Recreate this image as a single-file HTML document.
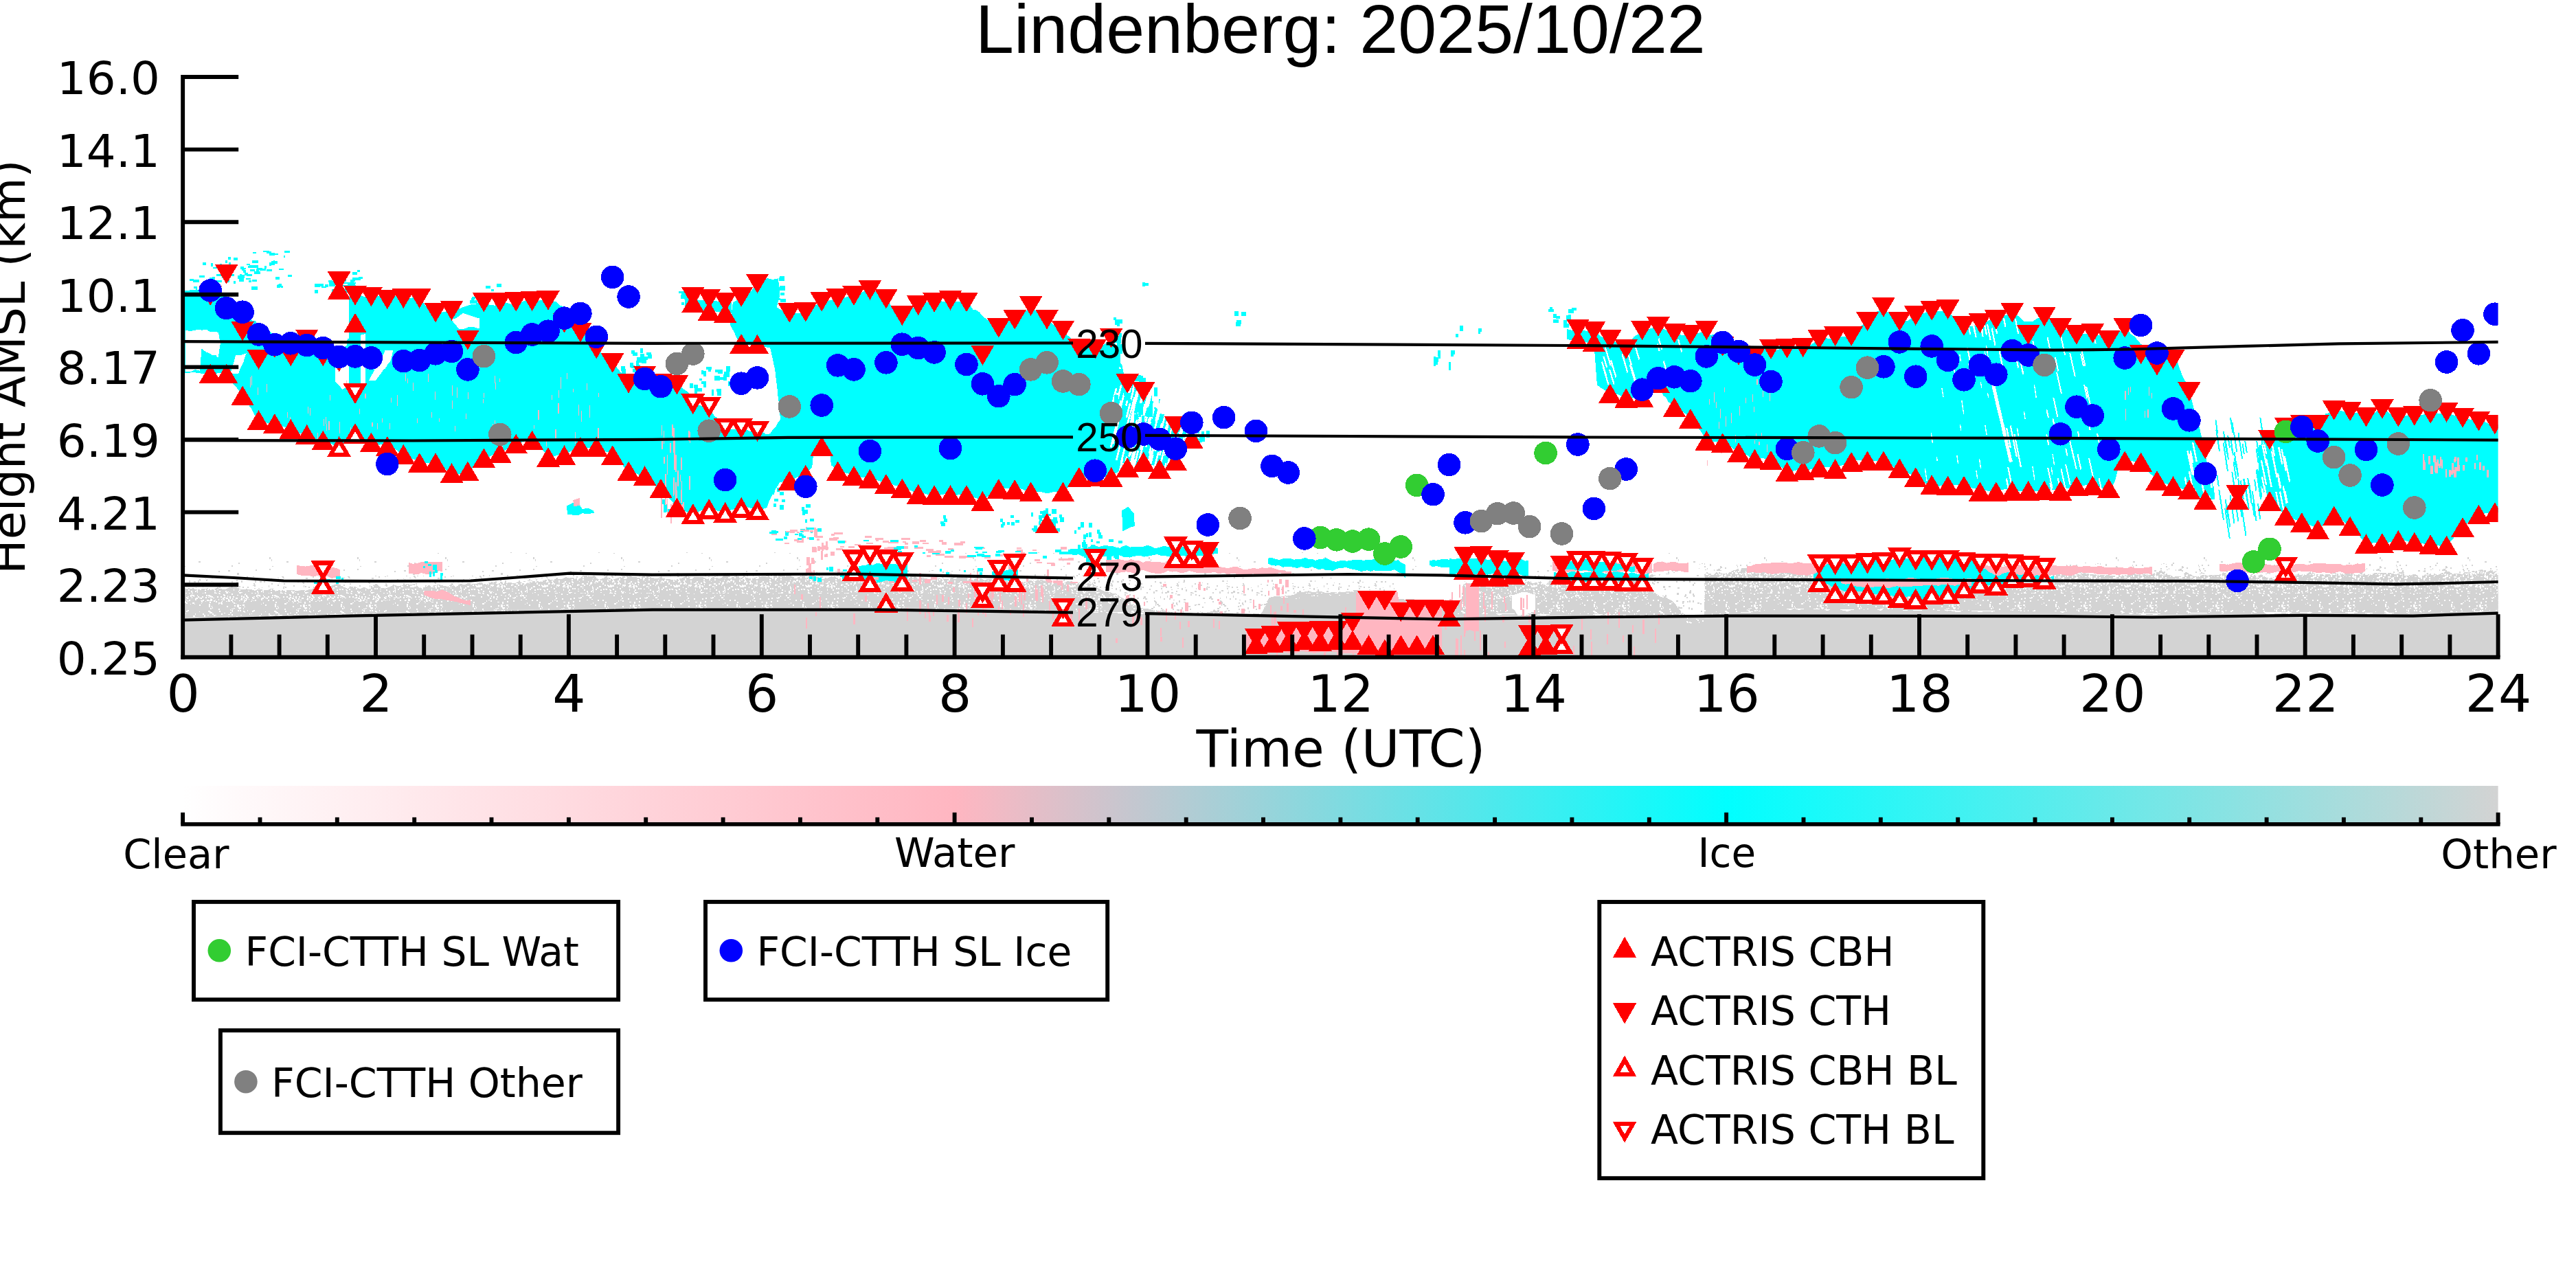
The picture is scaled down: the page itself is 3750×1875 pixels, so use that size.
<!DOCTYPE html>
<html lang="en"><head><meta charset="utf-8"><title>Lindenberg: 2025/10/22</title>
<style>html,body{margin:0;padding:0;background:#fff;overflow:hidden}svg{display:block}</style></head>
<body>
<svg width="3750" height="1875" viewBox="0 0 3750 1875">
<rect width="3750" height="1875" fill="#fff"/>
<defs><clipPath id="axclip"><rect x="266.15" y="112.0" width="3370.45" height="844.8"/></clipPath></defs>
<g id="fills" shape-rendering="crispEdges">
<defs>
<pattern id="n1" width="96" height="96" patternUnits="userSpaceOnUse"><rect width="96" height="96" fill="#d3d3d3"/><path d="M61 84h2v2h-2zM47 56h2v1h-2zM28 4h2v2h-2zM5 78h2v1h-2zM54 61h2v1h-2zM77 85h2v2h-2zM92 92h2v2h-2zM86 81h2v2h-2zM68 73h2v2h-2zM57 22h1v2h-1zM14 80h1v2h-1zM12 25h2v2h-2zM11 55h2v2h-2zM26 11h2v2h-2zM54 59h2v2h-2zM56 56h2v1h-2zM75 70h2v3h-2zM95 47h2v3h-2zM38 2h2v2h-2zM7 67h2v2h-2zM9 31h2v2h-2zM5 10h2v3h-2zM72 74h2v2h-2zM63 61h2v2h-2zM65 76h1v1h-1zM0 4h2v2h-2zM80 6h2v2h-2zM73 56h2v2h-2zM28 76h2v2h-2zM44 22h2v2h-2zM80 27h2v2h-2zM64 75h2v2h-2zM75 68h3v1h-3zM49 58h2v2h-2zM20 77h2v2h-2zM82 83h2v2h-2zM17 28h2v3h-2zM84 22h2v2h-2zM59 92h1v2h-1zM28 83h1v1h-1zM10 15h2v2h-2zM33 13h2v2h-2zM67 4h1v2h-1zM4 59h1v2h-1zM23 85h2v2h-2zM56 49h2v2h-2zM85 67h2v2h-2zM27 42h2v2h-2zM12 96h1v2h-1zM18 40h2v2h-2zM29 34h1v2h-1zM20 46h2v2h-2zM13 39h2v2h-2zM11 27h2v2h-2zM74 34h2v2h-2zM58 51h2v2h-2zM91 60h2v1h-2zM59 41h2v2h-2zM20 42h2v2h-2zM14 35h3v2h-3zM67 31h2v2h-2zM80 75h2v2h-2zM59 64h2v1h-2zM20 83h1v2h-1zM11 30h1v1h-1zM55 63h3v1h-3zM67 19h2v2h-2zM25 95h3v2h-3zM89 59h2v2h-2zM22 14h1v2h-1zM77 11h2v2h-2zM90 54h2v1h-2zM10 40h2v2h-2zM86 92h2v2h-2zM68 46h2v2h-2zM25 57h3v2h-3zM64 7h1v2h-1zM73 92h2v1h-2zM53 68h1v2h-1zM82 39h2v1h-2zM53 44h2v2h-2zM31 44h2v2h-2zM33 38h1v2h-1zM44 10h3v2h-3zM50 38h2v2h-2zM60 80h2v2h-2zM59 85h1v2h-1zM20 76h1v1h-1zM36 79h2v2h-2zM61 42h2v2h-2zM38 57h1v2h-1zM49 57h2v2h-2zM64 50h2v1h-2zM26 21h1v2h-1zM82 36h2v2h-2zM56 6h2v2h-2zM80 87h1v2h-1zM65 72h2v1h-2zM8 35h2v2h-2zM45 26h2v2h-2zM70 42h2v2h-2zM92 79h2v3h-2zM79 55h2v2h-2zM70 36h2v1h-2zM69 0h1v2h-1zM94 76h1v2h-1zM15 5h2v1h-2zM2 30h2v2h-2zM82 64h1v2h-1zM69 55h1v3h-1zM72 75h2v2h-2zM5 78h2v2h-2zM39 15h2v2h-2zM48 65h2v2h-2zM87 28h2v2h-2zM78 30h2v2h-2zM4 6h2v2h-2zM43 83h2v2h-2zM45 83h2v2h-2zM72 96h2v2h-2zM44 66h2v2h-2zM3 47h2v2h-2zM60 21h2v1h-2zM22 26h3v1h-3zM54 49h1v2h-1zM63 6h2v2h-2zM79 13h2v1h-2zM94 91h2v1h-2zM8 75h1v2h-1zM47 72h2v2h-2zM8 39h2v2h-2zM54 86h2v1h-2zM41 86h2v1h-2zM91 63h1v3h-1zM80 65h2v2h-2zM53 49h2v1h-2zM72 83h2v2h-2zM44 47h2v2h-2zM46 37h2v2h-2zM46 71h2v2h-2zM13 61h2v1h-2zM57 15h2v2h-2zM79 14h2v1h-2zM71 38h2v2h-2zM58 96h2v2h-2zM48 26h2v2h-2zM85 38h1v1h-1zM11 34h1v2h-1zM78 95h2v2h-2zM69 6h1v2h-1zM52 96h2v2h-2zM20 25h3v2h-3zM8 58h1v1h-1zM52 13h2v2h-2zM45 77h2v2h-2zM76 31h2v2h-2zM7 95h1v1h-1zM63 8h2v2h-2zM77 63h3v1h-3zM95 92h2v1h-2zM7 9h2v2h-2zM34 48h3v2h-3zM88 78h1v2h-1zM61 66h1v2h-1zM67 16h2v2h-2zM54 64h3v2h-3zM39 81h1v2h-1zM73 59h1v2h-1zM29 58h2v2h-2zM46 5h2v2h-2zM50 40h2v2h-2zM25 53h2v2h-2zM17 17h2v1h-2zM38 5h2v2h-2zM7 61h2v2h-2zM67 10h2v2h-2zM36 62h2v2h-2zM87 70h1v2h-1zM90 45h2v2h-2zM27 84h2v2h-2zM58 87h2v2h-2zM22 63h2v2h-2zM16 36h1v2h-1zM88 25h2v2h-2zM82 62h2v2h-2zM49 17h2v1h-2zM63 3h2v2h-2zM16 53h2v2h-2zM51 66h2v2h-2zM81 35h2v2h-2zM31 92h2v2h-2zM69 46h1v2h-1zM47 39h3v2h-3zM94 85h1v3h-1zM67 8h1v2h-1zM47 60h2v1h-2zM15 68h2v2h-2zM19 57h2v2h-2zM50 81h2v1h-2zM68 58h3v2h-3zM7 21h2v2h-2zM14 38h2v2h-2zM7 72h2v2h-2zM19 34h1v2h-1zM94 46h2v2h-2zM30 70h1v2h-1zM8 85h3v2h-3zM54 79h2v1h-2zM29 31h1v2h-1zM79 32h2v2h-2zM44 39h2v1h-2zM0 4h1v1h-1zM78 59h3v1h-3zM93 26h2v2h-2zM68 27h2v2h-2zM6 31h2v1h-2zM91 59h2v2h-2zM69 53h2v2h-2zM74 67h2v1h-2zM16 38h2v2h-2zM17 3h3v2h-3zM50 20h1v2h-1zM17 89h2v1h-2zM87 1h1v2h-1zM59 64h1v3h-1zM37 74h2v3h-2zM36 79h2v2h-2zM94 6h2v2h-2zM14 42h2v2h-2zM91 80h2v2h-2zM45 63h1v2h-1zM81 53h2v2h-2zM38 88h2v2h-2zM28 63h2v2h-2zM4 10h2v1h-2zM90 29h2v2h-2zM85 3h2v2h-2zM87 42h1v1h-1zM55 31h3v1h-3zM90 83h1v2h-1zM18 89h2v2h-2zM15 41h2v2h-2zM61 27h2v1h-2zM92 38h2v2h-2zM5 39h2v2h-2zM20 48h2v1h-2zM68 71h2v2h-2zM87 5h1v2h-1zM53 9h2v1h-2zM21 74h1v2h-1zM37 43h2v2h-2zM5 66h1v2h-1zM3 77h2v2h-2zM87 28h2v2h-2zM88 57h2v2h-2zM69 22h1v2h-1zM75 52h2v2h-2zM72 25h1v2h-1zM84 42h2v2h-2zM41 57h1v2h-1zM70 7h2v2h-2zM25 49h2v2h-2zM36 21h2v2h-2zM10 57h1v2h-1zM85 55h2v2h-2zM20 4h2v2h-2zM54 18h2v2h-2zM38 20h1v2h-1zM54 52h3v1h-3zM52 89h1v3h-1zM35 81h2v2h-2zM65 65h2v3h-2zM76 50h2v2h-2zM36 51h2v2h-2zM76 59h2v1h-2zM23 24h1v2h-1zM78 41h2v2h-2zM22 13h2v1h-2zM22 71h2v2h-2zM4 64h2v2h-2zM74 60h3v1h-3zM52 83h3v2h-3zM77 62h1v3h-1zM46 94h1v1h-1zM18 8h3v3h-3zM86 17h2v1h-2zM36 81h2v1h-2zM95 36h3v2h-3zM85 37h1v2h-1zM36 66h2v2h-2zM9 57h1v2h-1zM61 34h2v2h-2zM76 23h2v1h-2zM14 35h2v2h-2zM13 24h1v2h-1zM85 62h2v2h-2zM82 24h2v1h-2zM14 14h2v2h-2zM43 66h2v1h-2zM77 68h1v2h-1zM38 60h2v1h-2zM27 32h2v1h-2zM19 55h1v2h-1zM64 24h2v2h-2zM89 43h2v2h-2zM49 61h1v2h-1zM90 3h1v2h-1zM76 25h2v2h-2zM50 12h2v1h-2zM42 94h2v2h-2zM77 12h2v2h-2zM55 70h1v1h-1zM34 31h1v3h-1zM13 81h2v2h-2zM5 87h2v2h-2zM77 53h2v2h-2zM48 18h2v2h-2zM36 35h2v2h-2zM67 33h2v2h-2zM52 35h2v2h-2zM25 65h2v2h-2zM47 42h1v2h-1zM13 72h2v2h-2zM44 8h2v2h-2zM18 6h2v1h-2zM4 72h2v2h-2zM65 88h2v2h-2zM54 65h3v2h-3zM8 60h2v1h-2zM63 51h2v2h-2zM92 38h3v2h-3zM88 69h2v1h-2zM65 48h2v2h-2zM34 48h2v2h-2zM47 45h2v3h-2zM86 64h2v2h-2zM12 17h2v2h-2zM78 39h2v2h-2zM14 18h1v2h-1zM96 49h2v2h-2zM32 53h2v2h-2zM15 2h3v2h-3zM77 23h1v2h-1zM15 37h1v2h-1zM20 12h2v2h-2zM6 68h2v1h-2zM34 18h1v2h-1zM83 49h1v1h-1zM35 77h2v2h-2zM67 62h2v1h-2zM63 60h2v2h-2zM51 85h3v2h-3zM25 55h1v2h-1zM91 22h1v2h-1zM78 60h3v3h-3zM14 62h1v1h-1zM15 60h2v1h-2zM66 29h1v3h-1zM69 9h2v2h-2zM36 6h2v2h-2zM87 54h2v1h-2zM92 42h2v1h-2zM94 22h2v2h-2zM55 40h2v2h-2zM57 85h2v2h-2zM29 20h2v3h-2zM48 65h2v2h-2zM10 68h2v2h-2zM2 64h1v1h-1zM29 60h2v2h-2zM33 69h2v3h-2zM37 81h2v1h-2zM74 8h1v1h-1zM85 15h2v1h-2zM65 55h2v2h-2zM84 16h2v1h-2zM2 6h2v1h-2zM58 53h3v2h-3zM14 89h2v2h-2zM9 40h2v3h-2zM11 20h2v2h-2zM24 83h2v2h-2zM85 52h3v2h-3zM34 44h1v2h-1zM82 38h2v2h-2zM87 35h2v2h-2zM25 73h2v2h-2zM8 37h2v2h-2zM44 15h2v3h-2zM31 81h2v1h-2zM15 68h1v3h-1zM22 54h1v2h-1zM62 8h2v1h-2zM81 23h2v2h-2zM21 84h2v3h-2zM81 51h1v2h-1zM67 11h2v2h-2zM41 94h2v2h-2zM95 74h2v1h-2zM34 86h1v2h-1zM56 82h2v1h-2zM44 36h2v2h-2zM33 4h2v2h-2zM13 55h2v2h-2zM94 31h3v2h-3zM7 70h3v2h-3zM44 18h2v2h-2zM8 55h2v2h-2zM69 31h2v2h-2zM40 28h2v2h-2zM42 83h2v2h-2zM34 15h2v2h-2zM56 26h3v2h-3zM40 16h2v2h-2zM34 12h2v1h-2zM30 58h2v1h-2zM86 58h3v3h-3zM7 45h1v1h-1zM90 29h1v2h-1zM11 18h3v2h-3zM14 29h2v2h-2zM79 62h2v2h-2zM65 27h1v2h-1zM87 65h1v2h-1zM32 39h2v2h-2zM22 6h2v1h-2zM27 72h2v3h-2zM88 52h1v1h-1zM58 83h2v2h-2zM85 96h2v2h-2zM62 22h2v3h-2zM19 43h2v2h-2zM31 64h2v1h-2zM50 45h2v2h-2zM51 67h1v2h-1zM60 94h1v2h-1zM59 59h1v3h-1zM45 19h2v2h-2zM88 52h2v2h-2zM4 63h3v2h-3zM54 78h2v2h-2zM6 4h2v2h-2zM87 94h1v3h-1zM78 16h2v2h-2zM30 80h2v3h-2zM23 29h2v2h-2zM86 20h1v3h-1zM45 65h2v2h-2zM27 75h2v1h-2zM5 24h2v2h-2zM52 80h2v2h-2zM66 14h2v2h-2zM54 63h2v2h-2zM76 55h2v2h-2zM72 5h2v2h-2zM91 46h1v2h-1zM57 32h3v2h-3zM55 35h2v2h-2zM91 42h2v2h-2zM38 83h1v1h-1zM10 94h2v2h-2zM93 6h2v2h-2zM78 56h2v1h-2zM82 6h1v1h-1zM32 50h2v2h-2zM47 73h1v2h-1zM13 9h2v2h-2zM49 34h2v2h-2zM89 17h2v2h-2zM79 68h1v2h-1zM40 50h2v2h-2zM41 68h1v2h-1zM63 65h1v2h-1zM5 72h2v2h-2zM50 7h2v2h-2zM47 49h2v2h-2zM59 71h3v1h-3zM50 19h1v2h-1zM2 68h2v1h-2zM65 57h2v2h-2zM22 51h1v2h-1zM12 28h2v2h-2zM70 2h2v2h-2zM8 45h2v2h-2zM95 89h2v2h-2zM23 68h2v2h-2zM73 89h2v1h-2zM12 46h2v1h-2zM12 17h2v2h-2zM77 43h2v3h-2zM21 25h2v2h-2zM96 18h2v2h-2zM28 89h2v2h-2zM95 56h2v1h-2zM35 14h1v2h-1zM32 21h2v1h-2zM44 19h2v1h-2zM9 55h2v2h-2zM66 4h2v3h-2zM52 25h2v2h-2zM73 82h1v1h-1zM83 95h2v2h-2zM4 27h2v1h-2zM66 13h2v1h-2zM49 0h2v2h-2zM68 1h1v2h-1zM18 66h2v2h-2zM57 2h2v1h-2zM11 18h2v2h-2zM74 83h2v1h-2zM35 10h1v2h-1zM12 2h2v2h-2zM81 4h2v1h-2zM91 67h3v2h-3zM67 63h2v2h-2zM61 46h2v2h-2zM25 9h1v1h-1zM94 19h2v1h-2zM27 78h2v2h-2zM57 46h2v2h-2zM83 67h2v2h-2zM9 59h1v1h-1zM77 60h2v2h-2zM53 61h3v2h-3zM40 36h1v2h-1zM59 55h1v2h-1zM88 63h2v2h-2zM34 8h2v1h-2zM40 71h2v2h-2zM37 8h2v2h-2zM41 6h2v2h-2zM64 78h2v2h-2zM84 50h2v2h-2zM78 9h2v1h-2zM17 46h2v2h-2zM91 45h1v2h-1zM90 54h2v2h-2zM7 49h2v2h-2zM69 36h2v2h-2zM14 9h2v1h-2zM53 53h2v1h-2zM55 6h2v2h-2zM89 13h2v2h-2zM46 66h2v1h-2zM64 71h2v1h-2zM17 56h2v2h-2zM91 64h2v2h-2zM5 14h2v2h-2zM90 15h2v2h-2zM43 17h2v3h-2zM36 60h2v2h-2zM94 87h3v2h-3zM72 30h2v3h-2zM95 96h2v1h-2zM57 85h2v2h-2zM72 56h2v2h-2zM46 4h2v2h-2zM5 51h1v2h-1zM49 65h2v2h-2zM14 12h1v1h-1zM51 4h2v2h-2zM50 62h2v2h-2zM40 66h2v1h-2zM18 60h2v2h-2zM61 58h2v2h-2zM38 47h2v2h-2zM23 90h2v1h-2zM56 41h2v2h-2zM94 66h2v1h-2zM30 65h2v3h-2zM91 56h2v2h-2zM82 90h2v2h-2zM16 83h2v2h-2zM91 33h2v2h-2zM9 32h2v2h-2zM64 70h2v2h-2zM72 67h1v2h-1zM60 10h2v1h-2zM46 22h2v3h-2zM79 33h2v2h-2zM92 30h1v1h-1zM95 41h2v2h-2zM71 4h2v2h-2zM47 69h1v1h-1zM62 85h2v2h-2zM21 22h1v2h-1zM89 2h2v2h-2zM10 90h2v2h-2zM95 2h2v2h-2zM15 10h3v1h-3zM78 41h2v2h-2zM66 71h2v2h-2zM34 63h2v2h-2zM23 24h2v2h-2zM43 3h1v2h-1zM93 37h2v1h-2zM60 28h1v1h-1zM48 60h2v2h-2zM57 19h1v1h-1zM56 31h2v2h-2zM90 50h2v2h-2zM7 76h3v2h-3zM34 53h2v2h-2zM24 94h2v2h-2zM29 84h1v2h-1zM14 26h1v2h-1zM65 69h2v2h-2zM77 52h2v2h-2zM23 10h2v2h-2zM72 31h3v2h-3zM45 96h2v2h-2zM11 11h1v1h-1zM72 73h3v2h-3zM95 93h2v2h-2zM12 53h2v1h-2zM73 41h1v2h-1zM83 9h2v2h-2zM4 6h1v1h-1zM74 31h2v2h-2zM65 68h1v1h-1zM88 2h2v2h-2zM41 11h2v1h-2zM47 65h2v2h-2zM93 35h2v2h-2zM30 8h1v2h-1zM44 84h2v2h-2zM22 25h1v2h-1zM32 66h2v2h-2zM73 66h2v2h-2zM89 16h1v2h-1zM35 24h2v1h-2zM91 17h2v2h-2zM63 94h2v1h-2zM30 13h2v2h-2zM29 78h2v1h-2zM33 53h1v2h-1zM70 25h2v2h-2zM39 50h3v2h-3zM79 66h2v2h-2zM81 56h2v2h-2zM20 71h2v2h-2zM22 31h2v1h-2zM12 42h2v2h-2zM64 32h2v2h-2zM54 24h2v2h-2zM56 81h1v2h-1zM43 93h2v1h-2zM25 85h2v2h-2zM82 28h2v2h-2zM81 10h1v2h-1zM73 16h2v2h-2zM22 19h2v1h-2zM30 50h2v2h-2zM20 61h3v2h-3zM90 13h1v2h-1zM27 32h2v3h-2zM1 80h3v1h-3zM60 90h2v2h-2zM1 33h2v2h-2zM75 78h1v1h-1zM24 91h2v2h-2zM21 58h2v1h-2zM70 14h2v2h-2zM22 34h2v2h-2zM47 5h1v3h-1zM45 54h2v2h-2zM50 24h2v2h-2zM80 72h2v2h-2zM68 88h2v2h-2zM82 83h2v2h-2zM42 13h2v2h-2zM30 95h2v2h-2zM19 62h2v2h-2zM87 95h2v2h-2zM53 59h2v2h-2zM26 84h2v1h-2zM2 52h1v2h-1zM92 42h2v2h-2zM80 85h1v1h-1zM65 23h1v2h-1zM17 51h2v2h-2zM78 41h2v2h-2zM62 64h2v2h-2zM96 8h1v2h-1zM33 18h2v2h-2zM85 2h2v3h-2zM55 14h1v2h-1zM43 53h3v2h-3zM72 27h2v2h-2zM37 1h2v2h-2zM82 65h2v2h-2zM11 77h2v3h-2zM44 73h3v2h-3zM65 20h2v3h-2zM19 57h2v1h-2zM49 59h1v1h-1zM9 55h2v2h-2zM80 54h2v2h-2zM38 67h2v2h-2zM2 78h2v1h-2zM27 34h2v2h-2zM65 82h1v2h-1zM45 80h2v1h-2zM70 3h2v2h-2zM48 66h2v2h-2zM23 75h2v2h-2zM81 53h1v2h-1zM44 41h2v2h-2zM93 46h2v2h-2zM70 58h1v1h-1zM73 53h3v1h-3zM24 29h2v1h-2zM92 50h2v2h-2zM51 71h1v1h-1zM33 54h1v2h-1zM50 10h1v2h-1zM61 94h2v2h-2zM65 79h2v2h-2zM7 49h2v2h-2zM44 68h3v2h-3zM91 24h1v2h-1zM87 65h2v2h-2zM77 62h1v2h-1zM42 40h2v1h-2zM10 70h2v2h-2zM3 89h2v2h-2zM44 56h3v2h-3zM44 46h2v3h-2zM15 49h3v2h-3zM48 9h2v2h-2zM22 58h2v1h-2zM20 56h2v1h-2zM52 58h2v2h-2zM15 33h2v1h-2zM17 27h3v1h-3zM36 24h2v2h-2zM14 57h2v2h-2zM79 5h2v2h-2zM57 56h2v1h-2zM29 84h1v2h-1zM68 70h2v2h-2zM14 69h2v2h-2zM79 81h3v2h-3zM16 84h2v1h-2zM91 81h2v2h-2zM16 69h1v2h-1zM88 13h2v2h-2zM86 58h2v1h-2zM2 58h1v2h-1zM51 60h3v3h-3zM31 0h2v1h-2zM42 6h2v2h-2zM40 92h2v2h-2zM81 37h2v2h-2zM77 59h2v2h-2zM24 22h2v1h-2zM21 57h2v1h-2zM21 12h1v2h-1zM88 61h1v3h-1zM11 5h2v2h-2zM7 71h2v2h-2zM49 14h2v1h-2zM73 50h1v2h-1zM82 32h2v2h-2zM92 7h2v3h-2z" fill="#fff"/></pattern>
<pattern id="n2" width="96" height="96" patternUnits="userSpaceOnUse"><rect width="96" height="96" fill="#d3d3d3"/><path d="M60 62h2v2h-2zM44 45h2v2h-2zM38 28h2v1h-2zM9 31h2v2h-2zM92 93h2v3h-2zM51 48h2v2h-2zM83 92h2v1h-2zM22 48h2v2h-2zM75 29h1v2h-1zM75 81h2v2h-2zM60 21h2v2h-2zM94 36h2v2h-2zM17 12h2v2h-2zM21 44h2v2h-2zM41 96h1v1h-1zM96 52h2v2h-2zM7 29h2v2h-2zM40 95h2v2h-2zM40 89h2v1h-2zM39 9h2v1h-2zM54 48h3v1h-3zM34 29h2v2h-2zM44 30h3v1h-3zM92 81h2v1h-2zM49 24h2v2h-2zM16 18h2v2h-2zM33 81h2v2h-2zM23 64h2v3h-2zM41 73h2v2h-2zM52 95h1v2h-1zM23 48h2v2h-2zM66 21h1v2h-1zM63 60h2v2h-2zM31 25h2v2h-2zM31 86h2v3h-2zM47 23h1v2h-1zM79 63h2v3h-2zM86 35h2v2h-2zM74 6h2v1h-2zM8 68h2v2h-2zM75 67h1v1h-1zM74 41h2v2h-2zM68 26h1v2h-1zM25 31h2v1h-2zM75 10h2v2h-2zM70 80h3v1h-3zM62 7h2v2h-2zM57 0h2v2h-2zM60 20h3v2h-3zM70 68h3v2h-3zM27 91h2v2h-2zM66 74h1v1h-1zM78 29h1v1h-1zM69 39h3v3h-3zM24 55h3v2h-3zM52 12h3v1h-3zM30 14h2v2h-2zM27 87h2v2h-2zM55 46h1v2h-1zM69 95h1v2h-1zM42 18h2v2h-2zM52 21h2v1h-2zM13 87h1v3h-1zM41 6h2v2h-2zM28 34h3v2h-3zM69 37h2v1h-2zM53 17h2v2h-2zM62 31h2v1h-2zM66 47h2v1h-2zM2 66h2v2h-2zM42 10h2v2h-2zM21 46h2v2h-2zM59 12h2v3h-2zM50 85h2v2h-2zM22 63h2v2h-2zM2 26h1v1h-1zM69 90h2v2h-2zM27 71h2v2h-2zM7 34h2v2h-2zM92 15h1v1h-1zM77 95h2v3h-2zM61 52h2v2h-2zM51 53h1v2h-1zM55 89h2v2h-2zM83 78h1v1h-1zM15 25h3v2h-3zM23 95h2v2h-2zM54 88h2v1h-2zM3 92h2v1h-2zM69 56h2v2h-2zM81 24h2v2h-2zM31 82h2v2h-2zM50 25h1v2h-1zM78 89h2v2h-2zM50 41h3v2h-3zM50 77h2v2h-2zM33 13h2v1h-2zM27 89h1v2h-1zM16 83h1v1h-1zM92 29h1v2h-1zM57 16h3v2h-3zM55 81h1v2h-1zM36 10h1v2h-1zM18 21h2v2h-2zM83 85h1v2h-1zM22 47h2v2h-2zM26 67h2v1h-2zM62 61h1v2h-1zM93 8h2v1h-2zM30 73h2v2h-2zM58 24h2v2h-2zM95 13h2v2h-2zM15 47h2v2h-2zM7 44h2v1h-2zM9 33h2v1h-2zM80 80h2v2h-2zM93 3h2v1h-2zM8 79h2v2h-2zM78 40h2v2h-2zM28 54h2v2h-2zM66 16h2v2h-2zM14 31h2v1h-2zM9 87h3v2h-3zM49 30h2v2h-2zM4 43h1v1h-1zM55 33h1v1h-1zM57 18h3v2h-3zM91 60h2v2h-2zM24 56h2v2h-2zM76 6h1v2h-1zM4 45h1v2h-1zM3 67h2v2h-2zM18 64h1v1h-1zM29 88h2v2h-2zM64 33h2v1h-2zM68 93h1v3h-1zM57 80h2v2h-2zM16 15h2v3h-2zM2 41h1v2h-1zM13 73h2v1h-2zM80 95h2v1h-2zM5 87h1v2h-1zM66 94h2v3h-2zM49 22h3v1h-3zM57 16h2v2h-2zM30 22h2v2h-2zM13 9h2v2h-2zM66 73h3v2h-3zM38 92h2v2h-2zM70 75h2v2h-2zM42 95h2v2h-2zM49 42h1v1h-1zM26 94h2v2h-2zM17 86h1v1h-1zM52 60h1v3h-1zM1 44h2v1h-2zM49 89h1v2h-1zM69 70h2v2h-2zM2 84h2v2h-2zM52 95h2v2h-2zM79 88h2v2h-2zM57 65h3v1h-3zM74 63h2v2h-2zM58 16h2v2h-2zM78 62h2v3h-2zM6 9h2v2h-2zM15 1h1v2h-1zM23 31h2v2h-2zM50 7h2v2h-2zM75 90h1v2h-1zM93 65h2v2h-2zM4 40h2v2h-2zM17 64h2v1h-2zM62 95h2v2h-2zM66 25h2v2h-2zM48 71h2v1h-2zM21 20h1v2h-1zM88 2h2v2h-2zM47 27h2v2h-2zM13 57h1v2h-1zM44 65h2v2h-2zM64 62h2v2h-2zM61 90h1v2h-1zM72 24h1v2h-1zM66 11h2v2h-2zM86 9h2v1h-2zM59 80h2v2h-2zM81 93h3v3h-3zM79 25h2v2h-2zM78 86h2v1h-2zM11 38h2v1h-2zM13 71h2v2h-2zM2 67h3v1h-3zM61 17h2v1h-2zM4 57h2v1h-2zM3 54h2v2h-2zM44 39h2v1h-2zM19 35h2v2h-2zM58 40h2v2h-2zM51 44h3v3h-3zM81 52h2v2h-2zM84 36h2v2h-2zM36 61h2v2h-2zM43 36h2v2h-2zM57 86h1v2h-1zM67 6h2v2h-2zM41 55h2v2h-2zM37 37h1v2h-1zM61 24h2v2h-2zM67 19h2v1h-2zM72 44h1v2h-1zM17 26h2v3h-2zM64 74h1v2h-1zM17 56h2v2h-2zM53 80h2v2h-2zM80 3h1v2h-1zM59 19h1v3h-1zM25 95h1v3h-1zM58 46h2v2h-2zM40 3h1v2h-1zM12 69h2v2h-2zM75 60h1v1h-1zM52 43h1v2h-1zM90 5h3v2h-3zM65 44h2v1h-2zM80 65h2v2h-2zM2 16h2v2h-2zM67 6h2v2h-2zM29 2h2v2h-2zM9 80h2v2h-2zM54 51h1v1h-1zM83 82h2v2h-2zM19 27h2v2h-2zM31 41h1v2h-1zM89 32h3v2h-3zM18 87h2v1h-2zM20 18h1v2h-1zM55 42h2v1h-2zM34 86h2v2h-2zM64 82h2v2h-2zM70 79h2v3h-2zM5 56h2v2h-2zM3 94h2v2h-2zM39 60h2v1h-2zM93 94h2v2h-2zM17 76h1v2h-1zM28 76h2v2h-2zM76 65h2v1h-2zM21 29h2v2h-2zM62 90h2v2h-2zM32 14h1v2h-1zM20 83h2v2h-2zM37 34h1v2h-1zM65 16h2v2h-2zM77 5h2v2h-2z" fill="#fff"/></pattern>
<pattern id="n3" width="96" height="96" patternUnits="userSpaceOnUse"><path d="M84 10h2v3h-2zM76 47h2v2h-2zM3 61h3v2h-3zM27 71h2v2h-2zM93 87h1v1h-1zM13 16h2v1h-2zM83 70h2v1h-2zM85 59h1v2h-1zM58 88h2v2h-2zM11 81h2v2h-2zM61 73h3v2h-3zM71 71h2v2h-2zM50 41h2v2h-2zM11 16h2v2h-2zM12 76h2v2h-2zM69 49h2v1h-2zM55 17h2v2h-2zM60 24h2v2h-2zM14 36h2v3h-2zM40 49h2v1h-2zM31 86h2v2h-2zM57 4h1v2h-1zM0 77h2v3h-2zM28 88h2v3h-2zM55 48h2v1h-2zM73 41h2v2h-2zM48 10h2v2h-2zM33 56h1v2h-1zM73 62h2v3h-2zM57 5h1v2h-1zM64 94h3v3h-3zM23 38h1v1h-1zM11 92h3v2h-3zM10 45h1v1h-1zM48 6h1v2h-1zM29 81h2v2h-2zM36 65h2v2h-2zM19 35h2v2h-2zM64 32h2v1h-2zM90 78h3v2h-3zM91 8h3v2h-3zM45 31h3v2h-3zM7 84h1v3h-1zM82 61h2v1h-2zM49 42h2v2h-2zM57 79h2v3h-2zM15 58h2v2h-2zM25 13h2v1h-2zM63 38h2v2h-2zM89 53h2v3h-2zM65 86h2v2h-2zM51 49h1v3h-1zM37 54h2v2h-2zM58 21h2v2h-2zM90 31h2v1h-2zM62 7h2v2h-2zM44 21h3v2h-3zM46 54h2v2h-2zM56 25h2v1h-2zM8 58h1v2h-1zM17 2h2v2h-2zM47 19h2v2h-2zM37 94h2v2h-2zM35 7h3v2h-3zM56 79h2v2h-2zM82 1h2v2h-2zM94 90h2v3h-2zM79 0h2v1h-2zM49 78h2v2h-2zM33 4h3v2h-3zM5 44h3v2h-3zM64 62h3v2h-3zM86 30h2v2h-2zM63 77h2v3h-2zM50 15h1v3h-1zM34 68h2v1h-2zM39 59h2v2h-2zM20 83h2v2h-2zM67 3h1v3h-1zM29 32h2v2h-2zM6 46h2v2h-2zM49 78h2v2h-2zM34 67h2v2h-2zM72 86h2v2h-2zM8 56h2v2h-2zM49 11h2v2h-2zM75 22h2v2h-2zM25 28h2v2h-2zM13 75h1v3h-1zM52 15h3v2h-3zM75 34h2v2h-2zM54 17h2v2h-2zM81 81h1v2h-1zM38 29h2v2h-2zM23 6h3v2h-3zM11 30h3v1h-3zM81 23h2v2h-2zM95 61h1v2h-1zM53 34h3v3h-3zM28 37h2v3h-2zM32 6h2v2h-2zM58 84h1v3h-1zM80 84h2v1h-2zM80 13h2v2h-2zM88 88h2v3h-2zM38 24h3v2h-3zM15 68h2v3h-2zM5 94h3v2h-3zM80 15h2v1h-2zM5 60h3v3h-3zM24 48h1v1h-1zM74 53h1v1h-1zM3 76h1v2h-1zM55 43h2v2h-2zM81 34h2v1h-2zM37 11h2v2h-2zM8 95h2v2h-2zM29 85h1v3h-1zM47 93h2v3h-2zM34 62h2v2h-2zM91 12h3v1h-3zM40 69h1v2h-1zM43 84h2v2h-2zM20 29h2v2h-2zM83 77h2v3h-2zM73 94h3v2h-3zM73 90h2v1h-2zM31 31h3v3h-3zM19 26h1v1h-1zM81 56h2v2h-2zM60 92h1v1h-1zM20 73h2v1h-2zM50 91h3v2h-3zM38 45h2v3h-2zM26 70h2v2h-2zM2 45h2v2h-2zM14 43h2v2h-2zM44 26h2v1h-2zM40 66h1v2h-1zM2 18h3v2h-3zM77 52h2v1h-2zM28 64h2v2h-2zM41 62h2v2h-2zM33 4h2v2h-2zM34 28h2v2h-2zM9 57h2v2h-2zM96 7h1v2h-1zM16 15h3v2h-3zM75 13h2v2h-2zM22 80h1v1h-1zM71 63h2v1h-2zM80 92h2v2h-2zM8 62h2v2h-2zM28 87h2v1h-2zM81 16h2v1h-2zM81 52h1v2h-1zM66 68h2v3h-2zM39 24h1v2h-1zM40 43h1v2h-1zM44 24h3v3h-3zM32 54h1v2h-1zM11 74h1v1h-1zM31 69h2v2h-2zM30 29h2v1h-2zM72 45h2v1h-2zM73 37h2v2h-2zM12 1h2v2h-2zM20 78h1v1h-1zM72 27h3v2h-3zM88 20h2v3h-2zM2 75h2v2h-2zM82 88h2v1h-2zM0 32h2v2h-2zM84 1h2v2h-2zM54 26h3v2h-3zM73 59h2v2h-2zM38 66h2v1h-2zM13 30h3v3h-3zM28 73h2v1h-2zM60 85h2v2h-2zM76 9h2v1h-2zM33 60h2v2h-2zM46 27h2v2h-2zM96 5h3v1h-3zM34 5h2v2h-2zM56 76h2v2h-2zM90 25h1v3h-1zM70 7h2v2h-2zM67 92h3v3h-3zM5 1h2v2h-2zM74 33h2v3h-2zM74 18h2v2h-2zM22 19h2v2h-2zM39 34h1v2h-1zM13 88h1v2h-1zM41 89h2v2h-2zM82 81h1v2h-1zM4 22h2v2h-2zM57 37h1v1h-1zM50 12h2v3h-2zM59 94h2v2h-2zM33 35h3v2h-3zM77 17h2v2h-2zM80 68h2v2h-2zM82 83h2v3h-2zM80 71h2v1h-2zM83 23h2v3h-2z" fill="#d3d3d3"/></pattern>
<pattern id="n4" width="128" height="128" patternUnits="userSpaceOnUse"><path d="M34 126h2v1h-2zM8 29h3v2h-3zM24 124h1v1h-1zM8 43h2v3h-2zM76 62h3v2h-3zM59 76h2v3h-2zM105 28h3v2h-3zM72 7h2v2h-2zM89 66h3v3h-3zM94 110h2v2h-2zM84 119h2v2h-2zM103 84h2v1h-2zM12 56h2v1h-2zM63 8h2v2h-2zM4 72h2v2h-2zM33 49h3v2h-3zM32 122h1v1h-1zM126 117h2v3h-2zM112 23h1v2h-1zM47 120h2v3h-2zM16 73h3v1h-3zM11 46h1v3h-1zM46 6h2v3h-2zM124 98h2v2h-2zM124 18h2v3h-2zM65 4h1v2h-1zM116 61h2v2h-2zM115 77h3v2h-3zM94 12h2v2h-2zM16 81h1v2h-1zM61 81h1v2h-1zM78 112h2v3h-2zM92 1h3v2h-3zM9 88h2v2h-2zM122 77h1v2h-1zM91 51h2v2h-2zM84 116h2v2h-2zM89 5h2v3h-2zM125 37h2v1h-2zM103 36h2v1h-2zM8 60h2v2h-2zM1 84h2v2h-2zM32 118h1v2h-1zM69 112h3v3h-3zM81 55h2v2h-2zM62 63h2v2h-2zM112 98h2v2h-2zM54 11h1v2h-1zM105 93h3v2h-3z" fill="#d3d3d3"/></pattern>
</defs>
<g clip-path="url(#axclip)">
<path d="M266.1 897.4L272.2 897.7L278.3 898.5L284.4 897.4L290.5 896.2L296.6 894.6L302.7 897.4L308.7 895.1L314.8 898.4L320.9 897.2L327.0 897.6L333.1 898.7L339.2 896.3L345.2 897.7L351.3 896.1L357.4 896.3L363.5 895.5L369.6 894.5L375.7 896.2L381.7 896.1L387.8 895.2L393.9 897.4L400.0 895.9L406.1 896.9L412.2 895.8L418.2 896.4L424.3 897.2L430.4 894.9L436.5 894.1L442.6 895.2L448.7 895.5L454.7 896.4L460.8 895.6L466.9 897.6L473.0 895.9L479.1 894.2L485.2 895.7L491.2 894.5L497.3 894.8L503.4 892.5L509.5 890.9L515.6 892.1L521.7 890.2L527.7 892.7L533.8 890.7L539.9 893.0L546.0 894.3L552.0 892.1L558.1 893.2L564.1 892.6L570.1 891.4L576.1 891.4L582.2 891.3L588.2 890.3L594.2 890.9L600.3 893.1L606.3 892.7L612.3 891.3L618.4 894.2L624.4 894.6L630.4 892.2L636.4 891.2L642.5 888.3L648.5 888.3L654.5 888.2L660.6 887.5L666.6 887.8L672.6 888.9L678.7 888.2L684.7 888.5L690.7 888.0L696.7 892.1L702.8 890.3L708.8 887.8L714.8 888.2L720.9 889.2L726.9 889.9L732.9 888.0L739.0 888.0L745.0 890.9L751.0 891.1L757.0 888.9L763.1 889.0L769.1 889.4L775.1 887.4L781.2 890.8L787.2 891.1L793.2 891.2L799.3 888.9L805.3 886.8L811.3 886.1L817.3 887.2L823.4 888.4L829.4 891.1L835.4 889.9L841.5 887.6L847.5 886.3L853.5 888.9L859.6 888.5L865.6 889.4L871.6 887.2L877.6 889.0L883.7 888.4L889.7 887.7L895.7 887.2L901.8 887.6L907.8 888.4L913.8 886.5L919.9 884.9L925.9 888.2L931.9 886.7L937.9 887.8L944.0 886.5L950.0 883.6L956.1 887.3L962.1 887.9L968.2 887.3L974.2 886.2L980.3 885.3L986.3 885.4L992.4 884.5L998.4 885.4L1004.5 884.3L1010.5 886.5L1016.6 886.6L1022.7 885.7L1028.7 884.4L1034.8 884.8L1040.8 885.2L1046.9 883.9L1052.9 885.7L1059.0 885.2L1065.0 886.5L1071.1 884.8L1077.1 883.7L1083.2 885.9L1089.3 886.9L1095.3 887.1L1101.4 887.1L1107.4 887.3L1113.5 886.4L1119.5 887.4L1125.6 887.8L1131.6 887.0L1137.7 888.5L1143.7 886.7L1149.8 885.7L1155.9 883.9L1161.9 884.4L1168.0 886.8L1174.0 885.4L1180.1 884.6L1186.1 888.4L1192.2 887.1L1198.2 885.5L1204.3 888.2L1210.3 885.5L1216.4 885.4L1222.5 884.5L1228.5 884.6L1234.6 886.0L1240.6 884.2L1246.7 885.6L1252.7 885.9L1258.8 887.3L1264.8 884.1L1270.9 884.7L1276.9 882.9L1283.0 885.8L1289.0 885.5L1295.0 886.4L1301.1 886.5L1307.1 883.6L1313.1 885.9L1319.1 886.4L1325.2 887.0L1331.2 886.2L1337.2 885.6L1343.2 884.9L1349.2 887.5L1355.3 884.8L1361.3 885.7L1367.3 884.7L1373.3 884.1L1379.3 884.9L1385.4 886.5L1391.4 886.4L1397.4 885.6L1403.4 885.2L1409.5 888.0L1415.5 886.9L1421.5 887.6L1427.5 889.3L1433.5 890.0L1439.6 888.5L1445.6 890.5L1451.6 889.4L1457.6 889.5L1463.7 888.2L1469.7 886.3L1475.7 887.4L1481.7 885.9L1487.7 887.5L1493.8 889.2L1499.8 887.5L1505.8 888.0L1511.8 887.4L1517.8 889.0L1523.9 890.0L1529.9 890.4L1535.9 888.3L1541.9 887.3L1548.0 888.5L1554.0 888.3L1560.0 886.8L1566.1 887.1L1572.2 885.8L1578.3 887.1L1584.4 889.4L1590.6 891.1L1596.7 892.5L1602.8 890.3L1608.9 891.3L1615.0 893.0L1621.1 891.7L1627.2 892.5L1633.3 893.5L1639.4 891.2L1645.6 892.4L1651.7 893.4L1657.8 893.7L1663.9 893.5L1670.0 890.4L1676.1 890.5L1682.2 891.3L1688.3 891.7L1694.4 892.8L1700.6 890.9L1706.7 894.2L1712.8 893.4L1718.9 892.4L1725.0 893.4L1731.1 891.8L1737.2 892.7L1743.3 895.7L1749.4 893.6L1755.6 894.4L1761.7 895.0L1767.8 893.5L1773.9 892.7L1780.0 893.9L1786.1 893.1L1792.2 892.5L1798.3 894.8L1804.4 894.3L1810.6 894.8L1816.7 893.6L1822.8 895.1L1828.9 898.4L1835.0 894.7L1838.2 891.5L1841.5 883.2L1844.8 878.4L1848.0 871.0L1854.5 869.1L1861.0 868.9L1867.5 869.8L1874.0 869.9L1880.5 867.9L1887.0 864.0L1893.5 862.7L1900.0 861.4L1906.2 860.8L1912.3 862.3L1918.5 861.1L1924.7 861.1L1930.8 864.2L1937.0 863.7L1943.2 862.8L1949.3 864.5L1955.5 862.8L1961.7 860.6L1967.8 861.8L1974.0 861.9L1980.0 860.5L1985.9 861.8L1991.9 865.0L1997.8 867.0L2003.8 868.3L2009.7 869.1L2015.7 868.4L2021.6 870.4L2027.6 871.9L2033.5 869.7L2039.5 871.9L2045.4 872.7L2051.4 873.8L2057.3 874.6L2063.3 875.5L2069.2 876.3L2075.2 875.1L2081.1 877.5L2087.1 876.8L2093.0 881.4L2099.0 879.3L2104.5 884.5L2110.0 890.9L2116.1 891.0L2122.1 893.6L2128.2 893.2L2134.2 893.2L2140.3 892.3L2146.4 891.0L2152.4 892.6L2158.5 893.9L2164.5 893.7L2170.6 892.6L2176.7 892.9L2182.7 895.6L2188.8 893.8L2194.8 893.8L2200.9 894.4L2207.0 892.9L2213.0 895.0L2219.1 895.7L2225.2 894.9L2231.2 892.6L2237.3 894.3L2243.3 895.7L2249.4 895.8L2255.5 894.5L2261.5 893.6L2267.6 893.6L2273.6 892.8L2279.7 891.7L2285.8 894.1L2291.8 891.2L2297.9 893.4L2303.9 892.3L2310.0 892.4L2316.2 893.3L2322.3 895.6L2328.5 895.9L2334.7 893.8L2340.9 896.6L2347.0 893.4L2353.2 895.3L2359.4 893.8L2365.6 896.5L2371.7 892.9L2377.9 893.9L2384.1 894.2L2390.3 896.8L2396.4 894.9L2402.6 896.5L2408.8 896.6L2415.0 896.6L2421.1 896.5L2427.3 894.5L2433.5 894.5L2439.7 897.1L2445.8 894.5L2452.0 895.9L2459.2 892.7L2466.5 893.2L2473.8 896.8L2481.0 898.0L2487.3 896.6L2493.5 896.3L2499.8 893.8L2506.1 894.5L2512.3 893.1L2518.6 890.5L2524.8 890.7L2531.1 891.3L2537.4 892.2L2543.6 892.3L2549.9 891.4L2556.2 889.1L2562.4 889.7L2568.7 886.9L2574.9 887.1L2581.2 888.5L2587.5 886.5L2593.7 884.3L2600.0 886.0L2606.0 888.4L2612.0 885.7L2618.0 888.0L2624.0 887.1L2630.0 885.2L2636.0 885.4L2642.0 887.0L2648.0 886.5L2654.0 886.6L2660.0 889.4L2666.0 886.4L2672.0 886.8L2678.0 887.2L2684.0 889.3L2690.0 889.7L2696.0 888.0L2702.0 887.0L2708.0 886.9L2714.0 887.7L2720.0 885.0L2726.0 885.5L2732.0 887.1L2738.0 889.0L2744.0 885.6L2750.0 885.9L2756.0 887.1L2762.0 886.4L2768.0 888.0L2774.0 889.4L2780.0 887.6L2786.0 888.8L2792.0 888.7L2798.0 888.5L2804.0 887.4L2810.0 888.3L2816.0 887.3L2822.0 889.2L2828.0 887.2L2834.0 889.6L2840.0 889.2L2846.0 890.6L2852.0 891.5L2858.0 887.6L2864.0 886.4L2870.0 889.6L2876.0 890.1L2882.0 890.8L2888.0 890.3L2894.0 889.5L2900.0 890.7L2906.0 888.7L2912.0 887.2L2918.0 888.2L2924.0 888.0L2930.0 887.2L2936.0 888.0L2942.0 887.8L2948.0 890.1L2954.0 887.3L2960.0 888.9L2966.0 888.4L2972.0 889.3L2978.0 888.3L2984.0 890.2L2990.0 889.0L2996.2 888.7L3002.4 892.1L3008.7 889.3L3014.9 890.2L3021.1 890.7L3027.3 890.8L3033.5 891.2L3039.7 889.4L3046.0 889.5L3052.2 891.9L3058.4 890.2L3064.6 890.2L3070.8 889.2L3077.0 892.0L3083.3 890.1L3089.5 893.3L3095.7 890.1L3101.9 894.5L3108.1 891.5L3114.3 893.8L3120.6 895.2L3126.8 894.1L3133.0 894.4L3139.0 895.0L3145.1 893.5L3151.1 892.7L3157.1 892.6L3163.1 890.9L3169.2 893.9L3175.2 891.4L3181.2 891.1L3187.2 892.3L3193.3 893.5L3199.3 892.7L3205.3 892.9L3211.4 892.7L3217.4 891.9L3223.4 891.0L3229.4 890.4L3235.5 893.1L3241.5 891.0L3247.5 890.7L3253.6 890.5L3259.6 889.7L3265.6 889.3L3271.6 890.2L3277.7 893.0L3283.7 890.6L3289.7 891.4L3295.8 891.9L3301.8 894.9L3307.8 894.2L3313.8 893.0L3319.9 892.7L3325.9 891.5L3331.9 894.1L3337.9 890.4L3344.0 890.6L3350.0 891.9L3356.0 891.8L3362.1 893.5L3368.1 890.2L3374.1 890.5L3380.2 888.8L3386.2 890.6L3392.3 891.9L3398.3 890.8L3404.3 889.5L3410.4 890.2L3416.4 892.2L3422.4 893.2L3428.5 892.2L3434.5 891.1L3440.6 891.7L3446.6 893.8L3452.6 893.2L3458.7 891.0L3464.7 891.3L3470.7 892.5L3476.8 894.5L3482.8 893.4L3488.9 890.4L3494.9 889.5L3500.9 891.3L3507.0 892.9L3513.0 889.9L3519.2 890.1L3525.4 889.6L3531.5 888.9L3537.7 889.5L3543.9 889.3L3550.1 890.8L3556.3 891.0L3562.4 888.2L3568.6 888.9L3574.8 891.2L3581.0 889.3L3587.2 888.9L3593.3 888.8L3599.5 889.7L3605.7 891.7L3611.9 890.8L3618.1 888.2L3624.2 887.4L3630.4 888.0L3636.6 889.0L3636.6 956.8L266.1 956.8Z" fill="#d3d3d3"/>
<path d="M266.1 855.3L272.3 857.4L278.5 857.1L284.6 857.7L290.8 857.9L296.9 856.7L303.1 856.4L309.2 858.5L315.4 856.0L321.5 857.1L327.7 858.5L333.8 855.0L340.0 853.4L346.2 856.0L352.3 858.5L358.5 857.4L364.6 857.9L370.8 859.5L376.9 857.6L383.1 858.7L389.2 859.0L395.4 856.8L401.5 860.6L407.7 858.8L413.8 859.9L420.0 859.1L426.2 858.7L432.3 860.2L438.5 858.7L444.6 859.6L450.8 858.0L456.9 856.4L463.1 855.6L469.2 854.6L475.4 850.2L481.5 853.1L487.7 850.8L493.8 849.1L500.0 854.6L506.1 856.8L512.1 853.5L518.2 854.4L524.2 857.5L530.3 854.4L536.4 858.0L542.4 852.1L548.5 849.6L554.5 856.0L560.6 856.6L566.7 854.8L572.7 851.0L578.8 853.4L584.8 852.8L590.9 849.4L597.0 851.1L603.0 849.9L609.1 854.4L615.2 856.4L621.2 851.5L627.3 852.8L633.3 851.9L639.4 850.7L645.5 852.5L651.5 853.9L657.6 849.7L663.6 854.7L669.7 849.3L675.8 851.3L681.8 848.6L687.9 850.0L693.9 849.9L700.0 846.8L706.2 849.9L712.4 848.0L718.6 846.7L724.8 849.1L731.0 848.3L737.1 847.4L743.3 848.3L749.5 849.2L755.7 846.5L761.9 849.3L768.1 848.7L774.3 844.6L780.5 846.0L786.7 846.8L792.9 843.7L799.0 843.3L805.2 844.4L811.4 840.9L817.6 843.5L823.8 840.2L830.0 842.0L836.0 839.9L842.0 843.7L848.0 838.6L854.0 838.3L860.0 838.7L866.0 838.3L872.0 843.9L878.0 841.7L884.0 837.4L890.0 843.2L896.0 842.6L902.0 840.7L908.0 836.8L914.0 836.4L920.0 839.7L926.0 840.4L932.0 840.9L938.0 838.9L944.0 839.5L950.0 841.2L956.2 842.3L962.5 839.2L968.8 843.1L975.0 843.4L981.2 844.4L987.5 842.9L993.8 841.2L1000.0 837.7L1006.0 841.4L1012.0 840.1L1018.0 840.0L1024.0 840.5L1030.0 843.3L1036.0 839.7L1042.0 840.6L1048.0 842.5L1054.0 837.8L1060.0 837.6L1066.0 840.6L1072.0 838.2L1078.0 839.9L1084.0 840.0L1090.0 841.7L1096.0 842.3L1102.0 839.3L1108.0 839.5L1114.0 838.8L1120.0 835.5L1126.0 836.6L1132.0 834.9L1138.0 837.5L1144.0 836.2L1150.0 837.6L1156.0 840.7L1162.0 839.9L1168.0 837.4L1174.0 838.0L1180.0 840.5L1186.0 840.1L1192.0 840.1L1198.0 838.6L1204.0 842.0L1210.0 839.4L1216.0 838.9L1222.0 841.7L1228.0 842.5L1234.0 840.4L1240.0 839.1L1246.0 838.1L1252.0 836.0L1258.0 836.9L1264.0 838.3L1270.0 839.1L1276.0 843.8L1282.0 840.1L1288.0 842.8L1294.0 840.2L1300.0 838.2L1306.0 839.1L1312.1 838.5L1318.1 836.2L1324.2 838.4L1330.2 836.5L1336.3 842.8L1342.3 841.1L1348.4 842.1L1354.4 843.9L1360.5 845.2L1366.5 842.1L1372.6 842.8L1378.6 843.2L1384.7 841.4L1390.7 839.4L1396.7 839.9L1402.8 840.6L1408.8 842.4L1414.9 844.5L1420.9 841.6L1427.0 841.7L1433.0 844.7L1439.1 842.5L1445.1 844.4L1451.2 846.8L1457.2 843.1L1463.3 846.3L1469.3 845.6L1475.3 844.2L1481.4 845.1L1487.4 848.1L1493.5 847.2L1499.5 844.8L1505.6 846.5L1511.6 843.6L1517.7 844.5L1523.7 846.2L1529.8 848.4L1535.8 847.0L1541.9 849.4L1547.9 849.4L1554.0 846.0L1560.0 846.1L1566.0 849.5L1572.0 847.8L1578.0 851.8L1584.0 849.1L1590.0 847.9L1596.0 855.2L1602.0 858.2L1608.0 860.8L1614.0 861.7L1620.0 863.1L1625.5 864.8L1631.0 868.9L1636.5 871.3L1642.0 871.1L1647.5 879.5L1653.0 880.9L1658.5 887.0L1664.0 887.3L1670.0 887.2L1676.0 887.4L1682.0 892.0L1688.0 889.1L1694.0 886.9L1700.0 893.6L1706.1 895.9L1712.3 892.0L1718.4 895.4L1724.5 896.7L1730.7 893.7L1736.8 894.6L1743.0 891.2L1749.1 891.4L1755.2 891.8L1761.4 890.8L1767.5 887.2L1773.6 891.6L1779.8 893.6L1785.9 893.2L1792.0 895.9L1798.2 894.3L1804.3 897.1L1810.5 897.2L1816.6 895.6L1822.7 893.6L1828.9 893.0L1835.0 893.7L1838.2 889.3L1841.5 882.4L1844.8 874.4L1848.0 870.5L1854.0 870.8L1860.0 869.3L1866.0 868.5L1872.0 869.0L1878.0 869.6L1884.0 872.3L1890.0 869.4L1896.0 868.4L1902.0 869.2L1908.0 866.8L1914.0 870.4L1920.0 867.5L1926.0 868.1L1932.0 865.8L1938.0 866.9L1944.0 865.6L1950.0 861.2L1956.0 862.3L1962.0 865.5L1968.0 861.7L1974.0 864.1L1980.2 861.8L1986.5 865.6L1992.8 866.0L1999.0 860.6L2005.2 863.4L2011.5 861.0L2017.8 862.0L2024.0 863.6L2030.2 860.7L2036.5 861.0L2042.8 861.9L2049.0 860.2L2055.2 860.2L2061.5 863.0L2067.8 863.4L2074.0 862.3L2080.2 858.1L2086.5 858.5L2092.8 858.0L2099.0 858.1L2104.8 853.2L2110.7 857.2L2116.5 853.8L2122.3 852.6L2128.2 852.0L2134.0 848.8L2140.1 849.4L2146.1 850.4L2152.2 849.5L2158.3 851.3L2164.3 854.4L2170.4 855.3L2176.5 848.3L2182.6 846.5L2188.6 843.8L2194.7 848.5L2200.8 849.1L2206.8 848.3L2212.9 849.4L2219.0 848.6L2225.0 846.0L2231.1 849.1L2237.2 847.9L2243.2 846.3L2249.3 852.2L2255.4 845.4L2261.4 845.1L2267.5 850.1L2273.6 848.0L2279.7 851.0L2285.7 851.5L2291.8 844.1L2297.9 849.0L2303.9 847.0L2310.0 848.6L2316.0 843.3L2322.0 841.1L2328.0 841.6L2334.0 840.0L2340.0 841.0L2346.0 842.6L2352.0 841.8L2358.0 840.5L2364.0 843.2L2370.0 838.5L2376.0 838.3L2382.0 840.0L2388.0 838.1L2394.0 840.2L2400.0 838.4L2406.5 835.6L2413.0 839.1L2419.5 837.9L2426.0 835.3L2432.5 833.6L2439.0 837.3L2445.5 835.9L2452.0 837.3L2452.1 842.3L2452.2 846.9L2452.3 853.2L2452.4 860.2L2452.5 865.0L2452.5 874.4L2452.6 884.0L2452.7 884.5L2452.8 892.6L2452.9 900.4L2453.0 907.3L2460.0 908.8L2467.0 903.5L2474.0 907.4L2481.0 904.2L2481.1 900.0L2481.2 893.1L2481.2 886.9L2481.3 880.2L2481.4 870.9L2481.5 867.9L2481.6 859.5L2481.7 856.8L2481.8 852.2L2481.8 841.6L2481.9 838.6L2482.0 832.1L2488.2 834.1L2494.4 836.9L2500.6 831.7L2506.8 834.9L2513.1 834.5L2519.3 832.9L2525.5 828.9L2531.7 829.7L2537.9 826.6L2544.1 827.5L2550.3 826.8L2556.5 830.6L2562.7 828.8L2568.9 828.6L2575.2 826.8L2581.4 829.2L2587.6 829.0L2593.8 826.8L2600.0 830.0L2606.0 826.4L2612.0 827.9L2618.0 822.8L2624.0 826.0L2630.0 825.2L2636.0 826.8L2642.0 827.1L2648.0 831.7L2654.0 825.7L2660.0 827.8L2666.0 825.3L2672.0 825.6L2678.0 829.8L2684.0 826.8L2690.0 827.6L2696.0 832.7L2702.0 829.3L2708.0 831.6L2714.0 831.7L2720.0 830.7L2726.0 828.4L2732.0 830.7L2738.0 832.6L2744.0 833.7L2750.0 828.6L2756.0 833.5L2762.0 829.1L2768.0 829.8L2774.0 828.6L2780.0 829.8L2786.0 825.6L2792.0 832.2L2798.0 833.8L2804.0 835.4L2810.0 832.9L2816.0 832.9L2822.0 832.6L2828.0 834.2L2834.0 831.4L2840.0 831.5L2846.0 833.2L2852.0 832.1L2858.0 829.3L2864.0 832.5L2870.0 830.3L2876.0 829.4L2882.0 827.2L2888.0 828.0L2894.0 827.2L2900.0 827.1L2906.0 831.1L2912.0 831.9L2918.0 830.4L2924.0 830.3L2930.0 831.2L2936.0 829.2L2942.0 829.2L2948.0 829.8L2954.0 826.8L2960.0 830.3L2966.0 831.8L2972.0 832.6L2978.0 831.0L2984.0 827.0L2990.0 832.1L2996.0 829.2L3002.0 831.3L3008.0 827.8L3014.0 834.1L3020.0 830.3L3026.0 831.5L3032.0 833.8L3038.0 834.7L3044.0 836.4L3050.0 836.1L3056.0 837.6L3062.0 836.5L3068.0 836.5L3074.0 838.5L3080.0 838.3L3086.0 835.6L3092.0 838.4L3098.0 836.0L3104.0 835.2L3110.0 835.5L3116.0 835.2L3122.0 833.4L3128.0 837.5L3134.0 835.4L3140.0 832.7L3146.0 832.3L3152.0 832.2L3158.0 836.3L3164.0 839.8L3170.0 838.9L3176.0 839.5L3182.0 832.3L3188.0 835.2L3194.0 839.2L3200.0 839.5L3206.1 837.1L3212.2 837.3L3218.3 836.6L3224.4 837.0L3230.5 836.7L3236.6 833.4L3242.7 834.4L3248.8 836.9L3254.9 838.3L3261.0 837.6L3267.1 839.0L3273.2 839.6L3279.3 834.7L3285.4 839.8L3291.5 836.0L3297.6 840.1L3303.7 841.9L3309.8 840.4L3315.9 835.9L3322.0 836.5L3328.0 833.2L3334.1 836.3L3340.2 837.0L3346.3 834.4L3352.4 836.8L3358.5 835.4L3364.6 831.4L3370.7 836.1L3376.8 835.7L3382.9 836.7L3389.0 835.5L3395.1 837.5L3401.2 835.8L3407.3 832.5L3413.4 834.7L3419.5 832.4L3425.6 836.1L3431.7 837.2L3437.8 831.4L3443.9 835.3L3450.0 836.7L3456.0 833.8L3462.0 834.4L3468.1 833.8L3474.1 834.2L3480.1 833.9L3486.1 835.9L3492.1 834.8L3498.2 831.4L3504.2 838.1L3510.2 836.6L3516.2 836.2L3522.2 838.7L3528.3 837.9L3534.3 833.7L3540.3 834.6L3546.3 835.8L3552.3 835.6L3558.3 831.7L3564.4 831.6L3570.4 835.5L3576.4 834.5L3582.4 835.1L3588.4 832.8L3594.5 833.5L3600.5 831.1L3606.5 830.3L3612.5 828.9L3618.5 832.4L3624.6 832.2L3630.6 829.1L3636.6 834.0L3636.6 889.0L3513.0 892.0L3350.0 891.0L3133.0 893.0L2990.0 890.0L2600.0 886.0L2481.0 896.0L2452.0 896.0L2310.0 894.0L2110.0 893.0L2099.0 880.0L1974.0 862.0L1900.0 863.0L1848.0 872.0L1835.0 895.0L1670.0 892.0L1560.0 890.0L1283.0 886.0L950.0 886.0L546.0 893.0L266.1 899.0Z" fill="url(#n1)"/>
<path d="M266.1 879.0L272.3 880.6L278.5 879.3L284.6 879.6L290.8 879.5L296.9 877.8L303.1 875.7L309.2 875.4L315.4 877.5L321.5 880.8L327.7 877.4L333.8 877.5L340.0 878.8L346.2 879.3L352.3 878.0L358.5 876.9L364.6 876.2L370.8 874.6L376.9 875.9L383.1 874.9L389.2 873.1L395.4 873.4L401.5 871.6L407.7 872.3L413.8 873.1L420.0 872.1L426.2 877.4L432.3 879.9L438.5 874.3L444.6 873.3L450.8 874.2L456.9 875.2L463.1 875.1L469.2 877.3L475.4 876.3L481.5 875.9L487.7 876.8L493.8 871.0L500.0 870.4L506.1 871.2L512.1 869.3L518.2 871.3L524.2 875.6L530.3 875.2L536.4 875.6L542.4 871.6L548.5 876.8L554.5 871.7L560.6 876.1L566.7 871.0L572.7 871.3L578.8 871.3L584.8 870.8L590.9 873.3L597.0 876.1L603.0 871.0L609.1 874.9L615.2 877.4L621.2 877.6L627.3 875.2L633.3 872.1L639.4 871.1L645.5 872.4L651.5 872.7L657.6 875.7L663.6 871.9L669.7 874.9L675.8 872.3L681.8 869.1L687.9 868.4L693.9 867.4L700.0 871.4L706.2 867.8L712.4 869.1L718.6 871.4L724.8 871.2L731.0 867.5L737.1 868.1L743.3 868.8L749.5 866.6L755.7 867.1L761.9 870.3L768.1 865.2L774.3 864.4L780.5 862.6L786.7 863.7L792.9 862.3L799.0 863.5L805.2 862.3L811.4 859.9L817.6 867.1L823.8 864.0L830.0 866.9L836.0 863.5L842.0 862.4L848.0 862.3L854.0 867.4L860.0 868.4L866.0 865.6L872.0 862.7L878.0 862.4L884.0 863.6L890.0 862.8L896.0 866.7L902.0 863.6L908.0 865.8L914.0 862.0L920.0 864.5L926.0 863.9L932.0 864.0L938.0 859.4L944.0 862.9L950.0 865.3L956.2 868.1L962.5 864.9L968.8 861.3L975.0 861.3L981.2 862.8L987.5 865.2L993.8 858.9L1000.0 860.0L1006.0 861.3L1012.0 866.7L1018.0 865.8L1024.0 864.2L1030.0 863.1L1036.0 862.0L1042.0 864.9L1048.0 864.4L1054.0 863.2L1060.0 863.1L1066.0 859.9L1072.0 860.9L1078.0 866.3L1084.0 868.1L1090.0 868.2L1096.0 866.0L1102.0 867.3L1108.0 864.4L1114.0 866.3L1120.0 865.2L1126.0 865.4L1132.0 859.5L1138.0 862.5L1144.0 861.0L1150.0 861.0L1156.0 861.3L1162.0 861.9L1168.0 859.0L1174.0 863.9L1180.0 862.6L1186.0 858.8L1192.0 860.7L1198.0 862.4L1204.0 861.2L1210.0 859.5L1216.0 859.8L1222.0 859.8L1228.0 863.3L1234.0 863.5L1240.0 862.8L1246.0 867.7L1252.0 864.3L1258.0 861.0L1264.0 865.7L1270.0 864.7L1276.0 864.8L1282.0 863.1L1288.0 860.9L1294.0 859.0L1300.0 862.1L1306.0 865.6L1312.1 867.0L1318.1 869.5L1324.2 865.3L1330.2 864.3L1336.3 865.9L1342.3 861.7L1348.4 866.3L1354.4 864.0L1360.5 864.3L1366.5 866.9L1372.6 864.7L1378.6 863.9L1384.7 862.9L1390.7 866.3L1396.7 861.5L1402.8 863.1L1408.8 861.7L1414.9 862.6L1420.9 861.3L1427.0 866.4L1433.0 868.6L1439.1 867.6L1445.1 865.9L1451.2 868.5L1457.2 866.8L1463.3 867.2L1469.3 866.9L1475.3 865.7L1481.4 868.7L1487.4 871.0L1493.5 866.0L1499.5 866.9L1505.6 864.9L1511.6 864.6L1517.7 866.3L1523.7 865.5L1529.8 864.2L1535.8 862.7L1541.9 867.8L1547.9 862.7L1554.0 866.0L1560.0 866.3L1566.0 866.7L1572.0 870.3L1578.0 870.8L1584.0 874.0L1590.0 876.3L1596.0 876.0L1602.0 873.4L1608.0 877.9L1614.0 879.6L1620.0 877.8L1626.3 879.7L1632.6 880.9L1638.9 882.5L1645.1 880.9L1651.4 885.0L1657.7 885.1L1664.0 885.5L1670.0 885.9L1676.0 887.5L1682.0 888.0L1688.0 889.7L1694.0 888.0L1700.0 889.6L1706.1 893.2L1712.3 895.2L1718.4 897.8L1724.5 892.2L1730.7 896.0L1736.8 894.2L1743.0 894.5L1749.1 890.8L1755.2 893.6L1761.4 891.0L1767.5 890.5L1773.6 892.7L1779.8 892.3L1785.9 895.9L1792.0 894.2L1798.2 898.4L1804.3 894.7L1810.5 899.1L1816.6 894.1L1822.7 893.6L1828.9 896.9L1835.0 897.2L1838.2 891.2L1841.5 884.6L1844.8 879.1L1848.0 870.2L1854.0 868.4L1860.0 867.9L1866.0 868.3L1872.0 867.1L1878.0 871.8L1884.0 871.5L1890.0 872.7L1896.0 867.4L1902.0 864.7L1908.0 866.3L1914.0 868.7L1920.0 868.2L1926.0 867.7L1932.0 866.0L1938.0 866.2L1944.0 868.1L1950.0 866.4L1956.0 868.9L1962.0 863.9L1968.0 865.5L1974.0 858.6L1980.2 862.0L1986.5 863.3L1992.8 865.7L1999.0 865.6L2005.2 861.9L2011.5 861.4L2017.8 862.0L2024.0 866.4L2030.2 863.3L2036.5 868.5L2042.8 863.0L2049.0 866.5L2055.2 870.5L2061.5 869.8L2067.8 871.3L2074.0 871.1L2080.2 868.0L2086.5 866.1L2092.8 868.3L2099.0 866.0L2106.0 868.9L2113.0 871.9L2120.0 868.8L2127.0 868.9L2134.0 867.5L2140.1 871.9L2146.1 872.1L2152.2 869.2L2158.3 869.2L2164.3 870.4L2170.4 874.1L2176.5 870.1L2182.6 872.4L2188.6 869.6L2194.7 870.1L2200.8 872.5L2206.8 870.7L2212.9 870.1L2219.0 870.6L2225.0 875.6L2231.1 869.3L2237.2 870.5L2243.2 868.1L2249.3 866.9L2255.4 864.0L2261.4 866.8L2267.5 869.9L2273.6 871.8L2279.7 871.3L2285.7 871.5L2291.8 869.5L2297.9 869.8L2303.9 868.5L2310.0 869.1L2316.0 868.5L2322.0 865.5L2328.0 864.5L2334.0 865.2L2340.0 864.9L2346.0 864.2L2352.0 865.8L2358.0 868.5L2364.0 868.7L2370.0 870.3L2376.0 865.8L2382.0 863.9L2388.0 863.4L2394.0 864.3L2400.0 862.2L2406.5 866.9L2413.0 867.0L2419.5 869.9L2426.0 870.6L2432.5 867.3L2439.0 869.0L2445.5 865.9L2452.0 864.7L2452.2 874.2L2452.4 884.2L2452.6 887.3L2452.8 891.9L2453.0 896.6L2460.0 902.3L2467.0 901.5L2474.0 902.7L2481.0 903.3L2481.2 896.8L2481.3 886.6L2481.5 882.8L2481.7 879.0L2481.8 869.5L2482.0 864.3L2488.2 864.9L2494.4 864.9L2500.6 863.9L2506.8 864.5L2513.1 862.0L2519.3 861.7L2525.5 861.1L2531.7 860.3L2537.9 857.2L2544.1 861.8L2550.3 861.0L2556.5 861.0L2562.7 860.0L2568.9 858.9L2575.2 861.7L2581.4 859.5L2587.6 860.3L2593.8 858.5L2600.0 855.5L2606.0 853.8L2612.0 857.4L2618.0 855.4L2624.0 858.5L2630.0 857.8L2636.0 858.9L2642.0 857.8L2648.0 859.1L2654.0 857.9L2660.0 857.0L2666.0 855.1L2672.0 855.8L2678.0 852.5L2684.0 855.9L2690.0 855.2L2696.0 857.3L2702.0 860.9L2708.0 856.9L2714.0 859.8L2720.0 856.3L2726.0 857.4L2732.0 858.6L2738.0 859.1L2744.0 859.8L2750.0 859.3L2756.0 860.2L2762.0 864.0L2768.0 861.3L2774.0 857.2L2780.0 860.0L2786.0 860.0L2792.0 863.1L2798.0 858.4L2804.0 858.1L2810.0 860.4L2816.0 861.5L2822.0 859.3L2828.0 860.8L2834.0 861.5L2840.0 857.7L2846.0 860.9L2852.0 863.0L2858.0 857.6L2864.0 857.9L2870.0 853.9L2876.0 859.1L2882.0 857.3L2888.0 859.2L2894.0 857.7L2900.0 858.1L2906.0 863.0L2912.0 862.0L2918.0 861.2L2924.0 859.9L2930.0 856.6L2936.0 856.7L2942.0 861.2L2948.0 860.6L2954.0 857.4L2960.0 862.6L2966.0 862.3L2972.0 858.8L2978.0 860.4L2984.0 860.7L2990.0 860.9L2996.0 861.9L3002.0 865.2L3008.0 860.1L3014.0 860.9L3020.0 861.1L3026.0 861.6L3032.0 860.5L3038.0 862.7L3044.0 863.7L3050.0 863.2L3056.0 858.9L3062.0 859.4L3068.0 862.1L3074.0 862.6L3080.0 866.1L3086.0 866.3L3092.0 866.6L3098.0 862.3L3104.0 863.8L3110.0 865.7L3116.0 861.3L3122.0 866.5L3128.0 864.2L3134.0 863.7L3140.0 862.3L3146.0 861.8L3152.0 860.6L3158.0 858.7L3164.0 861.2L3170.0 861.7L3176.0 865.2L3182.0 865.8L3188.0 869.7L3194.0 863.8L3200.0 865.0L3206.1 862.9L3212.2 860.7L3218.3 863.2L3224.4 863.3L3230.5 865.0L3236.6 870.1L3242.7 869.3L3248.8 865.3L3254.9 866.6L3261.0 866.6L3267.1 867.9L3273.2 866.3L3279.3 861.4L3285.4 863.5L3291.5 863.8L3297.6 865.2L3303.7 868.3L3309.8 866.3L3315.9 863.5L3322.0 863.5L3328.0 863.3L3334.1 862.2L3340.2 859.3L3346.3 860.9L3352.4 864.6L3358.5 864.0L3364.6 861.3L3370.7 860.5L3376.8 859.6L3382.9 859.8L3389.0 861.3L3395.1 862.9L3401.2 862.6L3407.3 864.5L3413.4 860.5L3419.5 863.6L3425.6 864.7L3431.7 861.8L3437.8 860.8L3443.9 861.4L3450.0 860.5L3456.0 858.7L3462.0 861.5L3468.1 862.9L3474.1 861.1L3480.1 862.0L3486.1 863.0L3492.1 862.0L3498.2 858.8L3504.2 857.8L3510.2 859.4L3516.2 862.0L3522.2 862.7L3528.3 865.1L3534.3 862.9L3540.3 862.7L3546.3 863.5L3552.3 865.6L3558.3 865.1L3564.4 866.1L3570.4 865.2L3576.4 867.4L3582.4 863.3L3588.4 863.2L3594.5 861.8L3600.5 860.3L3606.5 858.8L3612.5 861.5L3618.5 864.6L3624.6 862.5L3630.6 865.4L3636.6 861.5L3636.6 889.0L3513.0 892.0L3350.0 891.0L3133.0 893.0L2990.0 890.0L2600.0 886.0L2481.0 896.0L2452.0 896.0L2310.0 894.0L2110.0 893.0L2099.0 880.0L1974.0 862.0L1900.0 863.0L1848.0 872.0L1835.0 895.0L1670.0 892.0L1560.0 890.0L1283.0 886.0L950.0 886.0L546.0 893.0L266.1 899.0Z" fill="url(#n2)"/>
<path d="M266.1 840.0L950.0 836.0L1300.0 830.0L1560.0 834.0L1664.0 846.0L1835.0 850.0L2099.0 844.0L2310.0 834.0L2452.0 826.0L2482.0 818.0L2990.0 820.0L3636.6 822.0L3636.6 834.0L3450.0 836.0L3200.0 836.0L2990.0 832.0L2600.0 828.0L2482.0 832.0L2481.0 905.0L2453.0 905.0L2452.0 838.0L2400.0 838.0L2310.0 846.0L2134.0 850.0L2099.0 860.0L1974.0 862.0L1848.0 872.0L1835.0 895.0L1700.0 894.0L1664.0 886.0L1620.0 860.0L1560.0 847.0L1300.0 840.0L1000.0 840.0L950.0 840.0L830.0 842.0L700.0 851.0L500.0 856.0L266.1 858.0Z" fill="url(#n3)"/>
<path d="M266.1 810.0L950.0 800.0L1560.0 800.0L2310.0 805.0L3636.6 808.0L3636.6 822.0L2990.0 820.0L2482.0 818.0L2452.0 826.0L2310.0 834.0L2099.0 844.0L1835.0 850.0L1664.0 846.0L1560.0 834.0L1300.0 830.0L950.0 836.0L266.1 840.0Z" fill="url(#n4)"/>
<path d="M1664.0 846.0L1835.0 850.0L1835.0 895.0L1664.0 892.0Z" fill="url(#n3)"/>
<path d="M2030.0 830.0L2130.0 830.0L2128.0 874.0L2036.0 872.0Z" fill="#fff"/>
<path d="M2396.7 843.9L2402.9 841.1L2409.1 841.0L2415.3 837.8L2421.4 835.3L2427.6 836.2L2433.8 834.3L2440.0 834.4L2446.8 833.3L2453.5 832.2L2460.3 829.7L2467.1 829.2L2473.8 827.5L2480.6 827.0L2480.6 832.7L2480.6 840.0L2480.6 844.1L2480.6 847.9L2480.6 854.0L2480.6 861.1L2480.6 867.5L2480.6 873.1L2480.6 879.9L2480.6 887.2L2480.6 891.1L2480.6 898.5L2473.6 897.2L2466.6 898.5L2459.6 896.1L2452.6 894.5L2447.9 891.0L2443.3 885.9L2438.7 879.3L2434.0 874.3L2428.4 871.5L2422.8 867.7L2417.2 866.5L2411.6 865.0L2406.0 860.9L2402.9 853.9L2399.8 846.7L2396.7 842.9Z" fill="#fff"/>
<path d="M2201.0 867.6L2208.0 864.3L2215.0 862.2L2221.7 861.5L2228.3 864.1L2235.0 865.4L2235.0 871.4L2235.0 876.0L2235.0 881.8L2235.0 887.4L2235.0 891.6L2228.8 891.3L2222.5 894.1L2216.2 894.9L2210.0 896.6L2205.5 889.3L2201.0 885.1L2201.0 878.0L2201.0 872.0L2201.0 866.0Z" fill="#fff"/>
<path d="M2440 874h3v2h-3zM2453 865h2v3h-2zM2471 877h3v2h-3zM2476 889h2v2h-2zM2450 845h3v2h-3zM2442 855h3v2h-3zM2464 874h2v3h-2zM2456 875h2v2h-2zM2444 884h3v2h-3zM2470 837h3v2h-3zM2421 853h3v3h-3zM2412 847h3v2h-3zM2423 857h2v2h-2zM2429 853h3v2h-3zM2450 881h2v2h-2zM2460 859h2v3h-2zM2459 845h2v3h-2zM2440 846h2v2h-2zM2465 866h2v3h-2zM2418 843h2v2h-2zM2459 874h2v3h-2zM2405 847h2v3h-2zM2449 875h3v2h-3zM2475 878h2v2h-2zM2464 850h2v3h-2zM2441 863h3v3h-3zM2407 849h2v2h-2zM2452 867h2v2h-2zM2462 885h2v3h-2zM2459 861h3v3h-3zM2458 884h2v3h-2zM2455 869h2v2h-2zM2447 884h2v2h-2zM2453 895h3v2h-3zM2466 848h2v2h-2zM2408 845h2v2h-2zM2443 883h2v3h-2zM2405 841h2v2h-2zM2424 866h2v3h-2zM2464 864h2v3h-2zM2449 877h2v2h-2z" fill="#d3d3d3"/>
<path d="M1974.0 957.1L1974.0 950.5L1974.0 945.5L1974.0 939.4L1974.0 933.3L1974.0 926.1L1974.0 919.8L1974.0 913.5L1974.0 906.1L1974.0 899.6L1974.0 893.1L1974.0 886.8L1974.0 880.2L1974.0 873.1L1974.0 867.9L1974.0 863.0L1980.0 863.9L1986.0 863.5L1992.0 861.2L1998.0 860.8L2004.0 861.4L2010.0 860.5L2016.0 860.2L2022.0 861.4L2028.0 859.9L2034.0 860.6L2035.5 869.2L2037.0 875.7L2043.2 876.3L2049.4 877.3L2055.6 878.7L2061.8 878.8L2068.0 877.3L2074.2 878.5L2080.4 877.9L2086.6 878.2L2092.8 879.7L2099.0 880.8L2099.0 887.3L2099.0 894.6L2099.0 898.6L2099.0 905.1L2099.0 910.8L2099.0 919.2L2099.0 924.5L2099.0 932.4L2099.0 937.1L2099.0 944.7L2099.0 950.7L2099.0 956.0L2092.8 957.4L2086.5 956.5L2080.2 955.4L2074.0 956.2L2067.8 957.1L2061.5 956.2L2055.2 956.8L2049.0 957.0L2042.8 957.8L2036.5 956.9L2030.2 957.2L2024.0 956.8L2017.8 956.3L2011.5 956.8L2005.2 955.8L1999.0 957.4L1992.8 957.6L1986.5 955.6L1980.2 958.0L1974.0 957.0Z" fill="#ffb6c1"/>
<path d="M2134.0 848.9L2140.3 850.0L2146.7 849.5L2153.0 851.4L2153.0 858.2L2153.0 862.4L2153.0 869.6L2153.0 877.8L2153.0 882.5L2153.0 887.2L2153.0 893.0L2153.0 901.2L2153.0 905.7L2153.0 912.6L2153.0 918.8L2146.7 919.5L2140.3 917.1L2134.0 918.1L2134.0 911.4L2134.0 906.3L2134.0 902.1L2134.0 894.3L2134.0 888.5L2134.0 881.6L2134.0 877.4L2134.0 869.4L2134.0 864.9L2134.0 858.2L2134.0 851.0Z" fill="#ffb6c1"/>
<path d="M1814.0 917.3L1820.6 917.2L1827.1 917.7L1833.7 915.9L1840.3 913.4L1846.9 914.1L1853.4 913.0L1860.0 912.0L1866.0 912.8L1872.0 912.9L1878.0 913.7L1884.0 912.2L1890.0 913.0L1896.0 912.0L1902.0 910.7L1908.0 910.1L1914.0 908.8L1920.0 908.6L1926.0 907.7L1932.0 910.0L1938.0 911.1L1944.0 911.7L1950.0 910.4L1956.0 908.9L1962.0 906.8L1968.0 909.3L1974.0 908.2L1974.0 915.3L1974.0 921.3L1974.0 926.1L1974.0 931.4L1974.0 937.2L1974.0 944.4L1974.0 950.8L1967.8 951.1L1961.7 950.6L1955.5 951.3L1949.4 948.7L1943.2 949.4L1937.1 947.5L1930.9 950.1L1924.8 948.5L1918.6 950.0L1912.5 951.0L1906.3 949.2L1900.2 948.6L1894.0 947.8L1887.8 950.5L1881.7 950.7L1875.5 950.8L1869.4 949.1L1863.2 947.8L1857.1 948.2L1850.9 948.1L1844.8 950.5L1838.6 949.9L1832.5 948.1L1826.3 948.5L1820.2 949.7L1814.0 949.9L1814.0 945.0L1814.0 938.5L1814.0 932.6L1814.0 927.2L1814.0 918.0Z" fill="#ffb6c1"/>
<path d="M2191 878h2v12h-2zM2222 866h2v21h-2zM2189 868h2v10h-2zM2233 888h2v21h-2zM2130 856h2v27h-2zM2118 946h2v24h-2zM2119 929h2v16h-2zM2171 861h2v26h-2zM2139 888h3v13h-3zM2126 872h2v16h-2zM2187 897h3v9h-3zM2190 934h2v9h-2zM2159 862h2v24h-2zM2113 862h2v12h-2zM2131 894h2v9h-2zM2149 897h3v20h-3zM2110 872h3v20h-3zM2217 946h3v10h-3zM2227 902h2v12h-2zM2217 871h2v14h-2zM2225 896h3v10h-3zM2161 882h2v23h-2zM2149 862h3v19h-3zM2124 851h2v19h-2zM2103 897h3v20h-3zM2132 900h2v22h-2zM2120 930h3v24h-3zM2216 887h3v12h-3zM2131 910h3v10h-3zM2129 854h2v11h-2zM2126 925h2v29h-2zM2154 918h2v29h-2zM2131 898h2v29h-2zM2166 949h2v13h-2zM2213 870h3v18h-3zM2131 946h2v17h-2zM2146 917h2v16h-2z" fill="#ffb6c1"/>
<path d="M1858 942h2v18h-2zM1871 914h2v20h-2zM1854 898h2v24h-2zM1856 890h2v18h-2zM1958 884h2v11h-2zM1916 914h2v23h-2zM1927 945h3v13h-3zM1966 911h2v24h-2zM1849 881h2v13h-2zM1969 945h2v17h-2zM1953 941h2v17h-2zM1851 898h2v18h-2zM1946 947h3v11h-3zM1846 947h2v11h-2z" fill="#ffb6c1"/>
<path d="M1610.0 815.3L1616.0 814.3L1622.0 815.4L1628.0 814.0L1634.0 814.9L1640.0 816.6L1646.0 814.0L1652.0 816.0L1658.0 815.8L1664.0 818.8L1670.0 816.4L1676.0 817.8L1682.0 818.3L1688.0 818.3L1694.0 818.8L1700.0 819.5L1706.2 816.7L1712.5 816.3L1718.8 815.3L1725.0 817.1L1731.2 817.1L1737.5 820.6L1743.8 820.8L1750.0 820.3L1756.2 820.7L1762.5 822.4L1768.8 823.9L1775.0 825.3L1781.2 825.7L1787.5 827.3L1793.8 825.6L1800.0 824.5L1806.2 827.4L1812.3 829.5L1818.5 828.2L1824.6 826.8L1830.8 828.1L1836.9 826.2L1843.1 827.4L1849.2 825.8L1855.4 827.6L1861.5 829.8L1867.7 830.5L1873.8 831.9L1880.0 832.0L1880.0 837.1L1873.8 836.8L1867.7 834.8L1861.5 834.1L1855.4 836.7L1849.2 836.2L1843.1 836.7L1836.9 836.2L1830.8 838.6L1824.6 835.1L1818.5 836.5L1812.3 836.8L1806.2 838.6L1800.0 835.6L1793.8 834.7L1787.5 836.5L1781.2 833.7L1775.0 835.5L1768.8 833.1L1762.5 833.6L1756.2 834.4L1750.0 833.5L1743.8 834.4L1737.5 832.5L1731.2 831.1L1725.0 833.3L1718.8 834.3L1712.5 831.8L1706.2 832.6L1700.0 831.0L1694.0 834.0L1688.0 835.1L1682.0 834.6L1676.0 834.0L1670.0 832.0L1664.0 829.9L1658.0 831.3L1652.0 835.1L1646.0 833.3L1640.0 832.4L1634.0 832.8L1628.0 834.3L1622.0 834.4L1616.0 832.8L1610.0 832.9L1610.0 827.4L1610.0 820.7L1610.0 815.0Z" fill="#ffb6c1"/>
<path d="M1832 879h3v8h-3zM1883 888h4v4h-4zM1772 872h3v3h-3zM1896 887h2v8h-2zM1810 853h2v11h-2zM1846 860h2v7h-2zM1686 890h2v6h-2zM1845 844h2v4h-2zM1703 866h4v5h-4zM1705 879h3v7h-3zM1693 850h5v4h-5zM1725 877h5v13h-5zM1776 890h4v6h-4zM1774 876h4v4h-4zM1710 890h2v12h-2zM1744 850h3v8h-3zM1866 854h3v11h-3zM1745 847h3v12h-3zM1868 868h2v11h-2zM1807 886h5v7h-5zM1864 882h3v7h-3zM1752 856h3v4h-3zM1718 887h3v10h-3zM1873 878h3v13h-3zM1854 891h4v11h-4zM1856 850h4v7h-4zM1862 843h4v7h-4zM1858 855h5v12h-5zM1871 844h5v11h-5zM1824 873h2v13h-2z" fill="#ffb6c1"/>
<path d="M3231.0 821.1L3237.1 821.0L3243.1 822.2L3249.2 820.3L3255.2 819.4L3261.3 819.1L3267.3 820.8L3273.4 819.2L3279.5 820.6L3285.5 820.8L3291.6 822.5L3297.6 821.1L3303.7 822.1L3309.7 823.2L3315.8 822.1L3321.9 821.0L3327.9 822.1L3334.0 821.4L3340.0 821.6L3346.1 821.1L3352.1 820.7L3358.2 822.6L3364.3 821.3L3370.3 819.5L3376.4 820.2L3382.4 819.5L3388.5 821.0L3394.5 821.4L3400.6 820.9L3406.7 821.2L3412.7 823.3L3418.8 821.5L3424.8 822.7L3430.9 820.4L3436.9 820.7L3443.0 819.7L3443.0 826.4L3443.0 832.1L3436.9 833.7L3430.9 833.8L3424.8 835.0L3418.8 835.5L3412.7 834.4L3406.7 831.9L3400.6 833.4L3394.5 834.7L3388.5 834.3L3382.4 833.0L3376.4 834.2L3370.3 833.4L3364.3 832.1L3358.2 832.4L3352.1 831.9L3346.1 831.0L3340.0 833.0L3334.0 831.6L3327.9 831.9L3321.9 833.6L3315.8 832.2L3309.7 833.5L3303.7 834.0L3297.6 833.2L3291.6 833.4L3285.5 834.9L3279.5 832.3L3273.4 834.1L3267.3 832.4L3261.3 833.8L3255.2 833.0L3249.2 831.5L3243.1 831.2L3237.1 832.1L3231.0 831.2L3231.0 824.5L3231.0 821.0Z" fill="#ffb6c1"/>
<path d="M2984.0 823.5L2990.2 822.8L2996.4 823.9L3002.6 824.3L3008.8 823.4L3015.0 823.9L3021.2 822.9L3027.5 825.3L3033.7 824.2L3039.9 824.1L3046.1 825.0L3052.3 824.6L3058.5 824.0L3064.7 826.3L3070.9 825.5L3077.1 826.4L3083.3 825.6L3089.5 826.2L3095.8 827.2L3102.0 824.9L3108.2 826.9L3114.4 826.8L3120.6 826.5L3126.8 825.9L3133.0 824.5L3133.0 837.1L3126.8 834.8L3120.6 835.4L3114.4 835.9L3108.2 835.3L3102.0 837.1L3095.8 836.4L3089.5 836.3L3083.3 836.8L3077.1 836.3L3070.9 836.7L3064.7 836.0L3058.5 836.4L3052.3 835.5L3046.1 833.9L3039.9 834.4L3033.7 833.6L3027.5 833.4L3021.2 836.0L3015.0 838.1L3008.8 838.0L3002.6 836.6L2996.4 835.7L2990.2 837.8L2984.0 836.2L2984.0 831.9L2984.0 824.0Z" fill="#ffb6c1"/>
<path d="M2407.0 821.0L2413.4 818.1L2419.8 817.4L2426.1 819.7L2432.5 818.0L2438.9 818.3L2445.2 820.1L2451.6 820.0L2458.0 819.2L2458.0 824.5L2458.0 833.5L2451.6 832.6L2445.2 831.2L2438.9 831.7L2432.5 830.3L2426.1 830.8L2419.8 832.0L2413.4 831.9L2407.0 833.3L2407.0 826.0L2407.0 820.0Z" fill="#ffb6c1"/>
<path d="M2543.0 823.9L2549.3 823.8L2555.7 821.0L2562.0 821.0L2568.3 819.5L2574.7 820.2L2581.0 818.9L2587.3 818.7L2593.7 819.2L2600.0 819.1L2606.2 820.4L2612.5 819.2L2618.8 818.1L2625.0 819.8L2631.2 819.9L2637.5 820.3L2643.8 818.6L2650.0 817.0L2656.2 816.2L2662.4 815.6L2668.6 816.6L2674.8 818.4L2681.0 816.4L2687.2 816.6L2693.4 815.9L2699.6 816.3L2705.8 816.4L2712.0 814.8L2712.0 823.9L2712.0 831.5L2712.0 839.8L2705.7 837.6L2699.5 837.7L2693.2 837.9L2686.9 838.0L2680.6 839.2L2674.4 837.6L2668.1 838.4L2661.8 837.7L2655.5 837.1L2649.3 835.6L2643.0 836.2L2636.8 836.2L2630.5 837.9L2624.2 837.0L2618.0 836.9L2611.8 836.0L2605.5 833.9L2599.2 833.6L2593.0 834.3L2586.8 834.7L2580.5 835.7L2574.2 835.2L2568.0 832.9L2561.8 834.1L2555.5 833.5L2549.2 832.7L2543.0 834.7L2543.0 828.9L2543.0 822.0Z" fill="#ffb6c1"/>
<path d="M2860.0 822.8L2866.2 824.2L2872.4 825.2L2878.6 824.3L2884.8 824.5L2891.0 823.2L2897.1 823.8L2903.3 823.6L2909.5 823.9L2915.7 825.3L2921.9 823.3L2928.1 823.1L2934.3 821.7L2940.5 822.6L2946.7 822.1L2952.9 823.3L2959.0 823.0L2965.2 824.6L2971.4 826.5L2977.6 824.1L2983.8 825.2L2990.0 824.8L2990.0 829.8L2990.0 836.1L2983.8 837.5L2977.6 839.3L2971.4 838.9L2965.2 838.6L2959.0 839.7L2952.9 838.6L2946.7 838.4L2940.5 837.7L2934.3 835.4L2928.1 836.6L2921.9 836.9L2915.7 838.9L2909.5 839.6L2903.3 840.3L2897.1 839.1L2891.0 837.7L2884.8 839.0L2878.6 838.2L2872.4 838.9L2866.2 839.0L2860.0 836.4L2860.0 828.8L2860.0 822.0Z" fill="#ffb6c1"/>
<path d="M2260.0 817.5L2266.0 817.2L2272.1 817.1L2278.1 819.0L2284.2 818.8L2290.2 820.8L2296.2 818.7L2302.3 817.3L2308.3 818.0L2314.4 820.3L2320.4 821.0L2326.5 820.1L2332.5 820.7L2338.5 820.3L2344.6 818.2L2350.6 817.5L2356.7 819.3L2362.7 818.1L2368.8 819.0L2374.8 819.0L2380.8 817.2L2386.9 818.0L2392.9 819.4L2399.0 820.5L2405.0 819.3L2405.0 826.0L2405.0 833.9L2399.0 835.1L2392.9 834.1L2386.9 835.4L2380.8 832.9L2374.8 832.0L2368.8 831.7L2362.7 831.7L2356.7 833.2L2350.6 831.5L2344.6 831.6L2338.5 833.8L2332.5 832.5L2326.5 831.0L2320.4 833.3L2314.4 832.1L2308.3 830.8L2302.3 830.4L2296.2 832.6L2290.2 831.8L2284.2 832.7L2278.1 832.4L2272.1 833.1L2266.0 832.1L2260.0 830.6L2260.0 825.8L2260.0 818.0Z" fill="#ffb6c1"/>
<path d="M432.0 822.9L438.3 823.9L444.6 824.6L450.9 823.5L457.2 822.9L463.5 826.6L469.8 824.1L476.1 824.1L482.4 825.8L488.7 826.8L495.0 829.2L495.0 833.7L495.0 840.0L488.7 841.4L482.4 841.6L476.1 838.6L469.8 838.9L463.5 837.7L457.2 839.3L450.9 838.4L444.6 838.0L438.3 837.7L432.0 835.9L432.0 829.2L432.0 824.0Z" fill="#ffb6c1"/>
<path d="M617.0 860.7L623.6 859.8L630.2 860.0L636.8 861.0L643.4 858.4L650.0 860.9L655.8 864.2L661.7 868.1L667.5 869.9L673.3 872.5L679.2 874.4L685.0 873.2L685.0 881.3L678.0 879.5L671.0 877.9L664.0 876.1L657.0 874.8L650.0 873.8L643.4 872.3L636.8 872.5L630.2 871.1L623.6 868.6L617.0 865.9L617.0 859.0Z" fill="#ffb6c1"/>
<path d="M595.0 819.0L601.1 820.7L607.2 820.1L613.4 818.1L619.5 817.4L625.6 818.0L631.8 818.1L637.9 817.9L644.0 818.4L644.0 826.5L644.0 831.6L637.9 831.4L631.8 834.9L625.6 836.1L619.5 835.6L613.4 834.1L607.2 836.5L601.1 835.4L595.0 834.6L595.0 828.9L595.0 820.0Z" fill="#ffb6c1"/>
<path d="M1219 828h4v8h-4zM1181 835h3v6h-3zM1178 832h5v7h-5zM1219 829h4v6h-4zM1190 795h4v7h-4zM1185 768h3v12h-3zM1182 815h4v6h-4zM1202 788h3v13h-3zM1200 807h3v4h-3zM1181 812h4v9h-4zM1167 782h3v8h-3zM1184 830h2v14h-2zM1175 827h3v10h-3zM1185 770h5v12h-5zM1177 821h4v14h-4zM1174 811h5v12h-5zM1197 794h5v5h-5zM1177 820h4v14h-4zM1173 767h2v5h-2zM1185 797h4v7h-4zM1209 803h6v6h-6zM1195 802h3v13h-3zM1173 828h3v7h-3zM1202 806h3v5h-3zM1196 790h3v12h-3zM1182 796h6v8h-6z" fill="#ffb6c1"/>
<path d="M1422 830h2v17h-2zM1432 848h2v19h-2zM1434 880h2v18h-2zM1338 834h3v17h-3zM1483 855h2v9h-2zM1371 866h3v10h-3zM1476 828h2v9h-2zM1446 841h2v8h-2zM1440 864h2v11h-2zM1483 858h2v18h-2zM1459 834h2v19h-2zM1458 874h2v13h-2zM1548 879h2v8h-2zM1468 820h3v22h-3zM1494 838h3v9h-3zM1517 857h2v20h-2zM1430 879h3v15h-3zM1524 833h3v11h-3zM1338 843h2v7h-2zM1471 827h2v11h-2zM1394 886h3v20h-3zM1553 851h3v10h-3zM1539 878h3v10h-3zM1352 886h2v16h-2zM1524 829h3v13h-3zM1507 852h2v21h-2zM1395 873h3v10h-3zM1487 847h2v9h-2zM1545 845h2v14h-2zM1338 874h3v20h-3zM1412 834h2v18h-2z" fill="#ffb6c1"/>
<path d="M2376 910h2v11h-2zM2409 915h2v21h-2zM2316 934h2v22h-2zM2302 901h2v16h-2zM2339 923h2v15h-2zM2290 940h2v22h-2zM2362 925h2v10h-2zM2391 902h3v21h-3zM2378 941h2v19h-2zM2414 894h2v15h-2zM2356 891h2v23h-2zM2340 891h2v18h-2zM2315 916h2v15h-2z" fill="#ffb6c1"/>
<path d="M1721 928h2v15h-2zM1648 897h3v12h-3zM1729 904h3v9h-3zM1774 904h2v12h-2zM1689 914h2v12h-2zM1766 901h2v13h-2zM1624 929h3v7h-3zM1660 898h2v7h-2zM1717 905h2v11h-2zM1689 927h3v7h-3zM1654 895h2v7h-2z" fill="#ffb6c1"/>
<path d="M266.2 422.5L272.8 423.3L279.5 421.6L286.2 422.0L292.9 420.7L299.5 420.8L306.2 420.9L312.1 423.9L317.9 427.2L323.8 427.3L329.6 431.5L334.3 436.3L339.0 439.9L343.7 442.8L348.4 447.9L353.1 453.0L357.7 457.1L362.4 462.2L367.1 466.6L371.8 467.5L376.5 473.4L382.3 476.1L388.2 481.6L394.0 483.4L399.9 488.3L407.7 488.6L415.5 491.8L423.3 494.6L431.1 496.8L438.9 496.0L446.7 496.3L454.5 495.8L462.4 496.5L470.2 498.9L476.0 500.3L481.9 503.2L487.7 507.5L493.6 508.0L499.4 506.0L505.3 502.8L505.5 495.2L505.7 486.3L505.9 479.0L506.1 474.9L506.4 469.6L506.6 461.1L506.8 456.0L507.0 453.0L507.2 444.3L507.4 436.7L507.6 432.4L517.0 429.3L524.8 430.1L532.6 432.5L540.4 432.7L548.2 431.1L556.0 431.8L563.8 431.4L571.6 431.1L579.5 430.5L587.3 431.5L595.1 434.5L602.9 433.0L610.7 434.5L615.4 439.4L620.0 445.5L624.7 449.8L629.4 449.5L634.1 455.8L641.9 454.9L649.7 453.3L657.5 452.0L663.4 451.0L669.2 449.3L675.1 446.7L680.9 445.0L686.8 442.8L692.7 442.5L698.5 440.1L704.4 440.4L712.2 443.5L720.0 444.7L727.8 441.9L735.6 440.3L743.4 442.7L751.2 442.4L759.0 439.8L766.8 436.9L774.6 437.7L782.4 438.3L790.2 436.1L798.0 434.3L803.9 439.0L809.8 438.8L815.6 444.8L821.5 446.6L826.1 453.3L830.8 457.9L835.5 463.0L840.2 467.2L844.9 474.2L848.8 480.5L852.7 485.8L856.6 492.1L860.5 498.5L864.4 502.9L868.3 508.6L873.0 510.7L877.7 517.2L882.4 522.2L887.0 523.2L891.7 528.2L895.6 532.0L899.5 537.0L903.4 541.8L907.3 547.0L911.2 550.7L915.1 555.5L921.0 553.8L926.9 550.4L932.7 546.3L938.6 546.8L944.4 547.9L950.3 550.8L956.1 554.5L962.0 556.1L969.8 559.8L977.6 563.3L985.4 561.2L990.9 562.0L996.3 567.3L1001.8 571.0L1004.1 574.8L1006.5 580.1L1008.8 586.2L1016.6 589.4L1024.4 591.7L1032.2 595.8L1036.1 599.3L1040.0 605.8L1044.0 607.9L1047.9 615.2L1051.8 620.0L1055.7 626.7L1063.5 624.7L1071.3 625.0L1079.1 623.2L1086.9 625.5L1094.7 628.9L1102.5 626.5L1108.7 627.9L1115.0 632.1L1121.2 631.4L1125.1 625.3L1129.0 622.0L1132.9 614.6L1138.4 607.7L1143.9 604.3L1149.3 600.0L1149.3 699.3L1142.3 700.7L1135.3 702.2L1130.6 710.0L1125.9 716.3L1122.8 723.6L1119.7 729.0L1116.6 738.9L1109.5 741.2L1102.5 742.3L1094.7 740.2L1086.9 737.9L1079.1 738.1L1073.2 740.7L1067.4 741.6L1061.5 743.4L1055.7 745.8L1047.9 744.2L1040.0 742.9L1032.2 742.2L1026.4 742.3L1020.5 743.5L1014.7 746.3L1008.8 750.0L1003.0 746.9L997.1 743.8L991.3 742.3L985.4 738.3L981.5 733.6L977.6 729.3L973.7 725.3L969.8 722.3L965.9 719.3L962.0 713.6L956.1 709.3L950.3 705.1L944.4 699.4L938.6 694.8L932.7 693.0L926.9 689.3L921.0 687.7L915.1 686.3L910.5 682.4L905.8 676.4L901.1 673.1L896.4 668.1L891.7 663.6L885.9 658.5L880.0 657.1L874.2 653.1L868.3 651.6L860.5 651.3L852.7 652.7L844.9 650.6L839.0 654.5L833.2 655.6L827.3 659.1L821.5 660.9L813.7 662.1L805.8 664.6L798.0 665.3L793.4 659.0L788.7 653.4L784.0 649.8L779.3 645.5L774.6 638.2L766.8 641.1L759.0 643.9L751.2 646.3L745.3 648.5L739.5 653.3L733.6 656.3L727.8 658.0L721.9 661.4L716.1 662.8L710.2 666.1L704.4 666.7L699.7 669.8L695.0 674.2L690.3 678.8L685.6 683.8L680.9 687.1L673.1 689.9L665.3 689.6L657.5 690.1L651.7 686.2L645.8 680.7L640.0 676.6L634.1 673.7L626.3 673.6L618.5 674.6L610.7 672.2L604.8 669.6L599.0 667.4L593.1 662.8L587.3 660.6L581.4 658.2L575.5 654.1L569.7 651.3L563.8 649.2L558.0 646.3L552.1 647.7L546.3 644.5L540.4 644.8L532.6 643.7L524.8 642.9L517.0 641.4L511.1 641.6L505.3 644.4L499.4 646.4L493.6 649.1L487.7 649.0L481.9 645.8L476.0 643.2L470.2 640.0L464.3 641.0L458.5 638.0L452.6 635.9L446.7 634.8L440.9 632.0L435.0 630.4L429.2 628.5L423.3 625.7L417.5 622.2L411.6 621.1L405.8 617.6L399.9 616.5L392.1 616.7L384.3 614.2L376.5 613.7L373.1 606.8L369.8 602.7L366.4 595.3L363.1 591.6L359.8 585.3L356.4 581.1L353.1 576.1L349.2 570.5L345.3 565.3L341.4 560.5L337.4 556.4L333.5 550.7L329.6 544.3L321.8 542.7L314.0 543.8L306.2 545.0L299.5 543.5L292.9 543.7L286.2 542.6L279.5 542.0L272.8 543.2L266.2 542.3Z" fill="#00ffff"/>
<path d="M1062.7 471.0L1063.6 463.7L1064.6 457.9L1065.5 451.5L1066.4 443.9L1067.4 440.1L1073.2 436.9L1079.1 434.6L1083.8 430.1L1088.4 425.3L1093.1 424.0L1097.8 419.0L1102.5 411.9L1109.5 409.6L1116.6 404.8L1124.7 406.9L1132.9 405.4L1133.5 411.0L1134.1 416.7L1134.7 422.9L1135.3 430.2L1132.9 439.0L1130.6 447.2L1136.8 451.1L1143.1 454.1L1149.3 457.7L1157.1 456.0L1165.0 455.6L1172.8 453.4L1178.6 451.1L1184.5 446.3L1190.3 442.6L1196.2 440.3L1204.0 438.4L1211.8 436.4L1219.6 435.5L1227.4 434.0L1235.2 431.5L1243.0 428.4L1248.9 428.6L1254.7 425.5L1260.6 422.4L1266.4 418.4L1272.3 422.7L1278.2 426.9L1284.0 431.8L1289.9 436.9L1294.5 440.6L1299.2 448.6L1303.9 448.9L1308.6 452.9L1313.3 459.5L1319.1 453.9L1325.0 448.6L1330.8 448.2L1336.7 442.8L1344.5 441.3L1352.3 439.3L1360.1 439.5L1367.9 438.1L1375.7 439.2L1383.5 437.7L1391.3 439.3L1399.2 439.2L1407.0 439.5L1411.6 442.8L1416.3 450.5L1421.0 451.4L1425.7 454.3L1430.4 460.1L1436.2 464.9L1442.1 467.7L1447.9 473.0L1453.8 475.8L1459.7 470.6L1465.5 466.9L1471.4 465.5L1477.2 464.5L1481.9 462.7L1486.6 455.5L1491.3 453.7L1496.0 451.2L1500.6 447.3L1505.3 450.3L1510.0 454.4L1514.7 459.5L1519.4 461.1L1524.1 466.5L1529.9 469.1L1535.8 474.7L1541.6 480.2L1547.5 482.1L1552.2 486.7L1556.8 490.4L1561.5 495.6L1566.2 501.5L1570.9 505.7L1578.7 504.4L1586.5 504.9L1594.3 506.4L1600.2 506.3L1606.0 501.9L1611.9 499.2L1617.7 493.1L1620.1 500.7L1622.4 506.3L1624.8 508.2L1627.1 516.0L1629.5 518.4L1631.4 528.6L1633.4 531.7L1635.3 541.1L1637.3 546.0L1639.2 553.3L1641.2 556.2L1647.0 559.3L1652.9 561.8L1658.7 567.3L1664.6 568.5L1668.5 573.9L1672.4 577.9L1676.3 584.3L1680.2 591.6L1684.1 594.4L1688.0 600.1L1692.7 605.1L1697.4 608.3L1702.1 613.7L1706.7 615.0L1711.4 618.1L1719.2 619.6L1727.0 624.5L1734.8 627.8L1738.7 633.0L1742.6 636.1L1746.5 640.0L1746.5 640.0L1740.7 643.2L1734.8 644.9L1730.2 649.0L1725.5 655.1L1720.8 660.1L1716.1 665.7L1711.4 672.2L1705.6 673.4L1699.7 678.4L1693.9 680.3L1688.0 681.2L1682.1 678.4L1676.3 676.6L1670.4 674.3L1664.6 674.1L1658.7 675.8L1652.9 678.0L1647.0 678.9L1641.2 680.4L1635.3 683.3L1629.5 686.5L1623.6 689.3L1617.7 692.8L1609.9 694.4L1602.1 693.6L1594.3 695.1L1586.5 693.5L1578.7 693.7L1570.9 693.1L1566.2 696.4L1561.5 700.7L1556.8 707.1L1552.2 712.9L1547.5 716.4L1539.7 716.4L1531.9 716.5L1524.1 718.4L1516.3 716.4L1508.4 716.2L1500.6 713.6L1492.8 714.0L1485.0 711.2L1477.2 710.3L1469.4 711.5L1461.6 711.3L1453.8 712.7L1447.9 716.8L1442.1 718.3L1436.2 724.3L1430.4 727.6L1424.5 726.1L1418.7 724.5L1412.8 721.4L1407.0 722.2L1399.2 719.9L1391.3 720.8L1383.5 719.2L1375.7 719.0L1367.9 720.8L1360.1 721.8L1352.3 720.6L1344.5 717.9L1336.7 717.6L1330.8 716.0L1325.0 713.9L1319.1 711.3L1313.3 710.9L1307.4 707.6L1301.6 706.4L1295.7 703.8L1289.9 703.3L1284.0 701.4L1278.2 699.7L1272.3 697.9L1266.4 697.0L1258.6 695.5L1250.8 694.7L1243.0 693.7L1237.2 690.2L1231.3 688.6L1225.5 685.4L1219.6 683.1L1210.2 677.7L1209.5 672.8L1208.7 664.6L1207.9 659.5L1202.0 654.6L1196.2 650.4L1190.3 654.1L1184.5 659.0L1183.7 664.9L1182.9 673.6L1182.1 680.4L1177.4 685.6L1172.8 691.4L1166.9 692.5L1161.1 694.3L1155.2 697.5L1149.3 698.9L1144.7 693.9L1140.0 689.9L1139.7 684.4L1139.3 678.7L1139.0 672.2L1138.7 667.5L1138.4 659.3L1138.1 652.5L1137.8 647.3L1137.5 641.9L1137.2 637.4L1136.8 629.3L1136.5 625.3L1136.2 617.7L1135.9 612.0L1135.6 606.9L1135.3 599.3L1134.6 595.3L1133.9 586.5L1133.2 581.6L1132.5 577.3L1131.8 568.3L1131.1 563.6L1130.4 557.1L1129.7 551.5L1129.0 546.5L1128.3 539.3L1126.9 532.3L1125.5 526.0L1124.0 519.1L1122.6 512.2L1121.2 506.3L1115.0 505.4L1108.7 504.4L1102.5 501.9L1094.7 502.4L1086.9 502.0L1079.1 500.2L1074.4 496.1L1071.5 490.3L1068.5 482.5L1065.6 478.7L1062.7 472.1Z" fill="#00ffff"/>
<path d="M2280.5 478.6L2288.7 481.1L2296.9 480.1L2304.7 480.9L2312.5 482.3L2320.3 481.0L2326.2 486.0L2332.1 490.8L2337.9 493.1L2343.8 495.1L2349.6 497.4L2355.5 498.0L2361.3 504.5L2367.2 509.8L2371.1 503.8L2375.0 494.9L2378.9 490.0L2384.7 486.6L2390.6 479.7L2396.5 481.1L2402.3 478.3L2408.2 476.9L2414.0 476.5L2419.9 478.0L2425.7 480.7L2431.6 483.0L2437.4 485.6L2445.2 487.3L2453.1 488.3L2460.9 486.6L2466.7 485.7L2472.6 484.8L2478.4 483.1L2484.3 482.0L2490.1 487.8L2496.0 486.9L2501.8 489.6L2507.7 492.5L2513.6 496.4L2519.4 504.2L2525.3 507.0L2531.1 509.9L2538.9 510.8L2546.7 513.3L2554.5 513.4L2562.3 510.2L2570.2 507.7L2578.0 510.3L2585.8 510.1L2593.6 507.0L2601.4 505.4L2609.2 506.0L2617.0 507.0L2624.8 506.1L2630.7 504.9L2636.5 501.9L2642.4 497.7L2648.2 492.9L2656.0 491.7L2663.8 493.3L2671.6 492.6L2679.4 490.2L2687.3 489.8L2695.1 490.7L2699.7 483.9L2704.4 479.8L2709.1 474.8L2713.8 470.9L2718.5 465.3L2723.2 462.1L2727.8 459.2L2732.5 453.0L2737.2 452.0L2741.9 448.1L2746.6 453.0L2751.3 457.0L2756.0 457.7L2760.6 464.7L2765.3 468.6L2771.2 467.7L2777.0 467.1L2782.9 462.8L2788.7 457.6L2794.6 458.1L2800.5 456.1L2806.3 453.4L2812.2 451.4L2820.0 452.6L2827.8 452.9L2835.6 449.4L2840.3 458.1L2844.9 461.9L2849.6 468.6L2854.3 471.1L2859.0 476.8L2866.8 475.3L2874.6 474.2L2882.4 473.0L2890.2 469.4L2898.0 465.1L2905.8 463.8L2911.7 464.2L2917.6 459.7L2923.4 457.9L2929.3 452.4L2935.1 457.9L2941.0 462.1L2946.8 468.0L2952.7 468.0L2958.5 468.5L2964.4 464.2L2970.2 462.2L2976.1 462.2L2982.0 462.9L2987.8 468.4L2993.7 471.9L2999.5 478.4L3005.4 479.8L3011.2 480.6L3017.1 484.4L3022.9 487.9L3030.7 486.0L3038.6 486.2L3046.4 483.7L3052.2 486.9L3058.1 488.5L3063.9 492.5L3069.8 495.3L3075.6 490.8L3081.5 484.9L3087.3 482.1L3093.2 479.3L3097.9 481.2L3102.6 486.9L3107.3 489.5L3111.9 495.4L3116.6 500.9L3122.5 503.0L3128.3 501.3L3134.2 504.5L3140.0 505.4L3145.9 509.2L3151.8 513.1L3157.6 511.0L3163.5 512.5L3166.4 517.8L3169.3 525.3L3172.2 534.2L3175.2 542.1L3177.5 548.1L3179.9 552.8L3182.2 555.5L3184.5 563.0L3186.9 568.0L3188.8 575.5L3190.8 583.0L3192.7 591.3L3194.7 597.5L3196.6 604.8L3198.6 613.0L3200.3 619.0L3201.9 621.3L3203.6 630.6L3205.3 636.1L3207.0 642.2L3208.6 646.7L3210.3 653.0L3212.0 659.3L3213.6 668.2L3215.3 671.6L3217.0 677.9L3218.7 687.1L3220.3 693.7L3222.0 697.6L3222.6 708.1L3223.2 713.3L3223.8 721.2L3224.4 727.0L3224.4 727.0L3217.3 727.5L3210.3 727.0L3204.4 725.3L3198.6 721.5L3192.7 717.0L3186.9 712.9L3179.1 711.9L3171.3 710.8L3163.5 709.3L3157.6 705.6L3151.8 703.8L3145.9 700.1L3140.0 698.3L3134.2 692.7L3128.3 688.2L3124.4 684.5L3120.5 680.5L3116.6 673.9L3108.8 672.2L3101.0 670.9L3093.2 669.3L3088.5 674.1L3083.8 680.3L3082.3 686.4L3080.7 693.0L3079.1 700.2L3074.5 708.0L3069.8 713.1L3062.0 711.3L3054.2 708.7L3046.4 707.4L3038.6 705.6L3030.7 707.6L3022.9 708.2L3017.1 708.7L3011.2 710.9L3005.4 710.9L2999.5 713.5L2991.7 713.1L2983.9 713.0L2976.1 713.9L2968.3 714.3L2960.5 715.5L2952.7 715.2L2944.9 715.6L2937.1 714.7L2929.3 712.5L2921.5 712.4L2913.6 712.6L2905.8 715.4L2898.0 714.8L2890.2 714.3L2882.4 715.7L2876.6 711.2L2870.7 710.5L2864.9 708.0L2859.0 705.7L2851.2 706.1L2843.4 706.1L2835.6 707.6L2827.8 706.8L2820.0 708.4L2812.2 707.3L2806.3 704.5L2800.5 702.7L2794.6 698.1L2788.7 694.1L2782.9 691.0L2777.0 688.8L2771.2 686.5L2765.3 683.6L2759.5 682.2L2753.6 678.1L2747.8 675.2L2741.9 672.8L2734.1 671.1L2726.3 671.4L2718.5 669.5L2710.7 669.5L2702.9 670.3L2695.1 671.5L2689.2 672.4L2683.4 677.0L2677.5 678.3L2671.6 683.0L2663.8 680.1L2656.0 680.5L2648.2 681.1L2640.4 682.5L2632.6 683.9L2624.8 684.6L2617.0 684.0L2609.2 686.1L2601.4 685.5L2595.5 681.9L2589.7 677.3L2583.8 674.3L2578.0 670.3L2570.2 667.9L2562.3 666.6L2554.5 667.2L2548.7 666.4L2542.8 662.1L2537.0 660.0L2531.1 659.0L2525.3 655.1L2519.4 650.3L2513.6 648.6L2507.7 644.7L2499.9 643.1L2492.1 642.4L2484.3 638.9L2480.4 635.3L2476.5 628.8L2472.6 623.6L2468.7 618.2L2464.8 612.4L2460.9 606.7L2455.0 603.6L2449.2 599.2L2443.3 594.5L2437.4 592.1L2433.3 587.5L2429.2 585.8L2425.1 578.4L2421.0 575.6L2418.7 569.3L2416.4 563.4L2414.0 556.7L2409.3 560.5L2404.7 564.5L2400.0 570.6L2395.3 573.7L2390.6 577.9L2382.8 578.6L2375.0 579.8L2367.2 578.5L2361.3 577.4L2355.5 574.2L2349.6 572.5L2343.8 570.8L2337.5 568.8L2331.3 565.2L2325.0 560.7L2324.6 555.6L2324.1 548.9L2323.6 543.1L2323.2 537.2L2322.7 531.1L2322.2 523.2L2321.7 517.9L2321.3 510.9L2320.8 505.9L2320.3 499.7L2312.5 498.9L2304.7 497.4L2296.9 496.2L2288.7 495.6L2280.5 493.6Z" fill="#00ffff"/>
<path d="M3287.6 648.1L3293.1 647.0L3298.5 643.9L3304.0 642.0L3309.8 638.1L3315.7 633.9L3321.5 625.6L3327.4 619.7L3335.2 621.4L3343.0 620.2L3350.8 619.7L3358.6 617.4L3366.4 616.9L3374.2 619.3L3380.1 609.5L3386.0 601.8L3391.8 601.2L3397.7 599.7L3405.5 597.7L3413.3 599.0L3421.1 601.6L3426.9 600.2L3432.8 601.5L3438.6 605.4L3444.5 603.7L3450.4 604.4L3456.2 601.5L3462.1 597.0L3467.9 596.1L3473.8 598.1L3479.6 602.5L3485.5 606.1L3491.3 605.9L3499.1 606.0L3507.0 604.0L3514.8 606.0L3522.6 605.0L3530.4 602.9L3538.2 603.4L3546.0 601.2L3553.8 602.2L3561.6 600.4L3567.5 602.8L3573.3 605.2L3579.2 604.4L3585.0 606.6L3592.8 610.1L3600.6 611.8L3608.4 612.6L3616.2 613.9L3624.1 617.4L3631.9 617.4L3638.9 619.0L3638.9 745.0L3631.9 746.6L3624.1 746.3L3616.2 747.6L3608.4 747.0L3602.6 752.9L3596.7 758.2L3590.9 762.1L3585.0 766.6L3580.3 772.9L3575.7 777.9L3571.0 784.5L3566.3 789.8L3561.6 796.4L3553.8 795.5L3546.0 793.1L3538.2 791.8L3530.4 792.0L3522.6 790.4L3514.8 791.0L3507.0 788.8L3499.1 786.5L3491.3 785.9L3483.5 788.4L3475.7 790.0L3467.9 791.3L3460.1 789.6L3452.3 790.7L3444.5 791.5L3439.8 786.9L3435.1 780.7L3430.4 777.8L3425.8 772.6L3421.1 765.6L3415.2 762.9L3409.4 756.7L3403.5 755.3L3397.7 749.8L3393.0 755.5L3388.3 759.2L3383.6 761.3L3378.9 768.1L3374.2 769.8L3368.4 766.8L3362.5 764.3L3356.7 763.9L3350.8 759.5L3345.0 757.8L3339.1 756.0L3333.3 753.1L3327.4 749.3L3322.7 745.5L3318.0 742.0L3313.3 738.3L3308.7 732.0L3304.0 729.1L3300.7 722.7L3297.4 716.5L3294.1 711.7L3290.9 707.5L3287.6 701.7Z" fill="#00ffff"/>
<path d="M997.1 428.0L1008.8 436.0L1065.0 440.0L1065.0 456.0L1008.8 450.0L997.1 446.0Z" fill="#00ffff"/>
<path d="M1555.0 800.3L1560.0 799.0L1565.0 799.2L1570.0 799.1L1575.0 798.3L1580.0 798.6L1585.0 797.5L1590.0 794.7L1595.0 794.4L1600.0 796.1L1605.0 794.7L1610.0 793.9L1615.0 794.8L1620.0 795.2L1625.0 796.8L1630.0 797.8L1635.0 795.1L1640.0 793.8L1645.0 796.6L1650.0 795.8L1655.0 796.1L1660.0 796.0L1665.0 795.5L1670.0 793.8L1675.0 795.0L1680.0 797.7L1685.0 797.6L1690.0 796.1L1695.0 794.7L1700.0 796.3L1705.2 796.2L1710.4 796.2L1715.6 794.5L1720.9 795.3L1726.1 798.3L1731.3 796.9L1736.5 797.4L1741.7 799.5L1746.9 796.5L1752.1 798.9L1757.4 798.0L1762.6 797.6L1767.8 796.7L1773.0 798.0L1773.0 806.0L1767.8 806.0L1762.6 808.3L1757.4 807.9L1752.1 808.5L1746.9 808.7L1741.7 808.5L1736.5 809.2L1731.3 810.7L1726.1 809.8L1720.9 808.8L1715.6 808.5L1710.4 807.3L1705.2 809.8L1700.0 809.7L1695.0 809.1L1690.0 809.1L1685.0 807.0L1680.0 807.8L1675.0 809.0L1670.0 809.9L1665.0 810.6L1660.0 808.8L1655.0 809.3L1650.0 809.8L1645.0 811.6L1640.0 811.0L1635.0 810.7L1630.0 808.3L1625.0 809.2L1620.0 809.4L1615.0 811.6L1610.0 810.3L1605.0 809.6L1600.0 808.9L1595.0 811.3L1590.0 811.7L1585.0 810.4L1580.0 810.8L1575.0 809.6L1570.0 807.0L1565.0 808.5L1560.0 807.2L1555.0 807.3Z" fill="#00ffff"/>
<path d="M1846.0 812.7L1851.4 812.0L1856.8 813.6L1862.2 815.1L1867.6 813.3L1873.0 812.8L1878.4 812.7L1883.8 814.8L1889.2 813.8L1894.6 813.8L1900.0 811.6L1905.0 814.0L1910.0 813.7L1915.0 816.0L1920.0 813.9L1925.0 813.7L1930.0 812.2L1935.0 814.3L1940.0 817.1L1945.0 817.9L1950.0 816.5L1955.0 815.9L1960.0 816.7L1965.0 816.3L1970.0 815.0L1975.0 815.3L1980.0 815.0L1985.0 815.9L1990.0 814.8L1995.0 815.0L2000.0 814.2L2005.0 815.0L2010.0 814.3L2015.0 816.3L2020.0 814.7L2025.0 816.3L2030.0 816.0L2035.3 815.3L2040.7 819.6L2046.0 822.0L2046.0 842.0L2042.0 835.5L2038.0 833.9L2034.0 831.7L2030.0 829.3L2025.0 831.0L2020.0 830.8L2015.0 830.8L2010.0 831.1L2005.0 831.0L2000.0 830.3L1995.0 832.0L1990.0 830.2L1985.0 831.4L1980.0 831.7L1975.0 829.8L1970.0 829.2L1965.0 827.7L1960.0 826.1L1955.0 826.6L1950.0 826.9L1945.0 828.4L1940.0 830.9L1935.0 829.7L1930.0 830.1L1925.0 827.7L1920.0 829.5L1915.0 827.2L1910.0 825.0L1905.0 826.7L1900.0 826.9L1894.6 824.9L1889.2 827.0L1883.8 826.0L1878.4 824.9L1873.0 824.5L1867.6 826.0L1862.2 823.0L1856.8 823.6L1851.4 823.1L1846.0 820.4Z" fill="#00ffff"/>
<path d="M2081.0 816.4L2086.0 815.2L2091.0 815.8L2096.0 814.7L2101.0 813.9L2106.0 813.9L2111.0 815.7L2116.0 815.3L2121.0 812.9L2126.0 813.0L2126.0 826.0L2121.0 825.1L2116.0 826.2L2111.0 826.4L2106.0 825.6L2101.0 826.1L2096.0 825.3L2091.0 824.0L2086.0 825.5L2081.0 822.4Z" fill="#00ffff"/>
<path d="M2110.0 812.9L2115.0 814.0L2120.0 814.9L2125.0 813.7L2130.0 812.7L2135.0 814.6L2140.0 812.7L2145.0 813.2L2150.0 812.6L2155.0 813.2L2160.0 812.2L2165.0 815.1L2170.0 814.3L2175.0 813.1L2180.0 813.7L2185.0 814.7L2190.0 816.5L2195.0 817.8L2200.0 815.0L2205.0 817.1L2210.0 814.3L2215.0 814.1L2220.0 816.6L2225.0 816.0L2225.0 838.0L2220.0 838.9L2215.0 837.1L2210.0 835.8L2205.0 836.9L2200.0 839.1L2195.0 840.3L2190.0 837.4L2185.0 837.0L2180.0 835.7L2175.0 834.8L2170.0 835.7L2165.0 836.7L2160.0 835.7L2155.0 833.4L2150.0 835.5L2145.0 837.0L2140.0 837.5L2135.0 833.8L2130.0 835.5L2125.0 836.3L2120.0 835.4L2115.0 836.0L2110.0 837.5Z" fill="#00ffff"/>
<path d="M2262.0 832.5L2267.1 834.3L2272.2 833.5L2277.3 833.9L2282.4 834.5L2287.6 831.7L2292.7 832.3L2297.8 833.7L2302.9 833.7L2308.0 833.4L2313.1 833.4L2318.2 833.3L2323.3 833.3L2328.4 831.8L2333.6 834.0L2338.7 835.8L2343.8 833.7L2348.9 832.4L2354.0 832.1L2359.1 833.2L2364.2 833.6L2369.3 835.8L2374.4 833.7L2379.6 834.5L2384.7 836.1L2389.8 835.5L2394.9 836.3L2400.0 834.0L2400.0 846.0L2394.9 845.5L2389.8 846.0L2384.7 844.6L2379.6 844.4L2374.4 844.2L2369.3 844.2L2364.2 846.4L2359.1 846.9L2354.0 844.4L2348.9 845.4L2343.8 846.2L2338.7 843.9L2333.6 845.5L2328.4 845.2L2323.3 846.0L2318.2 844.0L2313.1 846.8L2308.0 846.8L2302.9 846.8L2297.8 845.4L2292.7 845.4L2287.6 846.3L2282.4 848.1L2277.3 848.0L2272.2 847.6L2267.1 846.4L2262.0 846.6Z" fill="#00ffff"/>
<path d="M2275.0 819.9L2280.0 819.3L2285.0 816.9L2290.0 817.3L2295.0 816.4L2300.0 815.9L2305.0 813.4L2310.0 814.2L2315.0 816.3L2320.0 818.2L2325.0 816.3L2330.0 818.2L2335.0 818.5L2340.0 818.0L2345.0 817.2L2350.0 818.1L2355.0 821.1L2360.0 820.9L2365.0 822.0L2370.0 823.2L2375.0 825.1L2380.0 824.0L2380.0 832.0L2375.0 833.7L2370.0 830.8L2365.0 829.5L2360.0 828.7L2355.0 830.2L2350.0 831.4L2345.0 830.9L2340.0 831.0L2335.0 831.4L2330.0 834.4L2325.0 834.1L2320.0 832.3L2315.0 831.4L2310.0 830.3L2305.0 830.3L2300.0 831.6L2295.0 830.2L2290.0 829.1L2285.0 829.0L2280.0 829.1L2275.0 831.5Z" fill="#00ffff"/>
<path d="M2640.0 836.2L2645.0 833.3L2650.0 829.1L2655.0 824.7L2660.0 821.1L2665.0 820.2L2670.0 819.0L2675.0 819.2L2680.0 818.9L2685.0 820.9L2690.0 820.7L2695.0 818.4L2700.0 818.6L2705.0 818.2L2710.0 818.5L2715.0 816.5L2720.0 813.9L2725.0 815.6L2730.0 814.9L2735.0 815.0L2740.0 814.4L2745.0 814.2L2750.0 814.8L2755.0 815.0L2760.0 811.3L2765.0 810.6L2770.0 810.5L2775.0 813.4L2780.0 811.9L2785.0 812.1L2790.0 813.1L2795.0 811.5L2800.0 811.2L2805.0 810.3L2810.0 809.4L2815.0 810.4L2820.0 812.8L2825.0 812.0L2830.0 810.6L2835.0 810.0L2840.0 809.5L2845.0 809.3L2850.0 809.3L2855.0 811.1L2860.0 810.5L2866.0 815.5L2872.0 816.5L2876.7 820.2L2881.3 825.6L2886.0 826.5L2890.7 828.5L2895.3 832.5L2900.0 834.7L2905.0 837.6L2910.0 838.1L2915.0 835.0L2920.0 833.9L2925.0 832.4L2930.0 834.0L2935.0 835.3L2940.0 837.5L2945.0 836.3L2950.0 837.4L2955.0 839.5L2960.0 839.9L2965.0 836.7L2970.0 838.6L2975.0 838.8L2980.0 837.4L2985.0 839.8L2990.0 838.0L2990.0 844.0L2985.0 841.2L2980.0 844.0L2975.0 845.9L2970.0 847.4L2965.0 846.8L2960.0 846.8L2955.0 844.7L2950.0 847.2L2945.0 848.4L2940.0 849.4L2935.0 851.3L2930.0 849.5L2925.0 849.8L2920.0 850.9L2915.0 849.5L2910.0 852.0L2905.0 851.0L2900.0 850.6L2895.0 852.2L2890.0 852.9L2885.0 854.1L2880.0 854.6L2875.0 853.3L2870.0 856.2L2865.0 859.9L2860.0 862.1L2855.0 863.1L2850.0 861.9L2845.0 863.5L2840.0 866.7L2835.0 866.3L2830.0 868.6L2825.0 868.2L2820.0 868.1L2815.0 867.4L2810.0 868.1L2805.0 870.6L2800.0 873.6L2795.0 872.4L2790.0 871.1L2785.0 870.9L2780.0 867.7L2775.0 869.3L2770.0 868.8L2765.0 869.4L2760.0 868.7L2755.0 867.5L2750.0 866.5L2745.0 867.8L2740.0 867.8L2735.0 864.4L2730.0 865.6L2725.0 863.0L2720.0 864.6L2715.0 864.2L2710.0 860.8L2705.0 861.2L2700.0 861.4L2695.0 860.0L2690.0 861.2L2685.0 860.9L2680.0 858.5L2675.0 856.5L2670.0 853.5L2665.0 853.5L2660.0 849.5L2655.0 850.2L2650.0 847.0L2645.0 844.8L2640.0 845.1Z" fill="#00ffff"/>
<path d="M2680.0 841.8L2686.1 842.4L2692.3 843.5L2698.4 845.7L2704.5 845.0L2710.6 845.0L2716.8 844.5L2722.9 845.3L2729.0 844.4L2735.2 842.8L2741.3 843.3L2747.4 842.0L2753.5 843.2L2759.7 844.8L2765.8 843.9L2771.9 843.1L2778.1 841.1L2784.2 840.8L2790.3 842.7L2796.5 843.9L2802.6 845.0L2808.7 844.1L2814.8 842.7L2821.0 842.4L2827.1 840.8L2833.2 840.6L2839.4 842.2L2845.5 843.0L2851.6 844.8L2857.7 843.4L2863.9 842.3L2870.0 842.3L2870.0 853.4L2864.0 853.5L2858.0 851.9L2852.0 850.4L2846.0 852.8L2840.0 851.7L2834.0 851.1L2828.0 850.5L2822.0 852.9L2816.0 851.5L2810.0 852.3L2804.0 851.8L2798.0 852.6L2792.0 853.3L2786.0 853.1L2780.0 854.5L2774.0 854.1L2768.0 854.6L2762.0 853.3L2756.0 854.1L2750.0 856.3L2744.0 855.0L2738.0 854.1L2732.0 853.8L2726.0 855.0L2720.0 854.6L2713.3 855.0L2706.7 854.1L2700.0 853.2L2693.3 850.2L2686.7 850.6L2680.0 849.1L2680.0 843.0Z" fill="#ffb6c1"/>
<path d="M1250.0 824.5L1255.1 823.3L1260.1 822.7L1265.2 820.7L1270.3 822.6L1275.4 820.4L1280.4 820.4L1285.5 821.5L1290.6 824.5L1295.6 821.3L1300.7 820.9L1305.8 821.6L1310.9 822.9L1315.9 822.1L1321.0 822.0L1321.0 846.0L1315.9 847.0L1310.9 845.3L1305.8 848.3L1300.7 848.1L1295.6 846.6L1290.6 844.7L1285.5 846.3L1280.4 847.7L1275.4 848.6L1270.3 848.7L1265.2 847.9L1260.1 846.6L1255.1 845.4L1250.0 845.9Z" fill="#00ffff"/>
<path d="M1446.0 828.6L1451.1 827.5L1456.3 830.4L1461.4 831.4L1466.6 829.8L1471.7 829.0L1476.9 831.0L1482.0 829.0L1482.0 845.0L1476.9 845.1L1471.7 847.0L1466.6 845.0L1461.4 845.2L1456.3 845.3L1451.1 842.4L1446.0 844.6Z" fill="#00ffff"/>
<path d="M1520 750h5v6h-5zM1524 750h3v6h-3zM1532 761h5v7h-5zM1501 746h3v6h-3zM1524 748h6v3h-6zM1502 769h7v3h-7zM1530 756h6v7h-6zM1529 768h6v8h-6zM1505 765h5v8h-5zM1536 769h7v5h-7zM1524 764h3v6h-3zM1526 762h5v6h-5zM1533 753h6v8h-6zM1517 757h5v7h-5zM1512 750h5v6h-5zM1507 769h6v7h-6zM1519 743h5v6h-5zM1504 769h6v5h-6z" fill="#00ffff"/>
<path d="M1456 755h4v5h-4zM1459 760h4v5h-4zM1472 760h5v5h-5zM1457 763h4v5h-4zM1478 757h6v4h-6zM1471 750h5v4h-5zM1466 760h4v4h-4z" fill="#00ffff"/>
<path d="M1588 785h3v4h-3zM1597 771h4v6h-4zM1575 798h6v4h-6zM1569 767h4v4h-4zM1587 795h3v3h-3zM1564 772h3v5h-3zM1575 789h6v8h-6zM1577 786h3v6h-3zM1595 795h3v4h-3zM1596 788h5v3h-5zM1585 761h5v7h-5zM1573 760h5v8h-5zM1585 775h4v7h-4zM1599 775h4v8h-4zM1577 778h4v7h-4zM1599 779h6v5h-6zM1577 792h6v7h-6zM1588 793h6v8h-6zM1581 776h3v6h-3z" fill="#00ffff"/>
<path d="M270.4 480.6L276.3 482.1L282.2 481.2L288.0 479.7L294.0 480.6L300.0 479.7L306.0 482.8L312.0 482.5L317.9 484.0L319.3 491.3L320.7 500.5L319.7 506.5L318.8 513.0L317.9 520.3L311.8 519.4L305.7 514.8L299.6 512.2L293.5 507.5L292.8 515.8L292.1 525.0L291.4 533.3L290.8 539.8L284.0 538.0L277.2 541.3L270.4 540.9L270.4 534.3L270.4 526.8L270.4 521.2L270.4 515.3L270.4 508.8L270.4 503.2L270.4 496.7L270.4 490.1L270.4 482.2Z" fill="#fff"/>
<path d="M309 519h7v5h-7zM308 536h4v3h-4zM315 524h6v7h-6zM315 520h8v5h-8zM311 532h5v5h-5zM301 519h5v7h-5zM292 536h7v6h-7zM308 517h7v7h-7zM301 523h4v4h-4z" fill="#00ffff"/>
<path d="M487.8 531.8L494.6 531.2L501.4 529.1L508.2 529.8L508.2 535.7L508.2 542.0L508.2 550.0L508.2 557.9L508.2 562.8L498.4 566.6L493.1 560.8L487.8 555.1L487.8 545.7L487.8 537.8L487.8 530.5Z" fill="#fff"/>
<path d="M525.2 487.7L531.8 486.2L531.8 493.2L531.8 500.1L531.8 505.2L531.8 510.4L531.8 515.7L531.8 522.9L531.8 530.9L531.8 536.9L531.8 544.0L531.8 550.6L531.8 556.1L531.8 563.0L525.2 562.4L525.2 555.6L525.2 549.4L525.2 542.7L525.2 535.8L525.2 531.9L525.2 525.7L525.2 519.0L525.2 512.7L525.2 506.0L525.2 498.2L525.2 493.3L525.2 485.9Z" fill="#fff"/>
<path d="M537.3 553.2L540.2 547.5L543.1 542.8L546.0 536.4L548.9 531.1L551.8 526.5L554.7 521.2L557.6 517.1L560.6 510.1L572.2 509.9L570.3 519.1L568.3 525.8L564.8 530.0L561.2 536.0L557.6 539.0L554.1 544.4L550.5 549.0L547.0 553.8L537.3 553.8Z" fill="#fff"/>
<path d="M343.2 517.4L350.9 517.0L358.7 514.3L356.4 520.2L354.0 528.3L351.7 533.1L349.4 537.6L347.0 543.9L335.4 543.4L337.3 537.1L339.3 530.6L341.2 524.2L343.2 516.9Z" fill="#fff"/>
<path d="M502.3 435.6L508.2 435.7L508.2 442.6L508.2 448.1L508.2 454.8L508.2 460.6L508.2 466.7L508.2 474.6L508.2 481.6L508.2 488.2L508.2 493.0L502.3 492.8L502.3 485.5L502.3 479.0L502.3 473.4L502.3 466.7L502.3 460.8L502.3 453.4L502.3 447.0L502.3 440.4L502.3 435.4Z" fill="#fff"/>
<path d="M657.6 465.0L663.0 463.5L668.5 460.1L673.9 455.6L680.0 457.9L686.1 459.7L692.3 462.2L698.4 463.7L698.4 469.9L698.4 478.7L690.9 476.5L683.4 475.7L676.0 478.5L668.5 479.1L663.0 472.7L657.6 465.9Z" fill="#fff"/>
<path d="M332 374h4v4h-4zM364 392h4v2h-4zM414 365h8v3h-8zM350 388h5v4h-5zM378 391h9v3h-9zM392 384h7v2h-7zM392 385h3v2h-3zM328 379h3v4h-3zM364 392h7v3h-7zM340 375h6v4h-6zM413 372h2v3h-2zM392 382h8v4h-8zM385 387h3v4h-3zM389 365h3v3h-3zM352 391h4v3h-4zM373 391h4v4h-4zM395 380h9v4h-9zM398 379h2v2h-2zM388 366h7v3h-7zM361 387h8v3h-8zM367 379h9v4h-9zM383 365h8v2h-8zM333 382h3v4h-3zM392 368h8v4h-8zM388 392h8v3h-8zM406 391h7v2h-7zM359 384h5v2h-5zM368 367h5v2h-5zM396 369h9v2h-9z" fill="#00ffff"/>
<path d="M340 409h3v4h-3zM331 408h3v3h-3zM362 408h4v3h-4zM323 403h5v2h-5zM282 417h5v3h-5zM320 384h3v4h-3zM354 390h4v2h-4zM305 404h7v4h-7zM333 383h3v4h-3zM285 420h2v2h-2zM331 407h3v3h-3zM311 413h7v4h-7zM290 401h8v3h-8zM309 408h9v2h-9zM346 401h6v5h-6zM281 407h4v4h-4zM349 399h3v4h-3zM348 405h7v5h-7zM297 411h8v3h-8zM370 395h9v4h-9zM356 397h5v4h-5zM359 399h8v3h-8zM328 388h3v3h-3zM276 406h6v3h-6zM358 405h7v2h-7zM307 383h3v5h-3zM285 407h5v4h-5zM366 417h9v5h-9zM354 393h4v4h-4zM363 386h8v4h-8zM336 399h5v3h-5zM349 400h7v5h-7zM374 390h8v3h-8zM295 382h5v4h-5zM302 419h7v3h-7zM315 399h7v3h-7zM309 403h4v3h-4zM353 403h2v3h-2zM333 391h5v4h-5zM310 389h8v2h-8zM370 386h6v4h-6zM315 408h8v3h-8zM367 407h7v3h-7zM306 411h6v5h-6z" fill="#00ffff"/>
<path d="M401 403h6v4h-6zM409 416h3v3h-3zM406 413h4v2h-4zM404 414h6v4h-6zM419 400h6v3h-6zM403 415h5v4h-5z" fill="#00ffff"/>
<path d="M509 411h9v2h-9zM483 411h3v5h-3zM466 413h5v4h-5zM468 417h7v2h-7zM520 393h4v3h-4zM480 409h8v2h-8zM494 415h5v3h-5zM486 426h8v4h-8zM510 407h5v5h-5zM459 416h7v2h-7zM484 424h5v4h-5zM479 412h5v3h-5zM522 403h6v3h-6zM513 404h7v3h-7zM516 404h9v4h-9zM479 412h9v5h-9zM510 412h7v3h-7zM511 415h7v3h-7zM506 411h5v6h-5zM507 417h8v5h-8zM482 429h8v5h-8zM485 410h3v6h-3zM511 413h6v5h-6zM473 414h5v4h-5zM515 406h4v2h-4zM511 408h6v2h-6zM478 408h6v3h-6zM499 415h9v2h-9zM458 422h5v5h-5zM458 413h8v5h-8zM496 406h8v4h-8zM479 409h6v3h-6zM500 424h7v2h-7zM483 421h4v4h-4zM501 411h5v2h-5zM496 411h7v2h-7zM513 396h7v4h-7zM502 418h5v6h-5zM485 408h7v3h-7z" fill="#00ffff"/>
<path d="M709 428h7v3h-7zM686 434h4v4h-4zM688 437h7v5h-7zM703 433h8v5h-8zM702 440h6v3h-6zM684 437h6v5h-6zM697 431h8v4h-8zM686 443h7v6h-7zM687 432h5v4h-5zM706 426h8v3h-8z" fill="#00ffff"/>
<path d="M715 421h4v3h-4zM723 413h7v5h-7zM707 416h7v4h-7z" fill="#00ffff"/>
<path d="M919 532h5v4h-5zM925 538h6v4h-6zM921 513h7v5h-7zM921 537h4v5h-4zM943 516h6v6h-6zM917 528h5v7h-5zM926 531h6v6h-6zM919 510h5v5h-5zM904 533h6v5h-6zM932 507h4v7h-4zM905 537h6v8h-6zM938 519h5v5h-5zM934 521h7v8h-7zM933 523h7v5h-7zM927 520h8v8h-8zM926 525h4v6h-4zM941 513h7v4h-7zM932 515h6v7h-6zM904 536h6v4h-6z" fill="#00ffff"/>
<path d="M1021 555h7v4h-7zM1040 547h8v7h-8zM1024 557h4v7h-4zM1041 538h7v4h-7zM1060 555h9v7h-9zM1015 565h7v5h-7zM1043 566h7v4h-7zM1031 534h4v7h-4zM1004 558h5v7h-5zM1018 551h4v3h-4zM1053 545h5v9h-5zM1024 555h4v5h-4zM1010 560h6v5h-6zM1045 538h7v6h-7zM1011 567h4v8h-4zM1047 549h6v4h-6zM1011 563h5v6h-5zM1024 540h4v8h-4zM1028 534h8v4h-8zM1036 567h3v9h-3zM1044 570h6v6h-6zM1054 541h8v8h-8zM1057 533h6v8h-6zM1021 539h3v6h-3z" fill="#00ffff"/>
<path d="M995 428h4v5h-4zM1001 435h4v5h-4zM992 424h7v5h-7zM991 429h7v6h-7zM992 440h4v4h-4zM996 431h6v5h-6zM988 424h5v3h-5z" fill="#00ffff"/>
<path d="M1121 435h7v7h-7zM1123 447h4v6h-4zM1136 435h8v5h-8zM1116 409h6v6h-6zM1120 457h5v3h-5zM1116 432h8v4h-8zM1122 407h6v6h-6zM1101 408h7v6h-7zM1107 401h6v4h-6zM1115 423h8v4h-8zM1127 434h5v7h-5zM1109 417h4v6h-4zM1127 421h4v5h-4zM1112 433h7v3h-7zM1134 404h4v5h-4zM1132 418h9v3h-9zM1135 402h7v7h-7zM1135 416h8v7h-8zM1107 423h8v5h-8zM1136 426h6v4h-6zM1110 453h5v7h-5zM1131 434h5v3h-5zM1117 421h8v6h-8zM1126 416h4v4h-4zM1109 411h6v4h-6zM1099 433h3v5h-3zM1100 428h7v5h-7zM1107 451h9v6h-9z" fill="#00ffff"/>
<path d="M1445 479h5v6h-5zM1434 473h4v4h-4zM1435 467h8v5h-8zM1425 462h7v3h-7zM1436 468h7v5h-7zM1446 467h5v6h-5zM1441 470h6v5h-6z" fill="#00ffff"/>
<path d="M1629 485h4v5h-4zM1626 469h4v6h-4zM1623 491h8v8h-8zM1626 489h6v11h-6zM1626 499h5v5h-5zM1621 462h4v4h-4zM1624 504h4v10h-4zM1624 509h5v10h-5zM1628 465h6v6h-6zM1629 487h4v4h-4zM1621 535h3v7h-3zM1624 514h7v12h-7z" fill="#00ffff"/>
<path d="M1648 560h4v5h-4zM1645 596h7v6h-7zM1667 581h3v6h-3zM1642 596h3v11h-3zM1646 582h5v13h-5zM1673 584h4v12h-4zM1663 594h6v10h-6zM1660 599h5v16h-5zM1648 588h7v14h-7zM1665 575h4v10h-4zM1656 583h4v10h-4zM1672 602h4v8h-4zM1629 586h6v10h-6zM1667 595h3v6h-3zM1675 584h4v6h-4zM1671 606h5v6h-5zM1646 602h6v9h-6zM1687 581h3v7h-3zM1688 602h3v8h-3zM1654 587h3v15h-3zM1663 572h3v11h-3zM1690 603h6v15h-6zM1648 594h5v7h-5zM1672 574h5v15h-5z" fill="#00ffff"/>
<path d="M1640.6 626.9l-4.9 19.7M1724.4 656.1l-10.8 43.3M1666.9 606.3l-5.7 22.6M1663.4 682.1l-11.0 44.0M1734.2 674.4l-7.0 28.2M1697.5 674.3l-6.6 26.2M1725.9 655.5l-5.3 21.4M1664.3 637.4l-4.4 17.4M1652.9 552.9l-3.9 15.5M1724.7 689.6l-9.8 39.1M1680.2 646.8l-8.7 34.7M1673.3 608.5l-4.1 16.2M1651.4 578.4l-5.9 23.8M1650.9 668.7l-9.5 37.8M1727.4 652.4l-4.6 18.4M1678.5 661.8l-9.7 38.6M1649.9 602.0l-7.9 31.4M1626.0 561.4l-9.1 36.5M1698.1 596.0l-7.7 30.8M1682.8 578.8l-3.7 14.8M1706.4 651.3l-6.6 26.4M1709.5 660.7l-8.7 34.8M1713.7 684.3l-3.3 13.3M1728.5 596.9l-9.4 37.7M1666.2 566.4l-9.7 38.7M1713.0 622.8l-9.3 37.3M1692.6 687.5l-8.7 34.9M1675.8 620.4l-7.7 30.7M1656.2 572.1l-9.6 38.4M1714.8 684.1l-8.7 34.6M1680.3 587.1l-8.8 35.3M1696.2 680.4l-9.2 36.7M1667.0 567.3l-3.4 13.5M1710.7 592.7l-6.3 25.0M1630.6 604.2l-10.4 41.6M1655.3 646.4l-9.3 37.0M1697.4 621.3l-5.1 20.2M1699.0 619.4l-11.0 43.9M1681.5 580.3l-10.5 41.9M1693.5 578.0l-8.4 33.4M1641.6 552.1l-10.3 41.2M1675.8 656.3l-4.8 19.1M1676.6 560.3l-9.6 38.5M1690.5 586.9l-6.2 24.7M1648.0 555.8l-8.7 34.8M1667.2 597.0l-11.2 44.6M1667.2 588.6l-11.0 44.1M1704.1 598.0l-6.3 25.1M1649.6 545.9l-6.9 27.6M1691.0 578.6l-8.5 34.0M1710.9 588.8l-6.2 24.6M1633.4 556.0l-8.1 32.5M1732.2 675.4l-6.0 24.1M1684.1 634.3l-5.7 22.9M1665.1 642.7l-7.0 28.0M1672.9 615.7l-4.0 15.8M1676.6 570.1l-4.4 17.5M1682.5 639.4l-7.3 29.4M1679.7 633.9l-6.5 25.9M1625.7 616.7l-8.7 34.9M1666.9 587.8l-5.8 23.3M1651.5 654.6l-10.1 40.5M1655.5 616.0l-6.8 27.2M1639.2 644.7l-7.4 29.5M1733.8 674.7l-10.5 41.8M1634.4 667.5l-7.3 29.0M1674.4 685.3l-9.5 37.9M1649.6 640.0l-6.2 24.7M1675.8 573.2l-4.9 19.5M1658.1 566.4l-4.6 18.2M1686.5 657.9l-8.6 34.4M1642.0 682.0l-10.7 42.7M1716.2 629.1l-3.3 13.0M1666.3 638.7l-7.5 30.0M1729.1 654.4l-9.9 39.6M1679.8 595.0l-3.6 14.4M1694.8 653.9l-4.8 19.4M1651.8 651.0l-7.4 29.4M1626.8 572.1l-10.8 43.1M1655.1 569.2l-6.7 26.9M1722.3 657.6l-6.2 24.7M1631.9 583.2l-8.2 32.9M1630.8 534.6l-3.7 14.6M1656.2 618.4l-8.4 33.7M1656.2 607.6l-5.7 23.0M1673.7 565.0l-8.3 33.2M1710.5 663.6l-11.0 44.1M1674.9 613.4l-5.9 23.6M1656.5 606.4l-11.0 44.1M1630.9 647.0l-5.7 22.7M1703.9 604.4l-5.6 22.2M1635.6 674.3l-3.7 14.7M1668.5 633.8l-3.3 13.2M1689.3 622.6l-3.7 14.9M1680.5 647.4l-9.5 38.1M1705.6 635.7l-4.1 16.2M1669.8 606.6l-3.3 13.3M1686.9 565.4l-4.3 17.4M1729.6 625.4l-9.0 36.2M1691.5 615.9l-10.2 40.8M1631.7 584.3l-4.8 19.2M1690.4 587.0l-10.6 42.4M1650.4 565.8l-10.6 42.3M1704.1 593.0l-6.1 24.3M1725.4 666.5l-3.2 12.8M1642.4 675.5l-9.8 39.0M1656.9 656.2l-7.8 31.1M1652.0 636.9l-6.4 25.7M1640.4 664.7l-8.9 35.7M1651.6 592.6l-8.6 34.5M1665.6 563.8l-7.3 29.4M1652.5 602.1l-11.1 44.5M1647.6 543.1l-7.1 28.5M1734.1 684.2l-6.0 24.1M1723.6 637.1l-3.6 14.5M1723.8 607.2l-7.3 29.0M1644.9 603.0l-9.3 37.1M1686.0 686.6l-7.4 29.6M1705.9 622.0l-10.3 41.1M1661.7 598.7l-9.7 38.8" stroke="#fff" stroke-width="2.6" fill="none"/>
<path d="M1169 742h7v6h-7zM1173 734h7v5h-7zM1168 743h4v7h-4zM1179 755h6v4h-6zM1172 756h3v5h-3zM1167 738h4v6h-4z" fill="#00ffff"/>
<path d="M1141 781h5v4h-5zM1143 775h5v5h-5zM1143 773h6v3h-6zM1167 780h6v3h-6zM1174 768h4v3h-4zM1168 770h4v3h-4zM1190 769h6v5h-6zM1163 776h5v5h-5zM1178 768h7v3h-7zM1165 770h5v5h-5zM1180 772h3v4h-3z" fill="#00ffff"/>
<path d="M1374 755h5v5h-5zM1370 761h6v5h-6zM1373 750h4v5h-4zM1369 759h5v4h-5z" fill="#00ffff"/>
<path d="M1513 754h4v5h-4zM1517 748h6v6h-6zM1531 741h7v7h-7zM1543 753h6v7h-6zM1536 753h3v3h-3zM1535 758h5v4h-5zM1524 758h7v4h-7zM1514 744h7v4h-7zM1542 749h4v5h-4zM1512 759h3v5h-3zM1522 740h4v8h-4z" fill="#00ffff"/>
<path d="M1621 797h8v7h-8zM1621 807h6v5h-6zM1612 803h9v4h-9zM1623 808h6v6h-6zM1584 796h6v7h-6zM1581 811h7v7h-7zM1585 805h8v7h-8zM1611 810h7v5h-7zM1578 800h9v7h-9zM1569 793h4v6h-4zM1578 808h4v4h-4zM1628 787h6v4h-6zM1614 785h7v4h-7z" fill="#00ffff"/>
<path d="M1227 829h6v3h-6zM1226 837h7v6h-7zM1178 839h5v4h-5zM1223 837h4v3h-4zM1184 839h4v7h-4zM1190 841h6v6h-6zM1207 825h6v7h-6zM1203 826h3v4h-3z" fill="#00ffff"/>
<path d="M1368 828h3v4h-3zM1426 833h4v5h-4zM1444 832h4v5h-4zM1403 830h3v3h-3zM1423 827h8v5h-8zM1377 833h5v5h-5z" fill="#00ffff"/>
<path d="M966 739h4v7h-4zM966 734h5v7h-5zM964 727h4v7h-4zM970 741h5v4h-5z" fill="#00ffff"/>
<path d="M1131 710h4v6h-4zM1126 733h4v5h-4zM1135 716h6v5h-6zM1121 713h6v7h-6zM1135 735h6v7h-6zM1138 727h5v4h-5zM1125 712h3v5h-3zM1127 726h6v4h-6z" fill="#00ffff"/>
<path d="M1281 799h6v3h-6zM1160 774h4v2h-4zM1265 801h13v2h-13zM1187 780h11v3h-11zM1179 772h5v3h-5zM1160 787h7v3h-7zM1210 777h5v3h-5zM1217 798h10v3h-10zM1287 797h14v3h-14zM1207 784h12v3h-12zM1219 787h13v3h-13zM1144 773h6v2h-6zM1296 788h12v3h-12zM1214 775h13v3h-13zM1193 796h13v4h-13zM1207 783h12v3h-12zM1156 785h7v3h-7zM1259 780h10v3h-10zM1259 794h10v2h-10zM1261 790h10v2h-10zM1123 776h8v3h-8zM1245 801h13v3h-13zM1165 771h7v2h-7zM1293 789h9v2h-9zM1169 771h9v3h-9zM1223 795h6v2h-6zM1213 782h8v3h-8zM1150 771h11v3h-11zM1244 792h9v2h-9zM1285 787h9v3h-9zM1142 790h7v2h-7zM1175 782h10v3h-10zM1274 783h12v3h-12zM1235 795h9v3h-9zM1292 796h14v3h-14zM1270 802h8v3h-8zM1150 773h7v3h-7zM1189 784h4v3h-4zM1275 786h4v2h-4z" fill="#ffb6c1"/>
<path d="M1257 786h8v2h-8zM1220 787h10v4h-10zM1178 782h7v4h-7zM1123 772h7v3h-7zM1120 774h11v3h-11zM1296 786h12v3h-12zM1299 786h6v2h-6zM1157 777h5v2h-5zM1161 783h6v3h-6zM1163 778h7v2h-7zM1129 773h4v3h-4zM1129 784h11v3h-11z" fill="#00ffff"/>
<path d="M1380 798h8v3h-8zM1314 788h5v2h-5zM1433 810h9v3h-9zM1503 800h6v2h-6zM1480 797h7v2h-7zM1362 806h13v3h-13zM1524 819h11v2h-11zM1312 783h13v3h-13zM1530 820h6v4h-6zM1371 789h7v4h-7zM1544 796h9v4h-9zM1509 818h8v2h-8zM1351 802h13v3h-13zM1506 814h8v3h-8zM1480 800h9v4h-9zM1396 809h10v4h-10zM1363 801h7v4h-7zM1328 788h10v4h-10zM1452 807h8v3h-8zM1390 791h12v3h-12zM1486 804h6v3h-6zM1474 817h13v2h-13zM1367 786h6v3h-6zM1398 788h7v3h-7zM1464 806h7v3h-7zM1348 799h11v3h-11zM1375 809h13v3h-13zM1403 809h13v3h-13zM1541 813h14v3h-14zM1331 796h13v3h-13zM1555 812h8v4h-8zM1316 795h6v4h-6zM1427 797h7v2h-7zM1553 819h5v3h-5zM1317 790h5v3h-5zM1349 808h6v3h-6zM1339 786h9v3h-9zM1469 809h10v2h-10zM1389 790h11v4h-11zM1343 790h9v2h-9z" fill="#ffb6c1"/>
<path d="M1307 802h6v2h-6zM1422 806h11v4h-11zM1331 794h5v3h-5zM1408 808h13v3h-13zM1450 802h8v3h-8zM1301 797h11v4h-11zM1478 802h8v2h-8zM1453 801h9v3h-9zM1376 802h8v4h-8zM1418 796h14v2h-14zM1420 803h4v2h-4zM1430 803h7v2h-7zM1384 800h5v3h-5zM1357 805h11v2h-11zM1429 808h13v3h-13zM1518 809h6v4h-6zM1497 804h13v2h-13zM1536 800h9v4h-9zM1343 804h4v2h-4zM1542 804h13v3h-13zM1420 797h10v3h-10zM1449 806h7v4h-7zM1305 795h11v4h-11zM1545 803h10v3h-10z" fill="#00ffff"/>
<path d="M1641 866h3v10h-3zM1517 857h2v10h-2zM1697 886h2v19h-2zM1187 891h2v6h-2zM1387 855h3v7h-3zM1489 879h2v19h-2zM1453 883h2v8h-2zM1309 850h2v13h-2zM1346 891h2v9h-2zM1423 887h2v9h-2zM1193 869h2v17h-2zM1259 867h3v9h-3zM1650 866h2v12h-2zM1242 893h3v16h-3zM1352 896h3v9h-3zM1508 858h3v17h-3zM1358 890h2v7h-2zM1418 852h2v18h-2zM1455 863h2v14h-2zM1415 900h2v13h-2zM1380 869h2v11h-2zM1435 859h2v13h-2zM1665 876h2v6h-2zM1420 868h2v13h-2zM1477 868h3v15h-3zM1156 851h2v14h-2zM1443 861h2v16h-2zM1350 878h2v15h-2zM1558 894h3v19h-3zM1527 875h2v16h-2zM1363 866h2v14h-2zM1532 892h2v9h-2zM1490 855h3v19h-3zM1486 863h2v17h-2zM1320 885h2v19h-2zM1570 886h2v18h-2zM1470 887h2v8h-2zM1444 861h3v9h-3zM1639 867h2v14h-2zM1478 854h2v8h-2zM1406 878h2v15h-2zM1378 895h3v10h-3zM1256 850h3v13h-3zM1173 899h2v16h-2zM1580 870h3v17h-3zM1409 864h2v7h-2zM1434 878h2v13h-2zM1166 865h3v8h-3zM1423 856h3v9h-3zM1660 900h3v10h-3zM1515 852h3v16h-3z" fill="#ffb6c1"/>
<path d="M1242 837h5v3h-5zM1539 848h7v4h-7zM1233 844h7v2h-7zM1533 846h12v3h-12zM1414 846h8v3h-8zM1234 839h5v2h-5zM1558 847h11v2h-11zM1510 841h11v2h-11zM1329 844h6v3h-6zM1470 848h12v3h-12zM1346 843h9v3h-9zM1533 845h12v3h-12zM1337 843h4v3h-4zM1268 840h11v4h-11zM1268 845h8v2h-8zM1328 844h7v3h-7zM1252 845h9v2h-9zM1524 845h8v3h-8zM1380 847h7v3h-7zM1472 845h9v3h-9zM1346 846h8v3h-8zM1355 840h9v4h-9zM1294 846h8v3h-8zM1449 842h4v3h-4zM1402 846h11v3h-11zM1446 841h10v2h-10zM1522 843h8v3h-8zM1270 836h9v2h-9z" fill="#ffb6c1"/>
<path d="M824.7 736.6L832.2 733.1L839.7 729.4L847.8 741.2L856.0 739.6L864.1 743.7L865.5 746.7L856.7 748.0L847.8 747.3L842.4 749.8L834.2 749.6L826.1 748.7L825.4 742.1L824.7 736.8Z" fill="#00ffff"/>
<path d="M834.2 728.2L843.8 724.9L843.8 730.2L843.8 735.7L835.6 737.6L834.2 727.3Z" fill="#ffb6c1"/>
<path d="M457 846h6v4h-6zM489 839h7v4h-7zM497 841h3v4h-3zM466 838h5v8h-5zM474 843h7v3h-7zM461 854h5v4h-5zM465 851h8v5h-8zM489 845h4v5h-4z" fill="#00ffff"/>
<path d="M623 821h5v3h-5zM625 832h3v8h-3zM633 830h4v4h-4zM641 837h3v7h-3zM618 817h5v3h-5zM641 834h4v4h-4zM630 832h3v7h-3zM616 824h3v3h-3zM630 822h6v8h-6z" fill="#00ffff"/>
<path d="M1633.1 743.2L1642.6 737.6L1646.7 742.9L1650.8 747.6L1651.2 756.5L1651.7 762.9L1652.1 766.2L1646.2 767.2L1640.3 770.4L1634.5 773.3L1634.1 763.2L1633.8 756.4L1633.4 751.8L1633.1 742.3Z" fill="#00ffff"/>
<path d="M1800 466h7v6h-7zM1799 469h7v6h-7zM1807 454h7v6h-7zM1797 453h6v7h-6z" fill="#00ffff"/>
<path d="M1667 412h5v4h-5zM1663 411h4v6h-4z" fill="#00ffff"/>
<path d="M2094 513h3v9h-3zM2087 519h3v14h-3zM2089 520h5v7h-5zM2093 510h4v9h-4zM2087 521h6v10h-6z" fill="#00ffff"/>
<path d="M2109 527h3v12h-3zM2112 513h4v6h-4zM2112 510h6v6h-6z" fill="#00ffff"/>
<path d="M2125 474h5v8h-5zM2119 486h4v5h-4z" fill="#00ffff"/>
<path d="M2152 478h3v8h-3zM2153 478h4v5h-4z" fill="#00ffff"/>
<path d="M2288 448h7v4h-7zM2254 450h8v4h-8zM2280 459h7v7h-7zM2276 466h5v7h-5zM2283 458h4v7h-4zM2276 471h8v6h-8zM2283 450h8v6h-8zM2256 447h4v4h-4zM2285 465h7v4h-7zM2261 457h5v6h-5zM2288 465h5v5h-5zM2265 460h6v4h-6zM2288 466h8v3h-8zM2261 465h8v5h-8z" fill="#00ffff"/>
<path d="M1615 523h5v11h-5zM1627 501h7v14h-7zM1610 529h7v15h-7zM1619 482h7v10h-7zM1624 550h3v15h-3zM1617 490h6v15h-6zM1615 559h3v7h-3zM1626 537h6v13h-6zM1619 482h6v12h-6zM1623 465h6v8h-6zM1622 575h6v13h-6zM1613 591h7v13h-7zM1611 553h5v12h-5zM1618 493h4v15h-4zM1621 517h7v13h-7z" fill="#00ffff"/>
<path d="M1636 561h5v15h-5zM1662 605h4v17h-4zM1660 560h4v15h-4zM1660 559h4v18h-4zM1642 581h5v6h-5zM1633 555h6v17h-6zM1631 552h7v8h-7zM1672 591h6v16h-6zM1632 608h6v7h-6zM1680 564h5v13h-5zM1658 589h3v18h-3zM1656 546h5v9h-5zM1651 603h6v8h-6zM1662 554h5v9h-5zM1631 597h3v8h-3zM1630 606h4v7h-4zM1627 538h6v19h-6zM1627 550h3v12h-3zM1645 554h6v7h-6zM1662 550h6v8h-6zM1638 628h4v12h-4zM1658 547h6v16h-6zM1660 572h6v7h-6zM1657 587h7v17h-7zM1640 572h5v11h-5zM1652 549h4v6h-4z" fill="#00ffff"/>
<path d="M1756 627h5v10h-5zM1746 636h4v8h-4zM1749 628h4v6h-4zM1734 643h5v6h-5zM1743 627h3v4h-3zM1732 636h5v7h-5zM1705 628h5v6h-5zM1727 643h5v8h-5zM1696 634h3v5h-3zM1705 632h4v10h-4zM1713 630h3v6h-3zM1747 635h7v8h-7zM1737 633h6v7h-6z" fill="#00ffff"/>
<path d="M2899.0 559.2L2904.0 559.8L2905.4 565.6L2906.7 571.8L2908.1 577.9L2909.5 583.5L2910.8 589.9L2912.2 595.4L2913.6 601.9L2914.9 607.2L2916.3 613.9L2917.7 619.0L2919.1 624.4L2920.4 630.9L2921.8 637.4L2923.2 643.3L2924.5 648.5L2925.9 655.5L2927.3 660.7L2928.6 667.1L2930.0 672.0L2925.0 673.1L2923.6 666.8L2922.3 661.2L2920.9 654.3L2919.5 648.9L2918.2 642.8L2916.8 636.0L2915.4 631.2L2914.1 624.4L2912.7 618.2L2911.3 612.1L2909.9 606.7L2908.6 601.1L2907.2 596.0L2905.8 589.9L2904.5 584.2L2903.1 578.1L2901.7 571.6L2900.4 566.5L2899.0 560.0Z" fill="#fff"/>
<path d="M2932.3 631.6l9.7 48.7M2915.1 615.0l9.0 44.8M2931.1 500.2l7.1 35.3M2920.8 696.5l6.7 33.6M2926.7 619.5l9.1 45.5M2923.2 679.7l8.2 41.2M2921.1 623.0l5.8 29.0" stroke="#fff" stroke-width="2.2" fill="none"/>
<path d="M2979.4 596.5l2.5 11.4M3000.4 682.4l8.6 39.1M2991.8 519.8l4.5 20.6M3013.3 514.0l7.5 34.2M2988.4 609.4l4.0 18.2M3030.0 507.9l5.5 24.8M3047.1 484.0l3.5 15.8M2981.1 680.7l6.6 30.1M2995.6 696.0l3.3 15.2M3016.5 655.2l6.2 28.0M2980.6 491.3l3.4 15.5M3055.4 695.7l4.2 19.0M2979.1 632.4l3.5 15.9M3050.8 700.5l7.4 33.5M3041.0 666.9l7.7 35.0M3007.3 653.3l2.3 10.4M3034.0 586.8l8.7 39.5M3041.8 588.7l6.9 31.2M3024.8 628.1l2.3 10.2M2994.1 541.8l6.8 31.1M3052.9 630.8l7.2 32.7M3029.1 515.0l3.9 17.7M3024.4 660.9l5.0 22.6M3034.1 560.2l4.3 19.4M2989.4 579.3l6.0 27.4M2984.3 703.2l2.3 10.3M3037.2 563.2l8.4 38.1M2999.4 486.1l6.8 30.7M3007.2 676.3l6.6 30.0M3012.5 638.6l6.7 30.4" stroke="#fff" stroke-width="2.0" fill="none"/>
<path d="M2892.9 471.7l4.6 23.1M2916.9 462.9l2.6 13.2M2903.1 465.4l4.1 20.5M2899.5 477.7l5.0 25.0M2933.8 464.0l4.4 21.9M2959.3 496.4l5.9 29.7M2883.3 473.3l3.3 16.5M2883.5 469.6l3.0 15.1M2910.1 508.7l5.1 25.5M2864.0 506.0l4.6 22.8M2886.6 460.4l5.4 27.2M2873.5 475.2l3.2 16.1M2939.6 516.7l5.7 28.3M2944.9 510.7l3.9 19.4M2865.6 474.1l2.6 12.8M2871.6 468.1l3.3 16.4" stroke="#fff" stroke-width="2.2" fill="none"/>
<path d="M2336.5 504.8l8.1 27.1M2361.4 515.4l8.1 27.0M2332.0 526.4l6.3 20.9M2333.9 534.5l7.8 25.9M2343.2 538.1l6.5 21.5M2412.6 500.6l3.2 10.6M2421.7 525.7l4.1 13.6M2334.4 518.7l4.8 16.2M2374.8 533.4l6.4 21.3M2345.3 524.9l7.3 24.4M2403.8 537.7l5.9 19.5M2414.5 492.8l4.8 16.0M2369.0 511.5l6.1 20.2M2344.9 524.6l3.3 11.1M2362.8 519.3l3.1 10.5M2372.7 530.5l7.4 24.6M2378.8 498.4l7.5 25.0M2443.0 494.1l5.5 18.4" stroke="#fff" stroke-width="2.2" fill="none"/>
<path d="M3266.1 697.1l2.8 18.7M3286.7 685.3l5.8 38.4M3296.1 695.7l5.1 34.1M3247.3 638.2l3.6 24.3M3285.8 683.4l3.2 21.2M3292.7 672.4l6.6 44.3M3274.0 702.9l3.5 23.4M3299.4 667.1l5.1 34.2M3255.3 673.2l2.7 17.8M3252.6 657.9l5.5 36.5M3236.9 627.7l5.0 33.2M3260.5 723.5l1.9 12.6M3258.2 716.4l5.5 36.9M3251.5 672.3l3.8 25.1M3225.4 611.4l2.9 19.5M3290.4 626.9l3.2 21.4M3266.8 697.6l5.0 33.4M3248.2 647.8l1.9 12.4M3284.6 652.8l3.2 21.6M3240.5 669.1l2.5 16.9M3249.4 614.7l2.7 18.3M3264.6 645.9l2.3 15.5M3290.4 608.3l3.8 25.6M3247.0 608.1l3.3 21.8M3258.1 696.5l3.1 20.6M3253.5 726.1l4.9 32.9M3258.4 629.7l5.7 37.9M3294.8 633.6l6.0 40.1M3253.0 667.0l1.9 12.8M3243.2 633.7l2.8 18.7M3286.9 733.1l3.4 22.5M3285.2 642.2l4.7 31.2M3239.6 727.3l4.4 29.0M3269.3 711.2l4.4 29.3M3261.7 699.6l4.1 27.7M3268.2 641.9l2.6 17.0M3241.7 736.0l4.7 31.5M3226.4 626.2l4.7 31.2M3263.3 738.5l6.3 41.8M3230.3 712.9l6.7 44.4M3280.9 733.5l3.7 24.6M3272.2 695.9l5.7 38.3M3278.7 714.9l3.5 23.1M3284.6 683.6l6.6 43.7M3249.3 686.8l6.1 40.4M3282.0 697.6l2.5 16.8M3236.7 644.5l5.0 33.5M3227.5 692.3l2.4 16.0M3239.5 638.9l4.5 30.1M3278.9 732.5l2.9 19.5M3231.4 720.1l4.7 31.5M3293.9 700.2l2.4 16.3M3252.2 630.7l4.0 26.9M3246.4 720.6l6.2 41.6M3239.2 740.0l6.6 43.8" stroke="#00ffff" stroke-width="2.0" fill="none"/>
<path d="M3199.3 731.8l7.7 38.5M3216.7 678.1l5.9 29.6M3218.3 675.7l5.1 25.3M3184.5 656.4l6.9 34.3M3195.4 713.7l4.8 24.0M3215.5 670.0l2.9 14.4M3213.4 667.0l3.5 17.7M3203.2 692.1l7.4 36.9M3214.8 685.7l4.9 24.3M3210.0 653.6l4.1 20.3M3210.2 738.6l5.8 28.8M3190.5 741.6l6.9 34.3M3191.1 678.7l2.6 12.9M3218.1 662.9l7.0 35.1M3215.9 721.5l5.6 27.8M3192.1 643.8l5.7 28.6M3180.7 694.5l6.7 33.7M3187.0 685.9l5.4 27.2M3187.5 661.2l5.8 29.1M3188.7 656.0l3.6 18.2M3226.8 734.2l3.0 15.1M3208.7 683.2l2.6 12.9M3192.6 708.3l2.5 12.5M3227.9 670.0l4.3 21.7M3227.5 654.6l3.1 15.7" stroke="#fff" stroke-width="2.4" fill="none"/>
<path d="M3308.9 665.1l4.2 20.9M3313.3 716.0l4.7 23.6M3291.8 669.8l7.2 35.9M3307.3 644.9l3.8 19.0M3299.1 668.1l4.2 20.9M3316.8 697.5l2.7 13.3M3295.8 705.8l7.3 36.5M3321.5 654.2l6.3 31.4M3293.0 694.0l3.6 18.2M3323.6 707.5l5.0 25.1M3319.0 715.6l7.4 37.0M3315.9 689.3l4.4 22.0M3317.3 651.3l5.0 24.8M3293.4 647.4l6.1 30.7M3307.0 656.6l7.7 38.6M3301.6 683.2l5.1 25.7M3297.4 719.5l6.6 33.2M3325.7 664.0l7.5 37.5M3326.4 715.3l3.4 17.0M3296.2 646.7l2.9 14.5" stroke="#fff" stroke-width="2.4" fill="none"/>
<path d="M720.9 547.1l0.0 11.0M542.0 615.2l0.0 5.6M730.8 638.3l0.0 8.9M567.1 616.4l0.0 9.0M795.7 642.1l0.0 7.9M601.5 556.6l0.0 12.2M561.8 639.7l0.0 14.5M871.0 623.4l0.0 15.7M556.2 608.8l0.0 6.5M538.4 634.6l0.0 17.7M448.2 591.7l0.0 10.3M678.8 601.7l0.0 8.4M813.0 587.2l0.0 15.1M731.5 640.5l0.0 11.7M662.7 619.6l0.0 8.0M717.1 617.3l0.0 15.4M462.2 630.2l0.0 13.3M846.3 597.9l0.0 16.3M388.1 558.6l0.0 12.2M703.4 580.8l0.0 5.9M816.1 549.2l0.0 16.6M479.0 612.9l0.0 12.7M480.7 575.0l0.0 8.1M633.9 569.9l0.0 12.1M504.2 554.1l0.0 14.1M493.8 637.3l0.0 10.3M494.1 614.2l0.0 16.7M549.9 615.7l0.0 9.3M871.9 572.1l0.0 5.5M681.2 570.7l0.0 10.4M569.7 578.5l0.0 7.5M639.8 609.0l0.0 5.4M813.6 568.0l0.0 11.2M471.1 609.7l0.0 10.3M658.8 583.0l0.0 11.6M578.5 575.2l0.0 16.0M510.7 621.5l0.0 10.5M418.9 599.7l0.0 8.6M842.5 589.4l0.0 15.5M704.5 572.4l0.0 6.7M658.8 561.1l0.0 14.8M665.8 564.1l0.0 15.1M858.3 590.2l0.0 17.6M590.9 543.7l0.0 11.0M540.7 634.2l0.0 11.8M854.7 558.3l0.0 10.0M366.1 547.1l0.0 14.2M375.7 564.3l0.0 10.6M834.1 565.7l0.0 5.1M720.8 612.0l0.0 6.8M837.8 629.0l0.0 17.2M784.0 596.9l0.0 14.1M422.7 606.7l0.0 9.6M532.0 573.4l0.0 6.1M777.2 618.8l0.0 5.1M623.5 544.3l0.0 12.1M523.3 594.6l0.0 8.4M825.4 542.8l0.0 8.9M475.3 617.0l0.0 9.8M803.6 574.9l0.0 6.6M593.6 550.6l0.0 7.0M628.7 599.7l0.0 7.8M451.5 594.4l0.0 10.8M607.4 609.4l0.0 6.8M364.8 548.5l0.0 15.3M721.5 557.4l0.0 9.3M517.7 634.7l0.0 10.4M727.5 550.6l0.0 5.5M474.9 606.5l0.0 10.8M809.0 624.6l0.0 13.6" stroke="#ffb6c1" stroke-width="1.1" fill="none"/>
<path d="M1004.4 628.5l0.0 16.8M969.0 689.6l0.0 19.1M966.4 627.3l0.0 18.2M992.0 665.5l0.0 18.4M992.4 699.7l0.0 23.6M981.9 638.1l0.0 27.1M964.0 642.1l0.0 12.2M990.5 690.7l0.0 10.2M986.7 685.3l0.0 23.1M965.5 703.1l0.0 13.9M980.5 632.6l0.0 26.5M991.7 713.1l0.0 19.3M967.3 664.9l0.0 9.7M966.7 712.3l0.0 8.0M980.7 622.9l0.0 24.8M979.5 732.2l0.0 13.5M976.9 733.5l0.0 28.3M980.5 696.4l0.0 25.5M979.0 618.3l0.0 16.2M995.2 730.8l0.0 17.7M981.7 662.5l0.0 21.4M963.1 724.8l0.0 29.0M963.5 618.7l0.0 14.9M969.0 708.0l0.0 27.1M988.2 728.4l0.0 13.0M971.4 662.9l0.0 17.9M971.5 725.8l0.0 24.5M975.8 644.5l0.0 14.2M981.0 694.6l0.0 25.1M971.4 662.4l0.0 28.9M983.9 702.1l0.0 26.2M984.1 662.1l0.0 25.1M992.7 734.2l0.0 14.0M1003.7 693.0l0.0 20.4M1003.1 627.4l0.0 14.2M985.4 713.9l0.0 12.1" stroke="#ffb6c1" stroke-width="1.8" fill="none"/>
<path d="M2558.0 551.5l0.0 8.9M2526.4 633.0l0.0 10.8M2564.9 630.0l0.0 9.2M2532.1 590.6l0.0 14.6M2510.4 563.5l0.0 7.7M2505.0 645.2l0.0 12.6M2504.5 594.6l0.0 14.8M2576.1 569.0l0.0 15.4M2485.8 669.8l0.0 8.5M2575.4 544.1l0.0 12.6M2572.4 646.6l0.0 11.3M2495.6 570.8l0.0 15.4M2566.7 568.8l0.0 8.8M2541.3 579.4l0.0 7.3M2566.9 554.5l0.0 12.0M2520.6 601.1l0.0 14.6M2554.6 640.7l0.0 5.2M2561.0 643.0l0.0 5.0M2502.6 635.0l0.0 14.6M2533.9 655.6l0.0 6.0M2506.0 646.6l0.0 13.7M2502.3 614.0l0.0 9.8M2553.9 591.8l0.0 8.5M2556.2 630.5l0.0 9.0M2551.4 574.1l0.0 10.5M2498.8 584.7l0.0 9.6M2488.8 580.5l0.0 8.9M2512.7 605.9l0.0 14.9" stroke="#ffb6c1" stroke-width="1.1" fill="none"/>
<path d="M3132.5 571.8l0.0 7.9M3094.4 595.4l0.0 16.6M3126.9 596.3l0.0 11.6M3098.6 563.6l0.0 11.6M3128.4 563.4l0.0 12.1M3094.1 568.6l0.0 13.7M3122.5 597.7l0.0 10.5M3101.6 562.5l0.0 8.6" stroke="#ffb6c1" stroke-width="1.6" fill="none"/>
<path d="M3527 661h2v10h-2zM3569 683h3v6h-3zM3538 678h4v12h-4zM3547 669h3v9h-3zM3552 665h2v13h-2zM3620 684h3v11h-3zM3544 664h2v8h-2zM3602 674h2v9h-2zM3577 666h3v13h-3zM3568 685h3v6h-3zM3614 678h3v7h-3zM3589 666h3v6h-3zM3565 684h3v10h-3zM3585 677h3v8h-3zM3545 676h4v13h-4zM3572 668h3v5h-3zM3573 680h4v6h-4zM3544 673h3v14h-3zM3535 664h3v12h-3zM3527 670h3v9h-3zM3542 663h4v10h-4zM3577 677h4v9h-4zM3560 683h2v12h-2zM3569 674h3v13h-3zM3554 669h2v13h-2zM3605 662h2v8h-2zM3527 673h4v11h-4zM3573 684h3v8h-3zM3550 675h3v6h-3zM3572 684h4v11h-4zM3609 673h3v11h-3zM3544 675h3v8h-3zM3573 665h3v6h-3z" fill="#ffb6c1"/>
<path d="M2889.3 511.1l2.0 13.6M2819.4 664.8l0.9 6.3M2961.4 559.8l2.9 19.4M2865.7 528.9l2.3 15.4M2848.7 662.6l1.9 12.7M2853.5 618.2l1.4 9.1M2853.0 516.4l1.4 9.3M2843.8 531.8l1.8 11.8M2889.9 618.9l2.1 13.7M2936.5 622.7l1.9 12.6M2970.9 528.3l1.5 9.8M2802.4 682.0l2.7 18.3M2881.5 668.5l2.1 13.9M2986.2 680.3l1.6 10.6M2855.8 583.1l2.9 19.4M2893.6 572.4l1.0 6.3M2876.9 685.0l1.8 11.9M2959.0 679.4l2.9 19.1M2946.6 599.4l1.5 10.2M2988.1 661.0l2.5 16.4M2811.2 629.7l2.3 15.7M2827.0 565.3l1.9 12.4M2850.7 521.4l1.2 8.1M2891.5 502.7l2.6 17.1M2883.4 555.7l1.4 9.5" stroke="#fff" stroke-width="1.4" fill="none"/>
</g>
</g>
<g id="markers" shape-rendering="crispEdges">
<g clip-path="url(#axclip)">
<path d="M289.4 558.4L306.2 529.8L323.0 558.4Z" fill="#f00"/>
<path d="M312.8 558.4L329.6 529.8L346.4 558.4Z" fill="#f00"/>
<path d="M336.3 590.2L353.1 561.6L369.9 590.2Z" fill="#f00"/>
<path d="M359.7 625.8L376.5 597.2L393.3 625.8Z" fill="#f00"/>
<path d="M383.1 630.7L399.9 602.1L416.7 630.7Z" fill="#f00"/>
<path d="M406.5 638.6L423.3 610.0L440.1 638.6Z" fill="#f00"/>
<path d="M429.9 646.7L446.7 618.1L463.5 646.7Z" fill="#f00"/>
<path d="M453.4 655.3L470.2 626.7L487.0 655.3Z" fill="#f00"/>
<path d="M476.8 436.1L493.6 407.5L510.4 436.1Z" fill="#f00"/>
<path d="M500.2 484.3L517.0 455.7L533.8 484.3Z" fill="#f00"/>
<path d="M523.6 658.3L540.4 629.7L557.2 658.3Z" fill="#f00"/>
<path d="M547.0 663.6L563.8 635.0L580.6 663.6Z" fill="#f00"/>
<path d="M570.5 675.6L587.3 647.0L604.1 675.6Z" fill="#f00"/>
<path d="M593.9 687.8L610.7 659.2L627.5 687.8Z" fill="#f00"/>
<path d="M617.3 687.8L634.1 659.2L650.9 687.8Z" fill="#f00"/>
<path d="M640.7 702.8L657.5 674.2L674.3 702.8Z" fill="#f00"/>
<path d="M664.1 700.3L680.9 671.7L697.7 700.3Z" fill="#f00"/>
<path d="M687.6 681.0L704.4 652.4L721.2 681.0Z" fill="#f00"/>
<path d="M711.0 673.7L727.8 645.1L744.6 673.7Z" fill="#f00"/>
<path d="M734.4 660.3L751.2 631.7L768.0 660.3Z" fill="#f00"/>
<path d="M757.8 655.3L774.6 626.7L791.4 655.3Z" fill="#f00"/>
<path d="M781.2 679.7L798.0 651.1L814.8 679.7Z" fill="#f00"/>
<path d="M804.7 677.0L821.5 648.4L838.3 677.0Z" fill="#f00"/>
<path d="M828.1 664.7L844.9 636.1L861.7 664.7Z" fill="#f00"/>
<path d="M851.5 664.7L868.3 636.1L885.1 664.7Z" fill="#f00"/>
<path d="M874.9 677.0L891.7 648.4L908.5 677.0Z" fill="#f00"/>
<path d="M898.3 700.1L915.1 671.5L931.9 700.1Z" fill="#f00"/>
<path d="M921.8 706.9L938.6 678.3L955.4 706.9Z" fill="#f00"/>
<path d="M945.2 725.3L962.0 696.7L978.8 725.3Z" fill="#f00"/>
<path d="M968.6 753.1L985.4 724.5L1002.2 753.1Z" fill="#f00"/>
<path d="M992.0 455.2L1008.8 426.6L1025.6 455.2Z" fill="#f00"/>
<path d="M1015.4 467.3L1032.2 438.7L1049.0 467.3Z" fill="#f00"/>
<path d="M1038.9 470.1L1055.7 441.5L1072.5 470.1Z" fill="#f00"/>
<path d="M1062.3 514.5L1079.1 485.9L1095.9 514.5Z" fill="#f00"/>
<path d="M1085.7 515.4L1102.5 486.8L1119.3 515.4Z" fill="#f00"/>
<path d="M1132.5 713.8L1149.3 685.2L1166.1 713.8Z" fill="#f00"/>
<path d="M1156.0 705.3L1172.8 676.7L1189.6 705.3Z" fill="#f00"/>
<path d="M1179.4 663.8L1196.2 635.2L1213.0 663.8Z" fill="#f00"/>
<path d="M1202.8 700.1L1219.6 671.5L1236.4 700.1Z" fill="#f00"/>
<path d="M1226.2 706.6L1243.0 678.0L1259.8 706.6Z" fill="#f00"/>
<path d="M1249.6 711.3L1266.4 682.7L1283.2 711.3Z" fill="#f00"/>
<path d="M1273.1 718.5L1289.9 689.9L1306.7 718.5Z" fill="#f00"/>
<path d="M1296.5 725.1L1313.3 696.5L1330.1 725.1Z" fill="#f00"/>
<path d="M1319.9 733.5L1336.7 704.9L1353.5 733.5Z" fill="#f00"/>
<path d="M1343.3 734.8L1360.1 706.2L1376.9 734.8Z" fill="#f00"/>
<path d="M1366.7 734.8L1383.5 706.2L1400.3 734.8Z" fill="#f00"/>
<path d="M1390.2 734.6L1407.0 706.0L1423.8 734.6Z" fill="#f00"/>
<path d="M1413.6 743.5L1430.4 714.9L1447.2 743.5Z" fill="#f00"/>
<path d="M1437.0 725.6L1453.8 697.0L1470.6 725.6Z" fill="#f00"/>
<path d="M1460.4 726.7L1477.2 698.1L1494.0 726.7Z" fill="#f00"/>
<path d="M1483.8 730.0L1500.6 701.4L1517.4 730.0Z" fill="#f00"/>
<path d="M1507.3 775.6L1524.1 747.0L1540.9 775.6Z" fill="#f00"/>
<path d="M1530.7 730.3L1547.5 701.7L1564.3 730.3Z" fill="#f00"/>
<path d="M1554.1 708.5L1570.9 679.9L1587.7 708.5Z" fill="#f00"/>
<path d="M1577.5 708.3L1594.3 679.7L1611.1 708.3Z" fill="#f00"/>
<path d="M1600.9 708.7L1617.7 680.1L1634.5 708.7Z" fill="#f00"/>
<path d="M1624.4 694.6L1641.2 666.0L1658.0 694.6Z" fill="#f00"/>
<path d="M1647.8 686.5L1664.6 657.9L1681.4 686.5Z" fill="#f00"/>
<path d="M1671.2 696.8L1688.0 668.2L1704.8 696.8Z" fill="#f00"/>
<path d="M1694.6 685.3L1711.4 656.7L1728.2 685.3Z" fill="#f00"/>
<path d="M1718.0 652.8L1734.8 624.2L1751.6 652.8Z" fill="#f00"/>
<path d="M1741.5 825.9L1758.3 797.3L1775.1 825.9Z" fill="#f00"/>
<path d="M1811.7 951.7L1828.5 923.1L1845.3 951.7Z" fill="#f00"/>
<path d="M1835.1 950.3L1851.9 921.7L1868.7 950.3Z" fill="#f00"/>
<path d="M1858.6 947.6L1875.4 919.0L1892.2 947.6Z" fill="#f00"/>
<path d="M1882.0 946.3L1898.8 917.7L1915.6 946.3Z" fill="#f00"/>
<path d="M1905.4 947.6L1922.2 919.0L1939.0 947.6Z" fill="#f00"/>
<path d="M1928.8 946.3L1945.6 917.7L1962.4 946.3Z" fill="#f00"/>
<path d="M1952.2 946.3L1969.0 917.7L1985.8 946.3Z" fill="#f00"/>
<path d="M1975.7 952.8L1992.5 924.2L2009.3 952.8Z" fill="#f00"/>
<path d="M1999.1 959.3L2015.9 930.7L2032.7 959.3Z" fill="#f00"/>
<path d="M2022.5 952.8L2039.3 924.2L2056.1 952.8Z" fill="#f00"/>
<path d="M2045.9 952.8L2062.7 924.2L2079.5 952.8Z" fill="#f00"/>
<path d="M2069.3 952.8L2086.1 924.2L2102.9 952.8Z" fill="#f00"/>
<path d="M2092.8 911.7L2109.6 883.1L2126.4 911.7Z" fill="#f00"/>
<path d="M2116.2 843.5L2133.0 814.9L2149.8 843.5Z" fill="#f00"/>
<path d="M2139.6 854.3L2156.4 825.7L2173.2 854.3Z" fill="#f00"/>
<path d="M2163.0 854.3L2179.8 825.7L2196.6 854.3Z" fill="#f00"/>
<path d="M2186.4 851.1L2203.2 822.5L2220.0 851.1Z" fill="#f00"/>
<path d="M2209.9 954.3L2226.7 925.7L2243.5 954.3Z" fill="#f00"/>
<path d="M2233.3 953.1L2250.1 924.5L2266.9 953.1Z" fill="#f00"/>
<path d="M2256.7 851.1L2273.5 822.5L2290.3 851.1Z" fill="#f00"/>
<path d="M2280.1 508.4L2296.9 479.8L2313.7 508.4Z" fill="#f00"/>
<path d="M2303.5 512.2L2320.3 483.6L2337.1 512.2Z" fill="#f00"/>
<path d="M2327.0 587.0L2343.8 558.4L2360.6 587.0Z" fill="#f00"/>
<path d="M2350.4 593.8L2367.2 565.2L2384.0 593.8Z" fill="#f00"/>
<path d="M2373.8 593.3L2390.6 564.7L2407.4 593.3Z" fill="#f00"/>
<path d="M2397.2 572.0L2414.0 543.4L2430.8 572.0Z" fill="#f00"/>
<path d="M2420.6 607.3L2437.4 578.7L2454.2 607.3Z" fill="#f00"/>
<path d="M2444.1 623.6L2460.9 595.0L2477.7 623.6Z" fill="#f00"/>
<path d="M2467.5 655.6L2484.3 627.0L2501.1 655.6Z" fill="#f00"/>
<path d="M2490.9 658.9L2507.7 630.3L2524.5 658.9Z" fill="#f00"/>
<path d="M2514.3 672.8L2531.1 644.2L2547.9 672.8Z" fill="#f00"/>
<path d="M2537.7 682.3L2554.5 653.7L2571.3 682.3Z" fill="#f00"/>
<path d="M2561.2 684.3L2578.0 655.7L2594.8 684.3Z" fill="#f00"/>
<path d="M2584.6 700.9L2601.4 672.3L2618.2 700.9Z" fill="#f00"/>
<path d="M2608.0 698.7L2624.8 670.1L2641.6 698.7Z" fill="#f00"/>
<path d="M2631.4 695.3L2648.2 666.7L2665.0 695.3Z" fill="#f00"/>
<path d="M2654.8 696.8L2671.6 668.2L2688.4 696.8Z" fill="#f00"/>
<path d="M2678.3 686.5L2695.1 657.9L2711.9 686.5Z" fill="#f00"/>
<path d="M2701.7 685.1L2718.5 656.5L2735.3 685.1Z" fill="#f00"/>
<path d="M2725.1 685.1L2741.9 656.5L2758.7 685.1Z" fill="#f00"/>
<path d="M2748.5 696.0L2765.3 667.4L2782.1 696.0Z" fill="#f00"/>
<path d="M2771.9 709.0L2788.7 680.4L2805.5 709.0Z" fill="#f00"/>
<path d="M2795.4 719.9L2812.2 691.3L2829.0 719.9Z" fill="#f00"/>
<path d="M2818.8 721.3L2835.6 692.7L2852.4 721.3Z" fill="#f00"/>
<path d="M2842.2 721.3L2859.0 692.7L2875.8 721.3Z" fill="#f00"/>
<path d="M2865.6 730.0L2882.4 701.4L2899.2 730.0Z" fill="#f00"/>
<path d="M2889.0 730.0L2905.8 701.4L2922.6 730.0Z" fill="#f00"/>
<path d="M2912.5 728.6L2929.3 700.0L2946.1 728.6Z" fill="#f00"/>
<path d="M2935.9 728.6L2952.7 700.0L2969.5 728.6Z" fill="#f00"/>
<path d="M2959.3 728.3L2976.1 699.7L2992.9 728.3Z" fill="#f00"/>
<path d="M2982.7 728.6L2999.5 700.0L3016.3 728.6Z" fill="#f00"/>
<path d="M3006.1 721.8L3022.9 693.2L3039.7 721.8Z" fill="#f00"/>
<path d="M3029.6 721.3L3046.4 692.7L3063.2 721.3Z" fill="#f00"/>
<path d="M3053.0 725.3L3069.8 696.7L3086.6 725.3Z" fill="#f00"/>
<path d="M3076.4 685.1L3093.2 656.5L3110.0 685.1Z" fill="#f00"/>
<path d="M3099.8 687.3L3116.6 658.7L3133.4 687.3Z" fill="#f00"/>
<path d="M3123.2 713.6L3140.0 685.0L3156.8 713.6Z" fill="#f00"/>
<path d="M3146.7 721.8L3163.5 693.2L3180.3 721.8Z" fill="#f00"/>
<path d="M3170.1 727.0L3186.9 698.4L3203.7 727.0Z" fill="#f00"/>
<path d="M3193.5 741.6L3210.3 713.0L3227.1 741.6Z" fill="#f00"/>
<path d="M3240.3 741.9L3257.1 713.3L3273.9 741.9Z" fill="#f00"/>
<path d="M3287.2 743.5L3304.0 714.9L3320.8 743.5Z" fill="#f00"/>
<path d="M3310.6 765.3L3327.4 736.7L3344.2 765.3Z" fill="#f00"/>
<path d="M3334.0 774.8L3350.8 746.2L3367.6 774.8Z" fill="#f00"/>
<path d="M3357.4 785.1L3374.2 756.5L3391.0 785.1Z" fill="#f00"/>
<path d="M3380.9 765.3L3397.7 736.7L3414.5 765.3Z" fill="#f00"/>
<path d="M3404.3 780.3L3421.1 751.7L3437.9 780.3Z" fill="#f00"/>
<path d="M3427.7 806.0L3444.5 777.4L3461.3 806.0Z" fill="#f00"/>
<path d="M3451.1 804.7L3467.9 776.1L3484.7 804.7Z" fill="#f00"/>
<path d="M3474.5 800.6L3491.3 772.0L3508.1 800.6Z" fill="#f00"/>
<path d="M3498.0 803.3L3514.8 774.7L3531.6 803.3Z" fill="#f00"/>
<path d="M3521.4 806.9L3538.2 778.3L3555.0 806.9Z" fill="#f00"/>
<path d="M3544.8 808.3L3561.6 779.7L3578.4 808.3Z" fill="#f00"/>
<path d="M3568.2 781.6L3585.0 753.0L3601.8 781.6Z" fill="#f00"/>
<path d="M3591.6 763.3L3608.4 734.7L3625.2 763.3Z" fill="#f00"/>
<path d="M3615.1 759.8L3631.9 731.2L3648.7 759.8Z" fill="#f00"/>
<path d="M289.4 416.2L306.2 444.8L323.0 416.2Z" fill="#f00"/>
<path d="M312.8 385.0L329.6 413.6L346.4 385.0Z" fill="#f00"/>
<path d="M336.3 467.9L353.1 496.5L369.9 467.9Z" fill="#f00"/>
<path d="M359.7 509.2L376.5 537.8L393.3 509.2Z" fill="#f00"/>
<path d="M383.1 492.3L399.9 520.9L416.7 492.3Z" fill="#f00"/>
<path d="M406.5 504.6L423.3 533.2L440.1 504.6Z" fill="#f00"/>
<path d="M429.9 479.6L446.7 508.2L463.5 479.6Z" fill="#f00"/>
<path d="M453.4 504.6L470.2 533.2L487.0 504.6Z" fill="#f00"/>
<path d="M476.8 395.3L493.6 423.9L510.4 395.3Z" fill="#f00"/>
<path d="M476.8 512.7L493.6 541.3L510.4 512.7Z" fill="#f00"/>
<path d="M500.2 416.0L517.0 444.6L533.8 416.0Z" fill="#f00"/>
<path d="M523.6 417.6L540.4 446.2L557.2 417.6Z" fill="#f00"/>
<path d="M547.0 421.7L563.8 450.3L580.6 421.7Z" fill="#f00"/>
<path d="M570.5 420.3L587.3 448.9L604.1 420.3Z" fill="#f00"/>
<path d="M593.9 420.3L610.7 448.9L627.5 420.3Z" fill="#f00"/>
<path d="M617.3 440.7L634.1 469.3L650.9 440.7Z" fill="#f00"/>
<path d="M640.7 438.0L657.5 466.6L674.3 438.0Z" fill="#f00"/>
<path d="M664.1 480.7L680.9 509.3L697.7 480.7Z" fill="#f00"/>
<path d="M687.6 425.7L704.4 454.3L721.2 425.7Z" fill="#f00"/>
<path d="M711.0 425.7L727.8 454.3L744.6 425.7Z" fill="#f00"/>
<path d="M734.4 424.9L751.2 453.5L768.0 424.9Z" fill="#f00"/>
<path d="M757.8 424.4L774.6 453.0L791.4 424.4Z" fill="#f00"/>
<path d="M781.2 423.0L798.0 451.6L814.8 423.0Z" fill="#f00"/>
<path d="M804.7 455.7L821.5 484.3L838.3 455.7Z" fill="#f00"/>
<path d="M828.1 469.7L844.9 498.3L861.7 469.7Z" fill="#f00"/>
<path d="M851.5 493.7L868.3 522.3L885.1 493.7Z" fill="#f00"/>
<path d="M874.9 514.1L891.7 542.7L908.5 514.1Z" fill="#f00"/>
<path d="M898.3 544.0L915.1 572.6L931.9 544.0Z" fill="#f00"/>
<path d="M921.8 532.5L938.6 561.1L955.4 532.5Z" fill="#f00"/>
<path d="M945.2 544.0L962.0 572.6L978.8 544.0Z" fill="#f00"/>
<path d="M968.6 546.1L985.4 574.7L1002.2 546.1Z" fill="#f00"/>
<path d="M992.0 418.1L1008.8 446.7L1025.6 418.1Z" fill="#f00"/>
<path d="M1015.4 421.1L1032.2 449.7L1049.0 421.1Z" fill="#f00"/>
<path d="M1038.9 425.7L1055.7 454.3L1072.5 425.7Z" fill="#f00"/>
<path d="M1062.3 418.3L1079.1 446.9L1095.9 418.3Z" fill="#f00"/>
<path d="M1085.7 398.5L1102.5 427.1L1119.3 398.5Z" fill="#f00"/>
<path d="M1132.5 441.2L1149.3 469.8L1166.1 441.2Z" fill="#f00"/>
<path d="M1156.0 439.9L1172.8 468.5L1189.6 439.9Z" fill="#f00"/>
<path d="M1179.4 424.9L1196.2 453.5L1213.0 424.9Z" fill="#f00"/>
<path d="M1202.8 420.3L1219.6 448.9L1236.4 420.3Z" fill="#f00"/>
<path d="M1226.2 416.2L1243.0 444.8L1259.8 416.2Z" fill="#f00"/>
<path d="M1249.6 408.1L1266.4 436.7L1283.2 408.1Z" fill="#f00"/>
<path d="M1273.1 420.9L1289.9 449.5L1306.7 420.9Z" fill="#f00"/>
<path d="M1296.5 445.3L1313.3 473.9L1330.1 445.3Z" fill="#f00"/>
<path d="M1319.9 430.4L1336.7 459.0L1353.5 430.4Z" fill="#f00"/>
<path d="M1343.3 426.3L1360.1 454.9L1376.9 426.3Z" fill="#f00"/>
<path d="M1366.7 423.0L1383.5 451.6L1400.3 423.0Z" fill="#f00"/>
<path d="M1390.2 425.7L1407.0 454.3L1423.8 425.7Z" fill="#f00"/>
<path d="M1413.6 503.2L1430.4 531.8L1447.2 503.2Z" fill="#f00"/>
<path d="M1437.0 463.0L1453.8 491.6L1470.6 463.0Z" fill="#f00"/>
<path d="M1460.4 451.0L1477.2 479.6L1494.0 451.0Z" fill="#f00"/>
<path d="M1483.8 431.2L1500.6 459.8L1517.4 431.2Z" fill="#f00"/>
<path d="M1507.3 451.0L1524.1 479.6L1540.9 451.0Z" fill="#f00"/>
<path d="M1530.7 466.5L1547.5 495.1L1564.3 466.5Z" fill="#f00"/>
<path d="M1554.1 492.9L1570.9 521.5L1587.7 492.9Z" fill="#f00"/>
<path d="M1577.5 493.7L1594.3 522.3L1611.1 493.7Z" fill="#f00"/>
<path d="M1600.9 477.9L1617.7 506.5L1634.5 477.9Z" fill="#f00"/>
<path d="M1624.4 544.0L1641.2 572.6L1658.0 544.0Z" fill="#f00"/>
<path d="M1647.8 556.2L1664.6 584.8L1681.4 556.2Z" fill="#f00"/>
<path d="M1694.6 605.9L1711.4 634.5L1728.2 605.9Z" fill="#f00"/>
<path d="M1741.5 788.7L1758.3 817.3L1775.1 788.7Z" fill="#f00"/>
<path d="M1811.7 914.7L1828.5 943.3L1845.3 914.7Z" fill="#f00"/>
<path d="M1835.1 910.7L1851.9 939.3L1868.7 910.7Z" fill="#f00"/>
<path d="M1858.6 904.7L1875.4 933.3L1892.2 904.7Z" fill="#f00"/>
<path d="M1882.0 904.7L1898.8 933.3L1915.6 904.7Z" fill="#f00"/>
<path d="M1905.4 903.7L1922.2 932.3L1939.0 903.7Z" fill="#f00"/>
<path d="M1928.8 903.7L1945.6 932.3L1962.4 903.7Z" fill="#f00"/>
<path d="M1952.2 892.4L1969.0 921.0L1985.8 892.4Z" fill="#f00"/>
<path d="M1975.7 859.5L1992.5 888.1L2009.3 859.5Z" fill="#f00"/>
<path d="M1999.1 860.3L2015.9 888.9L2032.7 860.3Z" fill="#f00"/>
<path d="M2022.5 876.7L2039.3 905.3L2056.1 876.7Z" fill="#f00"/>
<path d="M2045.9 872.5L2062.7 901.1L2079.5 872.5Z" fill="#f00"/>
<path d="M2069.3 872.5L2086.1 901.1L2102.9 872.5Z" fill="#f00"/>
<path d="M2092.8 873.9L2109.6 902.5L2126.4 873.9Z" fill="#f00"/>
<path d="M2116.2 795.9L2133.0 824.5L2149.8 795.9Z" fill="#f00"/>
<path d="M2139.6 794.6L2156.4 823.2L2173.2 794.6Z" fill="#f00"/>
<path d="M2163.0 801.4L2179.8 830.0L2196.6 801.4Z" fill="#f00"/>
<path d="M2186.4 803.7L2203.2 832.3L2220.0 803.7Z" fill="#f00"/>
<path d="M2209.9 910.0L2226.7 938.6L2243.5 910.0Z" fill="#f00"/>
<path d="M2233.3 910.0L2250.1 938.6L2266.9 910.0Z" fill="#f00"/>
<path d="M2256.7 809.2L2273.5 837.8L2290.3 809.2Z" fill="#f00"/>
<path d="M2280.1 464.6L2296.9 493.2L2313.7 464.6Z" fill="#f00"/>
<path d="M2303.5 468.4L2320.3 497.0L2337.1 468.4Z" fill="#f00"/>
<path d="M2327.0 480.1L2343.8 508.7L2360.6 480.1Z" fill="#f00"/>
<path d="M2350.4 494.2L2367.2 522.8L2384.0 494.2Z" fill="#f00"/>
<path d="M2373.8 466.5L2390.6 495.1L2407.4 466.5Z" fill="#f00"/>
<path d="M2397.2 461.1L2414.0 489.7L2430.8 461.1Z" fill="#f00"/>
<path d="M2420.6 471.1L2437.4 499.7L2454.2 471.1Z" fill="#f00"/>
<path d="M2444.1 473.3L2460.9 501.9L2477.7 473.3Z" fill="#f00"/>
<path d="M2467.5 466.5L2484.3 495.1L2501.1 466.5Z" fill="#f00"/>
<path d="M2490.9 490.2L2507.7 518.8L2524.5 490.2Z" fill="#f00"/>
<path d="M2514.3 503.2L2531.1 531.8L2547.9 503.2Z" fill="#f00"/>
<path d="M2537.7 503.7L2554.5 532.3L2571.3 503.7Z" fill="#f00"/>
<path d="M2561.2 494.2L2578.0 522.8L2594.8 494.2Z" fill="#f00"/>
<path d="M2584.6 492.9L2601.4 521.5L2618.2 492.9Z" fill="#f00"/>
<path d="M2608.0 491.5L2624.8 520.1L2641.6 491.5Z" fill="#f00"/>
<path d="M2631.4 480.1L2648.2 508.7L2665.0 480.1Z" fill="#f00"/>
<path d="M2654.8 475.2L2671.6 503.8L2688.4 475.2Z" fill="#f00"/>
<path d="M2678.3 475.2L2695.1 503.8L2711.9 475.2Z" fill="#f00"/>
<path d="M2701.7 453.5L2718.5 482.1L2735.3 453.5Z" fill="#f00"/>
<path d="M2725.1 433.1L2741.9 461.7L2758.7 433.1Z" fill="#f00"/>
<path d="M2748.5 453.5L2765.3 482.1L2782.1 453.5Z" fill="#f00"/>
<path d="M2771.9 445.3L2788.7 473.9L2805.5 445.3Z" fill="#f00"/>
<path d="M2795.4 438.0L2812.2 466.6L2829.0 438.0Z" fill="#f00"/>
<path d="M2818.8 436.4L2835.6 465.0L2852.4 436.4Z" fill="#f00"/>
<path d="M2842.2 460.3L2859.0 488.9L2875.8 460.3Z" fill="#f00"/>
<path d="M2865.6 456.2L2882.4 484.8L2899.2 456.2Z" fill="#f00"/>
<path d="M2889.0 451.3L2905.8 479.9L2922.6 451.3Z" fill="#f00"/>
<path d="M2912.5 441.2L2929.3 469.8L2946.1 441.2Z" fill="#f00"/>
<path d="M2935.9 473.3L2952.7 501.9L2969.5 473.3Z" fill="#f00"/>
<path d="M2959.3 446.7L2976.1 475.3L2992.9 446.7Z" fill="#f00"/>
<path d="M2982.7 463.0L2999.5 491.6L3016.3 463.0Z" fill="#f00"/>
<path d="M3006.1 473.0L3022.9 501.6L3039.7 473.0Z" fill="#f00"/>
<path d="M3029.6 471.1L3046.4 499.7L3063.2 471.1Z" fill="#f00"/>
<path d="M3053.0 480.7L3069.8 509.3L3086.6 480.7Z" fill="#f00"/>
<path d="M3076.4 463.0L3093.2 491.6L3110.0 463.0Z" fill="#f00"/>
<path d="M3099.8 501.6L3116.6 530.2L3133.4 501.6Z" fill="#f00"/>
<path d="M3123.2 518.1L3140.0 546.7L3156.8 518.1Z" fill="#f00"/>
<path d="M3146.7 509.2L3163.5 537.8L3180.3 509.2Z" fill="#f00"/>
<path d="M3170.1 555.9L3186.9 584.5L3203.7 555.9Z" fill="#f00"/>
<path d="M3193.5 639.7L3210.3 668.3L3227.1 639.7Z" fill="#f00"/>
<path d="M3240.3 706.0L3257.1 734.6L3273.9 706.0Z" fill="#f00"/>
<path d="M3287.2 626.0L3304.0 654.6L3320.8 626.0Z" fill="#f00"/>
<path d="M3310.6 607.5L3327.4 636.1L3344.2 607.5Z" fill="#f00"/>
<path d="M3334.0 604.3L3350.8 632.9L3367.6 604.3Z" fill="#f00"/>
<path d="M3357.4 603.7L3374.2 632.3L3391.0 603.7Z" fill="#f00"/>
<path d="M3380.9 583.1L3397.7 611.7L3414.5 583.1Z" fill="#f00"/>
<path d="M3404.3 584.5L3421.1 613.1L3437.9 584.5Z" fill="#f00"/>
<path d="M3427.7 592.9L3444.5 621.5L3461.3 592.9Z" fill="#f00"/>
<path d="M3451.1 581.2L3467.9 609.8L3484.7 581.2Z" fill="#f00"/>
<path d="M3474.5 592.9L3491.3 621.5L3508.1 592.9Z" fill="#f00"/>
<path d="M3498.0 591.2L3514.8 619.8L3531.6 591.2Z" fill="#f00"/>
<path d="M3521.4 588.0L3538.2 616.6L3555.0 588.0Z" fill="#f00"/>
<path d="M3544.8 586.1L3561.6 614.7L3578.4 586.1Z" fill="#f00"/>
<path d="M3568.2 594.0L3585.0 622.6L3601.8 594.0Z" fill="#f00"/>
<path d="M3591.6 598.9L3608.4 627.5L3625.2 598.9Z" fill="#f00"/>
<path d="M3615.1 603.7L3631.9 632.3L3648.7 603.7Z" fill="#f00"/>
<path d="M452.7 865.0L470.2 835.0L487.7 865.0Z" fill="#f00"/><path d="M463.3 858.9L470.2 847.1L477.1 858.9Z" fill="#fff"/>
<path d="M476.1 665.0L493.6 635.0L511.1 665.0Z" fill="#f00"/><path d="M486.7 658.9L493.6 647.1L500.5 658.9Z" fill="#fff"/>
<path d="M499.5 646.0L517.0 616.0L534.5 646.0Z" fill="#f00"/><path d="M510.1 639.9L517.0 628.1L523.9 639.9Z" fill="#fff"/>
<path d="M991.3 763.0L1008.8 733.0L1026.3 763.0Z" fill="#f00"/><path d="M1001.9 756.9L1008.8 745.1L1015.7 756.9Z" fill="#fff"/>
<path d="M1014.7 756.0L1032.2 726.0L1049.7 756.0Z" fill="#f00"/><path d="M1025.3 749.9L1032.2 738.1L1039.1 749.9Z" fill="#fff"/>
<path d="M1038.2 761.0L1055.7 731.0L1073.2 761.0Z" fill="#f00"/><path d="M1048.8 754.9L1055.7 743.1L1062.6 754.9Z" fill="#fff"/>
<path d="M1061.6 753.8L1079.1 723.8L1096.6 753.8Z" fill="#f00"/><path d="M1072.2 747.7L1079.1 735.9L1086.0 747.7Z" fill="#fff"/>
<path d="M1085.0 757.3L1102.5 727.2L1120.0 757.3Z" fill="#f00"/><path d="M1095.6 751.2L1102.5 739.4L1109.4 751.2Z" fill="#fff"/>
<path d="M1225.5 846.0L1243.0 816.0L1260.5 846.0Z" fill="#f00"/><path d="M1236.1 839.9L1243.0 828.1L1249.9 839.9Z" fill="#fff"/>
<path d="M1248.9 862.2L1266.4 832.2L1283.9 862.2Z" fill="#f00"/><path d="M1259.5 856.1L1266.4 844.3L1273.3 856.1Z" fill="#fff"/>
<path d="M1272.4 892.0L1289.9 862.0L1307.4 892.0Z" fill="#f00"/><path d="M1283.0 885.9L1289.9 874.1L1296.8 885.9Z" fill="#fff"/>
<path d="M1295.8 860.8L1313.3 830.8L1330.8 860.8Z" fill="#f00"/><path d="M1306.4 854.7L1313.3 842.9L1320.2 854.7Z" fill="#fff"/>
<path d="M1412.9 885.3L1430.4 855.2L1447.9 885.3Z" fill="#f00"/><path d="M1423.5 879.2L1430.4 867.4L1437.3 879.2Z" fill="#fff"/>
<path d="M1436.3 860.8L1453.8 830.8L1471.3 860.8Z" fill="#f00"/><path d="M1446.9 854.7L1453.8 842.9L1460.7 854.7Z" fill="#fff"/>
<path d="M1459.7 862.2L1477.2 832.2L1494.7 862.2Z" fill="#f00"/><path d="M1470.3 856.1L1477.2 844.3L1484.1 856.1Z" fill="#fff"/>
<path d="M1530.0 912.4L1547.5 882.4L1565.0 912.4Z" fill="#f00"/><path d="M1540.6 906.3L1547.5 894.5L1554.4 906.3Z" fill="#fff"/>
<path d="M1576.8 839.0L1594.3 809.0L1611.8 839.0Z" fill="#f00"/><path d="M1587.4 832.9L1594.3 821.1L1601.2 832.9Z" fill="#fff"/>
<path d="M1693.9 826.8L1711.4 796.8L1728.9 826.8Z" fill="#f00"/><path d="M1704.5 820.7L1711.4 808.9L1718.3 820.7Z" fill="#fff"/>
<path d="M1717.3 826.8L1734.8 796.8L1752.3 826.8Z" fill="#f00"/><path d="M1727.9 820.7L1734.8 808.9L1741.7 820.7Z" fill="#fff"/>
<path d="M2256.0 952.4L2273.5 922.4L2291.0 952.4Z" fill="#f00"/><path d="M2266.6 946.3L2273.5 934.5L2280.4 946.3Z" fill="#fff"/>
<path d="M2279.4 859.5L2296.9 829.5L2314.4 859.5Z" fill="#f00"/><path d="M2290.0 853.4L2296.9 841.6L2303.8 853.4Z" fill="#fff"/>
<path d="M2302.8 859.5L2320.3 829.5L2337.8 859.5Z" fill="#f00"/><path d="M2313.4 853.4L2320.3 841.6L2327.2 853.4Z" fill="#fff"/>
<path d="M2326.3 859.5L2343.8 829.5L2361.3 859.5Z" fill="#f00"/><path d="M2336.9 853.4L2343.8 841.6L2350.7 853.4Z" fill="#fff"/>
<path d="M2349.7 861.4L2367.2 831.4L2384.7 861.4Z" fill="#f00"/><path d="M2360.3 855.3L2367.2 843.5L2374.1 855.3Z" fill="#fff"/>
<path d="M2373.1 861.4L2390.6 831.4L2408.1 861.4Z" fill="#f00"/><path d="M2383.7 855.3L2390.6 843.5L2397.5 855.3Z" fill="#fff"/>
<path d="M2630.7 862.2L2648.2 832.2L2665.7 862.2Z" fill="#f00"/><path d="M2641.3 856.1L2648.2 844.3L2655.1 856.1Z" fill="#fff"/>
<path d="M2654.1 877.8L2671.6 847.7L2689.1 877.8Z" fill="#f00"/><path d="M2664.7 871.6L2671.6 859.8L2678.5 871.6Z" fill="#fff"/>
<path d="M2677.6 877.8L2695.1 847.7L2712.6 877.8Z" fill="#f00"/><path d="M2688.2 871.6L2695.1 859.8L2702.0 871.6Z" fill="#fff"/>
<path d="M2701.0 879.0L2718.5 849.0L2736.0 879.0Z" fill="#f00"/><path d="M2711.6 872.9L2718.5 861.1L2725.4 872.9Z" fill="#fff"/>
<path d="M2724.4 880.4L2741.9 850.4L2759.4 880.4Z" fill="#f00"/><path d="M2735.0 874.3L2741.9 862.5L2748.8 874.3Z" fill="#fff"/>
<path d="M2747.8 884.5L2765.3 854.5L2782.8 884.5Z" fill="#f00"/><path d="M2758.4 878.4L2765.3 866.6L2772.2 878.4Z" fill="#fff"/>
<path d="M2771.2 886.6L2788.7 856.6L2806.2 886.6Z" fill="#f00"/><path d="M2781.8 880.5L2788.7 868.7L2795.6 880.5Z" fill="#fff"/>
<path d="M2794.7 880.4L2812.2 850.4L2829.7 880.4Z" fill="#f00"/><path d="M2805.3 874.3L2812.2 862.5L2819.1 874.3Z" fill="#fff"/>
<path d="M2818.1 879.0L2835.6 849.0L2853.1 879.0Z" fill="#f00"/><path d="M2828.7 872.9L2835.6 861.1L2842.5 872.9Z" fill="#fff"/>
<path d="M2841.5 871.4L2859.0 841.4L2876.5 871.4Z" fill="#f00"/><path d="M2852.1 865.3L2859.0 853.5L2865.9 865.3Z" fill="#fff"/>
<path d="M2864.9 864.0L2882.4 834.0L2899.9 864.0Z" fill="#f00"/><path d="M2875.5 857.9L2882.4 846.1L2889.3 857.9Z" fill="#fff"/>
<path d="M2888.3 866.8L2905.8 836.8L2923.3 866.8Z" fill="#f00"/><path d="M2898.9 860.7L2905.8 848.9L2912.7 860.7Z" fill="#fff"/>
<path d="M2911.8 856.0L2929.3 826.0L2946.8 856.0Z" fill="#f00"/><path d="M2922.4 849.9L2929.3 838.1L2936.2 849.9Z" fill="#fff"/>
<path d="M2935.2 854.6L2952.7 824.6L2970.2 854.6Z" fill="#f00"/><path d="M2945.8 848.5L2952.7 836.7L2959.6 848.5Z" fill="#fff"/>
<path d="M2958.6 857.8L2976.1 827.8L2993.6 857.8Z" fill="#f00"/><path d="M2969.2 851.7L2976.1 839.9L2983.0 851.7Z" fill="#fff"/>
<path d="M3309.9 847.0L3327.4 817.0L3344.9 847.0Z" fill="#f00"/><path d="M3320.5 840.9L3327.4 829.1L3334.3 840.9Z" fill="#fff"/>
<path d="M452.7 816.4L470.2 846.4L487.7 816.4Z" fill="#f00"/><path d="M463.3 822.5L470.2 834.3L477.1 822.5Z" fill="#fff"/>
<path d="M499.5 558.2L517.0 588.2L534.5 558.2Z" fill="#f00"/><path d="M510.1 564.3L517.0 576.1L523.9 564.3Z" fill="#fff"/>
<path d="M991.3 573.2L1008.8 603.3L1026.3 573.2Z" fill="#f00"/><path d="M1001.9 579.4L1008.8 591.2L1015.7 579.4Z" fill="#fff"/>
<path d="M1014.7 578.2L1032.2 608.3L1049.7 578.2Z" fill="#f00"/><path d="M1025.3 584.4L1032.2 596.2L1039.1 584.4Z" fill="#fff"/>
<path d="M1038.2 608.5L1055.7 638.5L1073.2 608.5Z" fill="#f00"/><path d="M1048.8 614.6L1055.7 626.4L1062.6 614.6Z" fill="#fff"/>
<path d="M1061.6 608.5L1079.1 638.5L1096.6 608.5Z" fill="#f00"/><path d="M1072.2 614.6L1079.1 626.4L1086.0 614.6Z" fill="#fff"/>
<path d="M1085.0 613.2L1102.5 643.2L1120.0 613.2Z" fill="#f00"/><path d="M1095.6 619.3L1102.5 631.1L1109.4 619.3Z" fill="#fff"/>
<path d="M1225.5 800.4L1243.0 830.4L1260.5 800.4Z" fill="#f00"/><path d="M1236.1 806.5L1243.0 818.3L1249.9 806.5Z" fill="#fff"/>
<path d="M1248.9 793.6L1266.4 823.6L1283.9 793.6Z" fill="#f00"/><path d="M1259.5 799.7L1266.4 811.5L1273.3 799.7Z" fill="#fff"/>
<path d="M1272.4 800.4L1289.9 830.4L1307.4 800.4Z" fill="#f00"/><path d="M1283.0 806.5L1289.9 818.3L1296.8 806.5Z" fill="#fff"/>
<path d="M1295.8 804.0L1313.3 834.0L1330.8 804.0Z" fill="#f00"/><path d="M1306.4 810.1L1313.3 821.9L1320.2 810.1Z" fill="#fff"/>
<path d="M1412.9 848.2L1430.4 878.2L1447.9 848.2Z" fill="#f00"/><path d="M1423.5 854.3L1430.4 866.1L1437.3 854.3Z" fill="#fff"/>
<path d="M1436.3 814.5L1453.8 844.5L1471.3 814.5Z" fill="#f00"/><path d="M1446.9 820.6L1453.8 832.4L1460.7 820.6Z" fill="#fff"/>
<path d="M1459.7 805.8L1477.2 835.8L1494.7 805.8Z" fill="#f00"/><path d="M1470.3 811.9L1477.2 823.7L1484.1 811.9Z" fill="#fff"/>
<path d="M1530.0 871.2L1547.5 901.3L1565.0 871.2Z" fill="#f00"/><path d="M1540.6 877.4L1547.5 889.2L1554.4 877.4Z" fill="#fff"/>
<path d="M1576.8 798.5L1594.3 828.5L1611.8 798.5Z" fill="#f00"/><path d="M1587.4 804.6L1594.3 816.4L1601.2 804.6Z" fill="#fff"/>
<path d="M1693.9 781.4L1711.4 811.4L1728.9 781.4Z" fill="#f00"/><path d="M1704.5 787.5L1711.4 799.3L1718.3 787.5Z" fill="#fff"/>
<path d="M1717.3 786.5L1734.8 816.5L1752.3 786.5Z" fill="#f00"/><path d="M1727.9 792.6L1734.8 804.4L1741.7 792.6Z" fill="#fff"/>
<path d="M2256.0 908.5L2273.5 938.5L2291.0 908.5Z" fill="#f00"/><path d="M2266.6 914.6L2273.5 926.4L2280.4 914.6Z" fill="#fff"/>
<path d="M2279.4 801.5L2296.9 831.5L2314.4 801.5Z" fill="#f00"/><path d="M2290.0 807.6L2296.9 819.4L2303.8 807.6Z" fill="#fff"/>
<path d="M2302.8 801.5L2320.3 831.5L2337.8 801.5Z" fill="#f00"/><path d="M2313.4 807.6L2320.3 819.4L2327.2 807.6Z" fill="#fff"/>
<path d="M2326.3 802.5L2343.8 832.5L2361.3 802.5Z" fill="#f00"/><path d="M2336.9 808.6L2343.8 820.4L2350.7 808.6Z" fill="#fff"/>
<path d="M2349.7 805.2L2367.2 835.3L2384.7 805.2Z" fill="#f00"/><path d="M2360.3 811.4L2367.2 823.2L2374.1 811.4Z" fill="#fff"/>
<path d="M2373.1 811.5L2390.6 841.5L2408.1 811.5Z" fill="#f00"/><path d="M2383.7 817.6L2390.6 829.4L2397.5 817.6Z" fill="#fff"/>
<path d="M2630.7 807.2L2648.2 837.2L2665.7 807.2Z" fill="#f00"/><path d="M2641.3 813.3L2648.2 825.1L2655.1 813.3Z" fill="#fff"/>
<path d="M2654.1 807.2L2671.6 837.2L2689.1 807.2Z" fill="#f00"/><path d="M2664.7 813.3L2671.6 825.1L2678.5 813.3Z" fill="#fff"/>
<path d="M2677.6 806.6L2695.1 836.6L2712.6 806.6Z" fill="#f00"/><path d="M2688.2 812.7L2695.1 824.5L2702.0 812.7Z" fill="#fff"/>
<path d="M2701.0 805.2L2718.5 835.3L2736.0 805.2Z" fill="#f00"/><path d="M2711.6 811.4L2718.5 823.2L2725.4 811.4Z" fill="#fff"/>
<path d="M2724.4 804.0L2741.9 834.0L2759.4 804.0Z" fill="#f00"/><path d="M2735.0 810.1L2741.9 821.9L2748.8 810.1Z" fill="#fff"/>
<path d="M2747.8 797.0L2765.3 827.0L2782.8 797.0Z" fill="#f00"/><path d="M2758.4 803.1L2765.3 814.9L2772.2 803.1Z" fill="#fff"/>
<path d="M2771.2 800.7L2788.7 830.8L2806.2 800.7Z" fill="#f00"/><path d="M2781.8 806.8L2788.7 818.6L2795.6 806.8Z" fill="#fff"/>
<path d="M2794.7 800.7L2812.2 830.8L2829.7 800.7Z" fill="#f00"/><path d="M2805.3 806.8L2812.2 818.6L2819.1 806.8Z" fill="#fff"/>
<path d="M2818.1 800.7L2835.6 830.8L2853.1 800.7Z" fill="#f00"/><path d="M2828.7 806.8L2835.6 818.6L2842.5 806.8Z" fill="#fff"/>
<path d="M2841.5 804.0L2859.0 834.0L2876.5 804.0Z" fill="#f00"/><path d="M2852.1 810.1L2859.0 821.9L2865.9 810.1Z" fill="#fff"/>
<path d="M2864.9 806.0L2882.4 836.0L2899.9 806.0Z" fill="#f00"/><path d="M2875.5 812.1L2882.4 823.9L2889.3 812.1Z" fill="#fff"/>
<path d="M2888.3 806.0L2905.8 836.0L2923.3 806.0Z" fill="#f00"/><path d="M2898.9 812.1L2905.8 823.9L2912.7 812.1Z" fill="#fff"/>
<path d="M2911.8 806.6L2929.3 836.6L2946.8 806.6Z" fill="#f00"/><path d="M2922.4 812.7L2929.3 824.5L2936.2 812.7Z" fill="#fff"/>
<path d="M2935.2 809.2L2952.7 839.3L2970.2 809.2Z" fill="#f00"/><path d="M2945.8 815.4L2952.7 827.2L2959.6 815.4Z" fill="#fff"/>
<path d="M2958.6 811.5L2976.1 841.5L2993.6 811.5Z" fill="#f00"/><path d="M2969.2 817.6L2976.1 829.4L2983.0 817.6Z" fill="#fff"/>
<path d="M3309.9 811.2L3327.4 841.3L3344.9 811.2Z" fill="#f00"/><path d="M3320.5 817.4L3327.4 829.2L3334.3 817.4Z" fill="#fff"/>
<circle cx="1922.2" cy="782.5" r="16.8" fill="#32cd32"/>
<circle cx="1945.6" cy="785.8" r="16.8" fill="#32cd32"/>
<circle cx="1969.0" cy="788.0" r="16.8" fill="#32cd32"/>
<circle cx="1992.5" cy="785.2" r="16.8" fill="#32cd32"/>
<circle cx="2015.9" cy="806.0" r="16.8" fill="#32cd32"/>
<circle cx="2039.3" cy="796.0" r="16.8" fill="#32cd32"/>
<circle cx="2062.7" cy="706.4" r="16.8" fill="#32cd32"/>
<circle cx="2250.1" cy="659.5" r="16.8" fill="#32cd32"/>
<circle cx="3280.6" cy="817.8" r="16.8" fill="#32cd32"/>
<circle cx="3304.0" cy="799.3" r="16.8" fill="#32cd32"/>
<circle cx="3327.4" cy="628.4" r="16.8" fill="#32cd32"/>
<circle cx="306.2" cy="422.9" r="16.8" fill="#0000ff"/>
<circle cx="329.6" cy="448.5" r="16.8" fill="#0000ff"/>
<circle cx="353.1" cy="454.2" r="16.8" fill="#0000ff"/>
<circle cx="376.5" cy="487.0" r="16.8" fill="#0000ff"/>
<circle cx="399.9" cy="501.7" r="16.8" fill="#0000ff"/>
<circle cx="423.3" cy="499.8" r="16.8" fill="#0000ff"/>
<circle cx="446.7" cy="502.6" r="16.8" fill="#0000ff"/>
<circle cx="470.2" cy="506.6" r="16.8" fill="#0000ff"/>
<circle cx="493.6" cy="519.4" r="16.8" fill="#0000ff"/>
<circle cx="517.0" cy="518.9" r="16.8" fill="#0000ff"/>
<circle cx="540.4" cy="521.0" r="16.8" fill="#0000ff"/>
<circle cx="563.8" cy="675.5" r="16.8" fill="#0000ff"/>
<circle cx="587.3" cy="525.7" r="16.8" fill="#0000ff"/>
<circle cx="610.7" cy="524.6" r="16.8" fill="#0000ff"/>
<circle cx="634.1" cy="514.8" r="16.8" fill="#0000ff"/>
<circle cx="657.5" cy="511.5" r="16.8" fill="#0000ff"/>
<circle cx="680.9" cy="537.9" r="16.8" fill="#0000ff"/>
<circle cx="751.2" cy="498.5" r="16.8" fill="#0000ff"/>
<circle cx="774.6" cy="487.0" r="16.8" fill="#0000ff"/>
<circle cx="798.0" cy="482.2" r="16.8" fill="#0000ff"/>
<circle cx="821.5" cy="463.2" r="16.8" fill="#0000ff"/>
<circle cx="844.9" cy="456.4" r="16.8" fill="#0000ff"/>
<circle cx="868.3" cy="490.3" r="16.8" fill="#0000ff"/>
<circle cx="891.7" cy="403.4" r="16.8" fill="#0000ff"/>
<circle cx="915.1" cy="432.0" r="16.8" fill="#0000ff"/>
<circle cx="938.6" cy="551.5" r="16.8" fill="#0000ff"/>
<circle cx="962.0" cy="562.7" r="16.8" fill="#0000ff"/>
<circle cx="1055.7" cy="698.6" r="16.8" fill="#0000ff"/>
<circle cx="1079.1" cy="558.2" r="16.8" fill="#0000ff"/>
<circle cx="1102.5" cy="549.9" r="16.8" fill="#0000ff"/>
<circle cx="1172.8" cy="708.3" r="16.8" fill="#0000ff"/>
<circle cx="1196.2" cy="590.0" r="16.8" fill="#0000ff"/>
<circle cx="1219.6" cy="531.9" r="16.8" fill="#0000ff"/>
<circle cx="1243.0" cy="537.9" r="16.8" fill="#0000ff"/>
<circle cx="1266.4" cy="656.7" r="16.8" fill="#0000ff"/>
<circle cx="1289.9" cy="527.8" r="16.8" fill="#0000ff"/>
<circle cx="1313.3" cy="501.2" r="16.8" fill="#0000ff"/>
<circle cx="1336.7" cy="506.6" r="16.8" fill="#0000ff"/>
<circle cx="1360.1" cy="512.9" r="16.8" fill="#0000ff"/>
<circle cx="1383.5" cy="652.6" r="16.8" fill="#0000ff"/>
<circle cx="1407.0" cy="530.5" r="16.8" fill="#0000ff"/>
<circle cx="1430.4" cy="558.8" r="16.8" fill="#0000ff"/>
<circle cx="1453.8" cy="576.7" r="16.8" fill="#0000ff"/>
<circle cx="1477.2" cy="559.6" r="16.8" fill="#0000ff"/>
<circle cx="1594.3" cy="685.2" r="16.8" fill="#0000ff"/>
<circle cx="1641.2" cy="636.0" r="16.8" fill="#0000ff"/>
<circle cx="1664.6" cy="632.0" r="16.8" fill="#0000ff"/>
<circle cx="1688.0" cy="639.4" r="16.8" fill="#0000ff"/>
<circle cx="1711.4" cy="653.2" r="16.8" fill="#0000ff"/>
<circle cx="1734.8" cy="615.3" r="16.8" fill="#0000ff"/>
<circle cx="1758.3" cy="764.0" r="16.8" fill="#0000ff"/>
<circle cx="1781.7" cy="607.7" r="16.8" fill="#0000ff"/>
<circle cx="1828.5" cy="627.3" r="16.8" fill="#0000ff"/>
<circle cx="1851.9" cy="678.4" r="16.8" fill="#0000ff"/>
<circle cx="1875.4" cy="688.0" r="16.8" fill="#0000ff"/>
<circle cx="1898.8" cy="783.9" r="16.8" fill="#0000ff"/>
<circle cx="2086.1" cy="719.7" r="16.8" fill="#0000ff"/>
<circle cx="2109.6" cy="676.5" r="16.8" fill="#0000ff"/>
<circle cx="2133.0" cy="760.8" r="16.8" fill="#0000ff"/>
<circle cx="2296.9" cy="647.0" r="16.8" fill="#0000ff"/>
<circle cx="2320.3" cy="740.4" r="16.8" fill="#0000ff"/>
<circle cx="2367.2" cy="683.0" r="16.8" fill="#0000ff"/>
<circle cx="2390.6" cy="567.2" r="16.8" fill="#0000ff"/>
<circle cx="2414.0" cy="550.7" r="16.8" fill="#0000ff"/>
<circle cx="2437.4" cy="548.8" r="16.8" fill="#0000ff"/>
<circle cx="2460.9" cy="554.7" r="16.8" fill="#0000ff"/>
<circle cx="2484.3" cy="518.9" r="16.8" fill="#0000ff"/>
<circle cx="2507.7" cy="498.5" r="16.8" fill="#0000ff"/>
<circle cx="2531.1" cy="511.5" r="16.8" fill="#0000ff"/>
<circle cx="2554.5" cy="531.1" r="16.8" fill="#0000ff"/>
<circle cx="2578.0" cy="555.5" r="16.8" fill="#0000ff"/>
<circle cx="2601.4" cy="653.4" r="16.8" fill="#0000ff"/>
<circle cx="2741.9" cy="533.8" r="16.8" fill="#0000ff"/>
<circle cx="2765.3" cy="497.9" r="16.8" fill="#0000ff"/>
<circle cx="2788.7" cy="548.2" r="16.8" fill="#0000ff"/>
<circle cx="2812.2" cy="503.9" r="16.8" fill="#0000ff"/>
<circle cx="2835.6" cy="524.3" r="16.8" fill="#0000ff"/>
<circle cx="2859.0" cy="552.8" r="16.8" fill="#0000ff"/>
<circle cx="2882.4" cy="531.6" r="16.8" fill="#0000ff"/>
<circle cx="2905.8" cy="545.2" r="16.8" fill="#0000ff"/>
<circle cx="2929.3" cy="510.7" r="16.8" fill="#0000ff"/>
<circle cx="2952.7" cy="517.0" r="16.8" fill="#0000ff"/>
<circle cx="2999.5" cy="631.8" r="16.8" fill="#0000ff"/>
<circle cx="3022.9" cy="592.2" r="16.8" fill="#0000ff"/>
<circle cx="3046.4" cy="605.0" r="16.8" fill="#0000ff"/>
<circle cx="3069.8" cy="654.0" r="16.8" fill="#0000ff"/>
<circle cx="3093.2" cy="521.0" r="16.8" fill="#0000ff"/>
<circle cx="3116.6" cy="473.5" r="16.8" fill="#0000ff"/>
<circle cx="3140.0" cy="514.0" r="16.8" fill="#0000ff"/>
<circle cx="3163.5" cy="595.0" r="16.8" fill="#0000ff"/>
<circle cx="3186.9" cy="611.8" r="16.8" fill="#0000ff"/>
<circle cx="3210.3" cy="689.3" r="16.8" fill="#0000ff"/>
<circle cx="3257.1" cy="845.5" r="16.8" fill="#0000ff"/>
<circle cx="3350.8" cy="621.6" r="16.8" fill="#0000ff"/>
<circle cx="3374.2" cy="642.0" r="16.8" fill="#0000ff"/>
<circle cx="3444.5" cy="654.5" r="16.8" fill="#0000ff"/>
<circle cx="3467.9" cy="706.0" r="16.8" fill="#0000ff"/>
<circle cx="3561.6" cy="527.0" r="16.8" fill="#0000ff"/>
<circle cx="3585.0" cy="480.8" r="16.8" fill="#0000ff"/>
<circle cx="3608.4" cy="514.8" r="16.8" fill="#0000ff"/>
<circle cx="3631.9" cy="457.2" r="16.8" fill="#0000ff"/>
<circle cx="704.4" cy="518.6" r="16.8" fill="#808080"/>
<circle cx="727.8" cy="632.4" r="16.8" fill="#808080"/>
<circle cx="985.4" cy="529.4" r="16.8" fill="#808080"/>
<circle cx="1008.8" cy="515.0" r="16.8" fill="#808080"/>
<circle cx="1032.2" cy="627.2" r="16.8" fill="#808080"/>
<circle cx="1149.3" cy="591.9" r="16.8" fill="#808080"/>
<circle cx="1500.6" cy="537.9" r="16.8" fill="#808080"/>
<circle cx="1524.1" cy="527.8" r="16.8" fill="#808080"/>
<circle cx="1547.5" cy="555.0" r="16.8" fill="#808080"/>
<circle cx="1570.9" cy="559.6" r="16.8" fill="#808080"/>
<circle cx="1617.7" cy="601.7" r="16.8" fill="#808080"/>
<circle cx="1805.1" cy="754.5" r="16.8" fill="#808080"/>
<circle cx="2156.4" cy="758.6" r="16.8" fill="#808080"/>
<circle cx="2179.8" cy="747.7" r="16.8" fill="#808080"/>
<circle cx="2203.2" cy="747.0" r="16.8" fill="#808080"/>
<circle cx="2226.7" cy="766.7" r="16.8" fill="#808080"/>
<circle cx="2273.5" cy="777.0" r="16.8" fill="#808080"/>
<circle cx="2343.8" cy="696.6" r="16.8" fill="#808080"/>
<circle cx="2624.8" cy="658.8" r="16.8" fill="#808080"/>
<circle cx="2648.2" cy="634.9" r="16.8" fill="#808080"/>
<circle cx="2671.6" cy="644.7" r="16.8" fill="#808080"/>
<circle cx="2695.1" cy="563.7" r="16.8" fill="#808080"/>
<circle cx="2718.5" cy="535.2" r="16.8" fill="#808080"/>
<circle cx="2976.1" cy="531.4" r="16.8" fill="#808080"/>
<circle cx="3397.7" cy="665.7" r="16.8" fill="#808080"/>
<circle cx="3421.1" cy="692.0" r="16.8" fill="#808080"/>
<circle cx="3491.3" cy="646.0" r="16.8" fill="#808080"/>
<circle cx="3514.8" cy="739.0" r="16.8" fill="#808080"/>
<circle cx="3538.2" cy="582.7" r="16.8" fill="#808080"/>
</g>
</g>
<g id="contours" fill="none" stroke="#000" stroke-width="4.2" clip-path="url(#axclip)">
<path d="M266.0 497.1L950.0 499.8L1562.0 499.3"/>
<path d="M1667.0 499.8L2310.0 503.1L2616.0 506.0L2990.0 509.7L3100.0 508.5L3269.0 503.9L3405.0 500.4L3637.0 497.9"/>
<path d="M266.0 641.1L600.0 641.5L950.0 639.8L1147.0 636.8L1562.0 636.3"/>
<path d="M1667.0 633.8L2310.0 636.5L2990.0 637.9L3637.0 640.6"/>
<path d="M266.0 837.4L340.0 841.0L413.0 845.5L562.0 846.0L685.0 845.5L760.0 840.0L829.0 834.7L950.0 836.6L1242.0 835.5L1338.0 837.4L1562.0 841.5"/>
<path d="M1667.0 839.6L1963.0 836.0L2099.0 837.4L2310.0 842.8L2990.0 845.5L3209.0 846.0L3378.0 848.3L3486.0 850.4L3560.0 849.0L3637.0 847.0"/>
<path d="M266.0 902.6L546.0 895.8L950.0 887.7L1283.0 887.7L1562.0 891.7"/>
<path d="M1667.0 893.1L1882.0 897.2L2099.0 901.3L2310.0 898.5L2515.0 896.6L2990.0 897.2L3133.0 898.5L3350.0 895.8L3513.0 896.6L3637.0 892.6"/>
</g>
<g id="clabels" fill="#000">
<text transform="translate(1566.20,520.8) scale(1.0000,1)" font-family="'Liberation Sans',Arial,sans-serif" font-size="58.33">230</text>
<text transform="translate(1566.20,656.6) scale(1.0000,1)" font-family="'Liberation Sans',Arial,sans-serif" font-size="58.33">250</text>
<text transform="translate(1566.20,859.6) scale(1.0000,1)" font-family="'Liberation Sans',Arial,sans-serif" font-size="58.33">273</text>
<text transform="translate(1566.20,912.2) scale(1.0000,1)" font-family="'Liberation Sans',Arial,sans-serif" font-size="58.33">279</text>
</g>
<g id="axes" stroke="#000" fill="none" stroke-width="5.9">
<path d="M266.15 109.05V959.75"/>
<path d="M263.20 956.8H3639.55"/>
<path d="M266.15 112.0H347.2"/>
<path d="M266.15 217.6H347.2"/>
<path d="M266.15 323.2H347.2"/>
<path d="M266.15 428.8H347.2"/>
<path d="M266.15 534.4H347.2"/>
<path d="M266.15 640.0H347.2"/>
<path d="M266.15 745.6H347.2"/>
<path d="M266.15 851.2H347.2"/>
<path d="M336.4 956.8V923.7"/>
<path d="M406.6 956.8V923.7"/>
<path d="M476.8 956.8V923.7"/>
<path d="M547.0 956.8V894.2"/>
<path d="M617.2 956.8V923.7"/>
<path d="M687.5 956.8V923.7"/>
<path d="M757.7 956.8V923.7"/>
<path d="M827.9 956.8V894.2"/>
<path d="M898.1 956.8V923.7"/>
<path d="M968.3 956.8V923.7"/>
<path d="M1038.5 956.8V923.7"/>
<path d="M1108.8 956.8V894.2"/>
<path d="M1179.0 956.8V923.7"/>
<path d="M1249.2 956.8V923.7"/>
<path d="M1319.4 956.8V923.7"/>
<path d="M1389.6 956.8V894.2"/>
<path d="M1459.9 956.8V923.7"/>
<path d="M1530.1 956.8V923.7"/>
<path d="M1600.3 956.8V923.7"/>
<path d="M1670.5 956.8V894.2"/>
<path d="M1740.7 956.8V923.7"/>
<path d="M1810.9 956.8V923.7"/>
<path d="M1881.2 956.8V923.7"/>
<path d="M1951.4 956.8V894.2"/>
<path d="M2021.6 956.8V923.7"/>
<path d="M2091.8 956.8V923.7"/>
<path d="M2162.0 956.8V923.7"/>
<path d="M2232.2 956.8V894.2"/>
<path d="M2302.5 956.8V923.7"/>
<path d="M2372.7 956.8V923.7"/>
<path d="M2442.9 956.8V923.7"/>
<path d="M2513.1 956.8V894.2"/>
<path d="M2583.3 956.8V923.7"/>
<path d="M2653.6 956.8V923.7"/>
<path d="M2723.8 956.8V923.7"/>
<path d="M2794.0 956.8V894.2"/>
<path d="M2864.2 956.8V923.7"/>
<path d="M2934.4 956.8V923.7"/>
<path d="M3004.6 956.8V923.7"/>
<path d="M3074.9 956.8V894.2"/>
<path d="M3145.1 956.8V923.7"/>
<path d="M3215.3 956.8V923.7"/>
<path d="M3285.5 956.8V923.7"/>
<path d="M3355.7 956.8V894.2"/>
<path d="M3425.9 956.8V923.7"/>
<path d="M3496.2 956.8V923.7"/>
<path d="M3566.4 956.8V923.7"/>
<path d="M3636.6 956.8V894.2"/>
</g>
<g id="ticklabels" fill="#000">
<text transform="translate(233.00,136.9) scale(1.0117,1)" font-family="'DejaVu Sans','Liberation Sans',sans-serif" font-size="66.67" text-anchor="end">16.0</text>
<text transform="translate(233.00,242.5) scale(1.0117,1)" font-family="'DejaVu Sans','Liberation Sans',sans-serif" font-size="66.67" text-anchor="end">14.1</text>
<text transform="translate(233.00,348.1) scale(1.0117,1)" font-family="'DejaVu Sans','Liberation Sans',sans-serif" font-size="66.67" text-anchor="end">12.1</text>
<text transform="translate(233.00,453.7) scale(1.0117,1)" font-family="'DejaVu Sans','Liberation Sans',sans-serif" font-size="66.67" text-anchor="end">10.1</text>
<text transform="translate(233.00,559.3) scale(1.0117,1)" font-family="'DejaVu Sans','Liberation Sans',sans-serif" font-size="66.67" text-anchor="end">8.17</text>
<text transform="translate(233.00,664.9) scale(1.0117,1)" font-family="'DejaVu Sans','Liberation Sans',sans-serif" font-size="66.67" text-anchor="end">6.19</text>
<text transform="translate(233.00,770.5) scale(1.0117,1)" font-family="'DejaVu Sans','Liberation Sans',sans-serif" font-size="66.67" text-anchor="end">4.21</text>
<text transform="translate(233.00,876.1) scale(1.0117,1)" font-family="'DejaVu Sans','Liberation Sans',sans-serif" font-size="66.67" text-anchor="end">2.23</text>
<text transform="translate(233.00,981.7) scale(1.0117,1)" font-family="'DejaVu Sans','Liberation Sans',sans-serif" font-size="66.67" text-anchor="end">0.25</text>
<text transform="translate(266.55,1036.2) scale(1.0120,1)" font-family="'DejaVu Sans','Liberation Sans',sans-serif" font-size="75" text-anchor="middle">0</text>
<text transform="translate(547.42,1036.2) scale(1.0120,1)" font-family="'DejaVu Sans','Liberation Sans',sans-serif" font-size="75" text-anchor="middle">2</text>
<text transform="translate(828.29,1036.2) scale(1.0120,1)" font-family="'DejaVu Sans','Liberation Sans',sans-serif" font-size="75" text-anchor="middle">4</text>
<text transform="translate(1109.16,1036.2) scale(1.0120,1)" font-family="'DejaVu Sans','Liberation Sans',sans-serif" font-size="75" text-anchor="middle">6</text>
<text transform="translate(1390.03,1036.2) scale(1.0120,1)" font-family="'DejaVu Sans','Liberation Sans',sans-serif" font-size="75" text-anchor="middle">8</text>
<text transform="translate(1670.90,1036.2) scale(1.0120,1)" font-family="'DejaVu Sans','Liberation Sans',sans-serif" font-size="75" text-anchor="middle">10</text>
<text transform="translate(1951.78,1036.2) scale(1.0120,1)" font-family="'DejaVu Sans','Liberation Sans',sans-serif" font-size="75" text-anchor="middle">12</text>
<text transform="translate(2232.65,1036.2) scale(1.0120,1)" font-family="'DejaVu Sans','Liberation Sans',sans-serif" font-size="75" text-anchor="middle">14</text>
<text transform="translate(2513.52,1036.2) scale(1.0120,1)" font-family="'DejaVu Sans','Liberation Sans',sans-serif" font-size="75" text-anchor="middle">16</text>
<text transform="translate(2794.39,1036.2) scale(1.0120,1)" font-family="'DejaVu Sans','Liberation Sans',sans-serif" font-size="75" text-anchor="middle">18</text>
<text transform="translate(3075.26,1036.2) scale(1.0120,1)" font-family="'DejaVu Sans','Liberation Sans',sans-serif" font-size="75" text-anchor="middle">20</text>
<text transform="translate(3356.13,1036.2) scale(1.0120,1)" font-family="'DejaVu Sans','Liberation Sans',sans-serif" font-size="75" text-anchor="middle">22</text>
<text transform="translate(3637.00,1036.2) scale(1.0120,1)" font-family="'DejaVu Sans','Liberation Sans',sans-serif" font-size="75" text-anchor="middle">24</text>
<text transform="translate(1741.61,1115.9) scale(1.0154,1)" font-family="'DejaVu Sans','Liberation Sans',sans-serif" font-size="75">Time (UTC)</text>
<text transform="translate(36.2,534.0) rotate(-90) scale(1.004,1)" font-family="'DejaVu Sans','Liberation Sans',sans-serif" font-size="66.67" text-anchor="middle">Height AMSL (km)</text>
<text transform="translate(1419.95,76.9) scale(1.0061,1)" font-family="'Liberation Sans',Arial,sans-serif" font-size="100">Lindenberg: 2025/10/22</text>
</g>
<defs><linearGradient id="cb" x1="0" x2="1" y1="0" y2="0">
<stop offset="0.0000" stop-color="#ffffff"/>
<stop offset="0.3333" stop-color="#ffb6c1"/>
<stop offset="0.6667" stop-color="#00ffff"/>
<stop offset="1.0000" stop-color="#d3d3d3"/>
</linearGradient></defs>
<rect x="266.15" y="1144.0" width="3370.45" height="55.90000000000009" fill="url(#cb)"/>
<g id="cbaxis" stroke="#000" fill="none" stroke-width="5.9">
<path d="M263.20 1199.9H3639.55"/>
<path d="M266.1 1199.9V1182.8000000000002"/>
<path d="M378.5 1199.9V1189.8000000000002"/>
<path d="M490.8 1199.9V1189.8000000000002"/>
<path d="M603.2 1199.9V1189.8000000000002"/>
<path d="M715.5 1199.9V1189.8000000000002"/>
<path d="M827.9 1199.9V1189.8000000000002"/>
<path d="M940.2 1199.9V1189.8000000000002"/>
<path d="M1052.6 1199.9V1189.8000000000002"/>
<path d="M1164.9 1199.9V1189.8000000000002"/>
<path d="M1277.3 1199.9V1189.8000000000002"/>
<path d="M1389.6 1199.9V1182.8000000000002"/>
<path d="M1502.0 1199.9V1189.8000000000002"/>
<path d="M1614.3 1199.9V1189.8000000000002"/>
<path d="M1726.7 1199.9V1189.8000000000002"/>
<path d="M1839.0 1199.9V1189.8000000000002"/>
<path d="M1951.4 1199.9V1189.8000000000002"/>
<path d="M2063.7 1199.9V1189.8000000000002"/>
<path d="M2176.1 1199.9V1189.8000000000002"/>
<path d="M2288.4 1199.9V1189.8000000000002"/>
<path d="M2400.8 1199.9V1189.8000000000002"/>
<path d="M2513.1 1199.9V1182.8000000000002"/>
<path d="M2625.5 1199.9V1189.8000000000002"/>
<path d="M2737.8 1199.9V1189.8000000000002"/>
<path d="M2850.2 1199.9V1189.8000000000002"/>
<path d="M2962.5 1199.9V1189.8000000000002"/>
<path d="M3074.9 1199.9V1189.8000000000002"/>
<path d="M3187.2 1199.9V1189.8000000000002"/>
<path d="M3299.6 1199.9V1189.8000000000002"/>
<path d="M3411.9 1199.9V1189.8000000000002"/>
<path d="M3524.3 1199.9V1189.8000000000002"/>
<path d="M3636.6 1199.9V1182.8000000000002"/>
</g>
<g id="cblabels" fill="#000">
<text transform="translate(179.16,1263.5) scale(1.0121,1)" font-family="'DejaVu Sans','Liberation Sans',sans-serif" font-size="58.33">Clear</text>
<text transform="translate(1301.96,1261.5) scale(1.0181,1)" font-family="'DejaVu Sans','Liberation Sans',sans-serif" font-size="58.33">Water</text>
<text transform="translate(2471.43,1261.5) scale(0.9948,1)" font-family="'DejaVu Sans','Liberation Sans',sans-serif" font-size="58.33">Ice</text>
<text transform="translate(3553.35,1263.5) scale(1.0160,1)" font-family="'DejaVu Sans','Liberation Sans',sans-serif" font-size="58.33">Other</text>
</g>
<g id="legend" fill="#000">
<rect x="282" y="1312.9" width="618.1" height="142.3" fill="#fff" stroke="#000" stroke-width="5.9"/>
<rect x="1027" y="1312.9" width="585.2" height="142.3" fill="#fff" stroke="#000" stroke-width="5.9"/>
<rect x="320.9" y="1500" width="579.2" height="149.2" fill="#fff" stroke="#000" stroke-width="5.9"/>
<rect x="2328.3" y="1313" width="559.0" height="402.2" fill="#fff" stroke="#000" stroke-width="5.9"/>
<circle cx="319.3" cy="1383.8" r="16.8" fill="#32cd32"/>
<text transform="translate(356.60,1405.9) scale(0.9998,1)" font-family="'DejaVu Sans','Liberation Sans',sans-serif" font-size="58.33">FCI-CTTH SL Wat</text>
<circle cx="1064.3" cy="1383.8" r="16.8" fill="#0000ff"/>
<text transform="translate(1101.60,1405.9) scale(0.9993,1)" font-family="'DejaVu Sans','Liberation Sans',sans-serif" font-size="58.33">FCI-CTTH SL Ice</text>
<circle cx="357.9" cy="1574.7" r="16.8" fill="#808080"/>
<text transform="translate(394.98,1596.8) scale(1.0034,1)" font-family="'DejaVu Sans','Liberation Sans',sans-serif" font-size="58.33">FCI-CTTH Other</text>
<path shape-rendering="crispEdges" d="M2347.8 1394.1L2365.1 1363.7L2382.4 1394.1Z" fill="#f00"/>
<text transform="translate(2403.00,1405.6) scale(1.0040,1)" font-family="'DejaVu Sans','Liberation Sans',sans-serif" font-size="58.33">ACTRIS CBH</text>
<path shape-rendering="crispEdges" d="M2347.8 1460.0L2365.1 1490.4L2382.4 1460.0Z" fill="#f00"/>
<text transform="translate(2403.00,1492.1) scale(1.0040,1)" font-family="'DejaVu Sans','Liberation Sans',sans-serif" font-size="58.33">ACTRIS CTH</text>
<path shape-rendering="crispEdges" d="M2347.8 1567.1L2365.1 1536.7L2382.4 1567.1Z" fill="#f00"/><path shape-rendering="crispEdges" d="M2358.3 1561.0L2365.1 1549.0L2371.9 1561.0Z" fill="#fff"/>
<text transform="translate(2403.00,1578.6) scale(1.0040,1)" font-family="'DejaVu Sans','Liberation Sans',sans-serif" font-size="58.33">ACTRIS CBH BL</text>
<path shape-rendering="crispEdges" d="M2347.8 1633.0L2365.1 1663.4L2382.4 1633.0Z" fill="#f00"/><path shape-rendering="crispEdges" d="M2358.3 1639.1L2365.1 1651.1L2371.9 1639.1Z" fill="#fff"/>
<text transform="translate(2403.00,1665.1) scale(1.0040,1)" font-family="'DejaVu Sans','Liberation Sans',sans-serif" font-size="58.33">ACTRIS CTH BL</text>
</g>
</svg>
</body></html>
